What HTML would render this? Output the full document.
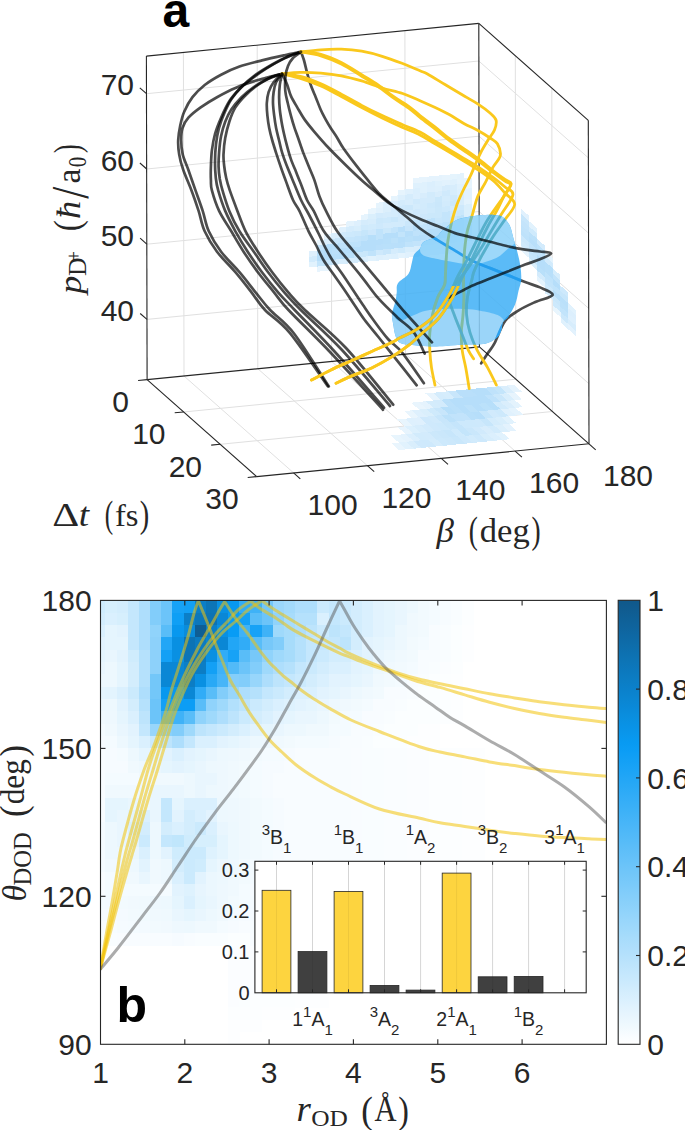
<!DOCTYPE html>
<html><head><meta charset="utf-8"><title>figure</title><style>
html,body{margin:0;padding:0;background:#fff;width:685px;height:1130px;overflow:hidden}
svg{display:block}
</style></head><body>
<svg width="685" height="1130" viewBox="0 0 685 1130">
<rect width="685" height="1130" fill="#fff"/>
<g><line x1="184" y1="376" x2="183.4" y2="52.5" stroke="#e0e0e0" stroke-width="1"/><line x1="257.8" y1="368.7" x2="257.2" y2="45.2" stroke="#e0e0e0" stroke-width="1"/><line x1="331.7" y1="361.5" x2="331.1" y2="37.9" stroke="#e0e0e0" stroke-width="1"/><line x1="405.5" y1="354.2" x2="404.9" y2="30.6" stroke="#e0e0e0" stroke-width="1"/><line x1="147" y1="319.4" x2="479.3" y2="286.7" stroke="#e0e0e0" stroke-width="1"/><line x1="146.8" y1="244.2" x2="479.1" y2="211.5" stroke="#e0e0e0" stroke-width="1"/><line x1="146.7" y1="169" x2="479" y2="136.2" stroke="#e0e0e0" stroke-width="1"/><line x1="146.5" y1="93.7" x2="478.8" y2="61" stroke="#e0e0e0" stroke-width="1"/><line x1="515.9" y1="379.2" x2="515.3" y2="55.7" stroke="#e0e0e0" stroke-width="1"/><line x1="552.4" y1="411.5" x2="551.8" y2="88" stroke="#e0e0e0" stroke-width="1"/><line x1="479.3" y1="286.7" x2="588.9" y2="383.7" stroke="#e0e0e0" stroke-width="1"/><line x1="479.1" y1="211.5" x2="588.7" y2="308.4" stroke="#e0e0e0" stroke-width="1"/><line x1="479" y1="136.2" x2="588.6" y2="233.2" stroke="#e0e0e0" stroke-width="1"/><line x1="478.8" y1="61" x2="588.4" y2="157.9" stroke="#e0e0e0" stroke-width="1"/><line x1="184" y1="376" x2="293.6" y2="472.9" stroke="#e0e0e0" stroke-width="1"/><line x1="257.8" y1="368.7" x2="367.4" y2="465.7" stroke="#e0e0e0" stroke-width="1"/><line x1="331.7" y1="361.5" x2="441.3" y2="458.4" stroke="#e0e0e0" stroke-width="1"/><line x1="405.5" y1="354.2" x2="515.1" y2="451.1" stroke="#e0e0e0" stroke-width="1"/><line x1="183.6" y1="412" x2="515.9" y2="379.2" stroke="#e0e0e0" stroke-width="1"/><line x1="220.1" y1="444.3" x2="552.4" y2="411.5" stroke="#e0e0e0" stroke-width="1"/></g>
<g shape-rendering="crispEdges"><path d="M309.4,267.3L316.7,266.6L316.7,261.3L309.3,262.1Z" fill="#e1f2fd"/><path d="M309.3,262.1L316.7,261.3L316.7,256.1L309.3,256.8Z" fill="#d2ebfc"/><path d="M309.3,256.8L316.7,256.1L316.7,250.8L309.3,251.5Z" fill="#def0fd"/><path d="M316.7,271.9L324.1,271.1L324.1,265.9L316.7,266.6Z" fill="#e7f4fd"/><path d="M316.7,266.6L324.1,265.9L324.1,260.6L316.7,261.3Z" fill="#c4e5fb"/><path d="M316.7,261.3L324.1,260.6L324.1,255.3L316.7,256.1Z" fill="#b6defa"/><path d="M316.7,256.1L324.1,255.3L324.1,250.1L316.7,250.8Z" fill="#b8dffa"/><path d="M316.7,250.8L324.1,250.1L324.1,244.8L316.7,245.5Z" fill="#c4e4fb"/><path d="M316.7,245.5L324.1,244.8L324.1,239.5L316.7,240.3Z" fill="#e8f5fd"/><path d="M324.1,271.1L331.5,270.4L331.5,265.2L324.1,265.9Z" fill="#e7f4fd"/><path d="M324.1,265.9L331.5,265.2L331.5,259.9L324.1,260.6Z" fill="#c6e5fb"/><path d="M324.1,260.6L331.5,259.9L331.5,254.6L324.1,255.3Z" fill="#b6defa"/><path d="M324.1,255.3L331.5,254.6L331.5,249.4L324.1,250.1Z" fill="#b6defa"/><path d="M324.1,250.1L331.5,249.4L331.5,244.1L324.1,244.8Z" fill="#b6defa"/><path d="M324.1,244.8L331.5,244.1L331.5,238.8L324.1,239.5Z" fill="#daeefc"/><path d="M324.1,239.5L331.5,238.8L331.4,233.5L324.1,234.3Z" fill="#e9f5fd"/><path d="M331.5,265.2L338.9,264.4L338.9,259.2L331.5,259.9Z" fill="#d0eafc"/><path d="M331.5,259.9L338.9,259.2L338.9,253.9L331.5,254.6Z" fill="#b8dffa"/><path d="M331.5,254.6L338.9,253.9L338.9,248.6L331.5,249.4Z" fill="#bbe0fa"/><path d="M331.5,249.4L338.9,248.6L338.8,243.4L331.5,244.1Z" fill="#b8dffa"/><path d="M331.5,244.1L338.8,243.4L338.8,238.1L331.5,238.8Z" fill="#c8e6fb"/><path d="M331.5,238.8L338.8,238.1L338.8,232.8L331.4,233.5Z" fill="#daeefc"/><path d="M338.9,264.4L346.3,263.7L346.3,258.4L338.9,259.2Z" fill="#d7edfc"/><path d="M338.9,259.2L346.3,258.4L346.3,253.2L338.9,253.9Z" fill="#b6defa"/><path d="M338.9,253.9L346.3,253.2L346.2,247.9L338.9,248.6Z" fill="#b6defa"/><path d="M338.9,248.6L346.2,247.9L346.2,242.6L338.8,243.4Z" fill="#bee2fb"/><path d="M338.8,243.4L346.2,242.6L346.2,237.4L338.8,238.1Z" fill="#c6e5fb"/><path d="M338.8,238.1L346.2,237.4L346.2,232.1L338.8,232.8Z" fill="#d1eafc"/><path d="M338.8,232.8L346.2,232.1L346.2,226.8L338.8,227.6Z" fill="#e0f1fd"/><path d="M346.3,263.7L353.7,263L353.6,257.7L346.3,258.4Z" fill="#d5ecfc"/><path d="M346.3,258.4L353.6,257.7L353.6,252.4L346.3,253.2Z" fill="#bae0fa"/><path d="M346.3,253.2L353.6,252.4L353.6,247.2L346.2,247.9Z" fill="#b6defa"/><path d="M346.2,247.9L353.6,247.2L353.6,241.9L346.2,242.6Z" fill="#bee2fa"/><path d="M346.2,242.6L353.6,241.9L353.6,236.6L346.2,237.4Z" fill="#c5e5fb"/><path d="M346.2,237.4L353.6,236.6L353.6,231.4L346.2,232.1Z" fill="#cde9fc"/><path d="M346.2,232.1L353.6,231.4L353.6,226.1L346.2,226.8Z" fill="#d5ecfc"/><path d="M346.2,226.8L353.6,226.1L353.6,220.8L346.2,221.6Z" fill="#e4f3fd"/><path d="M353.7,263L361,262.2L361,257L353.6,257.7Z" fill="#d3ebfc"/><path d="M353.6,257.7L361,257L361,251.7L353.6,252.4Z" fill="#cae7fb"/><path d="M353.6,252.4L361,251.7L361,246.4L353.6,247.2Z" fill="#b6defa"/><path d="M353.6,247.2L361,246.4L361,241.2L353.6,241.9Z" fill="#bee2fb"/><path d="M353.6,241.9L361,241.2L361,235.9L353.6,236.6Z" fill="#c3e4fb"/><path d="M353.6,236.6L361,235.9L361,230.6L353.6,231.4Z" fill="#cce8fb"/><path d="M353.6,231.4L361,230.6L361,225.4L353.6,226.1Z" fill="#d8eefc"/><path d="M353.6,226.1L361,225.4L361,220.1L353.6,220.8Z" fill="#def0fd"/><path d="M361,262.2L368.4,261.5L368.4,256.2L361,257Z" fill="#dbeffd"/><path d="M361,257L368.4,256.2L368.4,251L361,251.7Z" fill="#c9e7fb"/><path d="M361,251.7L368.4,251L368.4,245.7L361,246.4Z" fill="#b6defa"/><path d="M361,246.4L368.4,245.7L368.4,240.4L361,241.2Z" fill="#b6defa"/><path d="M361,241.2L368.4,240.4L368.4,235.2L361,235.9Z" fill="#c0e3fb"/><path d="M361,235.9L368.4,235.2L368.4,229.9L361,230.6Z" fill="#c6e6fb"/><path d="M361,230.6L368.4,229.9L368.4,224.6L361,225.4Z" fill="#cfeafc"/><path d="M361,225.4L368.4,224.6L368.3,219.4L361,220.1Z" fill="#d5ecfc"/><path d="M361,220.1L368.3,219.4L368.3,214.1L360.9,214.8Z" fill="#e6f4fd"/><path d="M368.4,261.5L375.8,260.8L375.8,255.5L368.4,256.2Z" fill="#e1f2fd"/><path d="M368.4,256.2L375.8,255.5L375.8,250.3L368.4,251Z" fill="#c0e3fb"/><path d="M368.4,251L375.8,250.3L375.8,245L368.4,245.7Z" fill="#b6defa"/><path d="M368.4,245.7L375.8,245L375.8,239.7L368.4,240.4Z" fill="#b6defa"/><path d="M368.4,240.4L375.8,239.7L375.8,234.5L368.4,235.2Z" fill="#b7dffa"/><path d="M368.4,235.2L375.8,234.5L375.7,229.2L368.4,229.9Z" fill="#cde8fc"/><path d="M368.4,229.9L375.7,229.2L375.7,223.9L368.4,224.6Z" fill="#d1ebfc"/><path d="M368.4,224.6L375.7,223.9L375.7,218.7L368.3,219.4Z" fill="#d7edfc"/><path d="M368.3,219.4L375.7,218.7L375.7,213.4L368.3,214.1Z" fill="#daeffc"/><path d="M368.3,214.1L375.7,213.4L375.7,208.1L368.3,208.8Z" fill="#e8f5fd"/><path d="M375.8,260.8L383.2,260.1L383.2,254.8L375.8,255.5Z" fill="#ddf0fd"/><path d="M375.8,255.5L383.2,254.8L383.2,249.5L375.8,250.3Z" fill="#cee9fc"/><path d="M375.8,250.3L383.2,249.5L383.2,244.3L375.8,245Z" fill="#b9dffa"/><path d="M375.8,245L383.2,244.3L383.2,239L375.8,239.7Z" fill="#b6defa"/><path d="M375.8,239.7L383.2,239L383.1,233.7L375.8,234.5Z" fill="#c0e3fb"/><path d="M375.8,234.5L383.1,233.7L383.1,228.5L375.7,229.2Z" fill="#c0e3fb"/><path d="M375.7,229.2L383.1,228.5L383.1,223.2L375.7,223.9Z" fill="#cee9fc"/><path d="M375.7,223.9L383.1,223.2L383.1,217.9L375.7,218.7Z" fill="#cce8fb"/><path d="M375.7,218.7L383.1,217.9L383.1,212.7L375.7,213.4Z" fill="#d3ebfc"/><path d="M375.7,213.4L383.1,212.7L383.1,207.4L375.7,208.1Z" fill="#e2f2fd"/><path d="M375.7,208.1L383.1,207.4L383.1,202.1L375.7,202.9Z" fill="#e6f4fd"/><path d="M383.2,260.1L390.6,259.3L390.6,254.1L383.2,254.8Z" fill="#dff1fd"/><path d="M383.2,254.8L390.6,254.1L390.6,248.8L383.2,249.5Z" fill="#c8e6fb"/><path d="M383.2,249.5L390.6,248.8L390.5,243.5L383.2,244.3Z" fill="#b9e0fa"/><path d="M383.2,244.3L390.5,243.5L390.5,238.3L383.2,239Z" fill="#b7dffa"/><path d="M383.2,239L390.5,238.3L390.5,233L383.1,233.7Z" fill="#b6defa"/><path d="M383.1,233.7L390.5,233L390.5,227.7L383.1,228.5Z" fill="#cbe8fb"/><path d="M383.1,228.5L390.5,227.7L390.5,222.5L383.1,223.2Z" fill="#d3ebfc"/><path d="M383.1,223.2L390.5,222.5L390.5,217.2L383.1,217.9Z" fill="#cde9fc"/><path d="M383.1,217.9L390.5,217.2L390.5,211.9L383.1,212.7Z" fill="#d5ecfc"/><path d="M383.1,212.7L390.5,211.9L390.5,206.7L383.1,207.4Z" fill="#dbeffc"/><path d="M383.1,207.4L390.5,206.7L390.5,201.4L383.1,202.1Z" fill="#ddf0fd"/><path d="M390.6,259.3L398,258.6L398,253.3L390.6,254.1Z" fill="#ddf0fd"/><path d="M390.6,254.1L398,253.3L397.9,248.1L390.6,248.8Z" fill="#d5ecfc"/><path d="M390.6,248.8L397.9,248.1L397.9,242.8L390.5,243.5Z" fill="#b9dffa"/><path d="M390.5,243.5L397.9,242.8L397.9,237.5L390.5,238.3Z" fill="#bce1fa"/><path d="M390.5,238.3L397.9,237.5L397.9,232.3L390.5,233Z" fill="#b6defa"/><path d="M390.5,233L397.9,232.3L397.9,227L390.5,227.7Z" fill="#c3e4fb"/><path d="M390.5,227.7L397.9,227L397.9,221.7L390.5,222.5Z" fill="#d2ebfc"/><path d="M390.5,222.5L397.9,221.7L397.9,216.5L390.5,217.2Z" fill="#c9e7fb"/><path d="M390.5,217.2L397.9,216.5L397.9,211.2L390.5,211.9Z" fill="#d4ecfc"/><path d="M390.5,211.9L397.9,211.2L397.9,205.9L390.5,206.7Z" fill="#d3ebfc"/><path d="M390.5,206.7L397.9,205.9L397.9,200.7L390.5,201.4Z" fill="#dbeffd"/><path d="M390.5,201.4L397.9,200.7L397.8,195.4L390.5,196.1Z" fill="#e6f4fd"/><path d="M398,258.6L405.3,257.9L405.3,252.6L398,253.3Z" fill="#e4f3fd"/><path d="M398,253.3L405.3,252.6L405.3,247.3L397.9,248.1Z" fill="#cfeafc"/><path d="M397.9,248.1L405.3,247.3L405.3,242.1L397.9,242.8Z" fill="#b8dffa"/><path d="M397.9,242.8L405.3,242.1L405.3,236.8L397.9,237.5Z" fill="#b6defa"/><path d="M397.9,237.5L405.3,236.8L405.3,231.5L397.9,232.3Z" fill="#c2e4fb"/><path d="M397.9,232.3L405.3,231.5L405.3,226.3L397.9,227Z" fill="#b9dffa"/><path d="M397.9,227L405.3,226.3L405.3,221L397.9,221.7Z" fill="#d2ebfc"/><path d="M397.9,221.7L405.3,221L405.3,215.7L397.9,216.5Z" fill="#d0eafc"/><path d="M397.9,216.5L405.3,215.7L405.3,210.5L397.9,211.2Z" fill="#d0eafc"/><path d="M397.9,211.2L405.3,210.5L405.2,205.2L397.9,205.9Z" fill="#cee9fc"/><path d="M397.9,205.9L405.2,205.2L405.2,199.9L397.9,200.7Z" fill="#d4ecfc"/><path d="M397.9,200.7L405.2,199.9L405.2,194.7L397.8,195.4Z" fill="#ddf0fd"/><path d="M397.8,195.4L405.2,194.7L405.2,189.4L397.8,190.1Z" fill="#e6f4fd"/><path d="M405.3,257.9L412.7,257.2L412.7,251.9L405.3,252.6Z" fill="#e0f1fd"/><path d="M405.3,252.6L412.7,251.9L412.7,246.6L405.3,247.3Z" fill="#d8eefc"/><path d="M405.3,247.3L412.7,246.6L412.7,241.4L405.3,242.1Z" fill="#c0e3fb"/><path d="M405.3,242.1L412.7,241.4L412.7,236.1L405.3,236.8Z" fill="#b9e0fa"/><path d="M405.3,236.8L412.7,236.1L412.7,230.8L405.3,231.5Z" fill="#b6defa"/><path d="M405.3,231.5L412.7,230.8L412.7,225.5L405.3,226.3Z" fill="#c6e5fb"/><path d="M405.3,226.3L412.7,225.5L412.7,220.3L405.3,221Z" fill="#cae7fb"/><path d="M405.3,221L412.7,220.3L412.7,215L405.3,215.7Z" fill="#d4ecfc"/><path d="M405.3,215.7L412.7,215L412.6,209.7L405.3,210.5Z" fill="#d4ecfc"/><path d="M405.3,210.5L412.6,209.7L412.6,204.5L405.2,205.2Z" fill="#cce8fb"/><path d="M405.2,205.2L412.6,204.5L412.6,199.2L405.2,199.9Z" fill="#d7edfc"/><path d="M405.2,199.9L412.6,199.2L412.6,193.9L405.2,194.7Z" fill="#d5ecfc"/><path d="M405.2,194.7L412.6,193.9L412.6,188.7L405.2,189.4Z" fill="#e0f1fd"/><path d="M412.7,257.2L420.1,256.4L420.1,251.2L412.7,251.9Z" fill="#e0f1fd"/><path d="M412.7,251.9L420.1,251.2L420.1,245.9L412.7,246.6Z" fill="#d7edfc"/><path d="M412.7,246.6L420.1,245.9L420.1,240.6L412.7,241.4Z" fill="#c3e4fb"/><path d="M412.7,241.4L420.1,240.6L420.1,235.4L412.7,236.1Z" fill="#b6defa"/><path d="M412.7,236.1L420.1,235.4L420.1,230.1L412.7,230.8Z" fill="#bfe2fb"/><path d="M412.7,230.8L420.1,230.1L420.1,224.8L412.7,225.5Z" fill="#b8dffa"/><path d="M412.7,225.5L420.1,224.8L420,219.6L412.7,220.3Z" fill="#c2e4fb"/><path d="M412.7,220.3L420,219.6L420,214.3L412.7,215Z" fill="#d3ebfc"/><path d="M412.7,215L420,214.3L420,209L412.6,209.7Z" fill="#cfe9fc"/><path d="M412.6,209.7L420,209L420,203.8L412.6,204.5Z" fill="#d4ecfc"/><path d="M412.6,204.5L420,203.8L420,198.5L412.6,199.2Z" fill="#d0eafc"/><path d="M412.6,199.2L420,198.5L420,193.2L412.6,193.9Z" fill="#dceffd"/><path d="M412.6,193.9L420,193.2L420,188L412.6,188.7Z" fill="#dbeffd"/><path d="M412.6,188.7L420,188L420,182.7L412.6,183.4Z" fill="#dff1fd"/><path d="M412.6,183.4L420,182.7L420,177.4L412.6,178.1Z" fill="#e7f4fd"/><path d="M420.1,256.4L427.5,255.7L427.5,250.4L420.1,251.2Z" fill="#e3f2fd"/><path d="M420.1,251.2L427.5,250.4L427.5,245.2L420.1,245.9Z" fill="#d5ecfc"/><path d="M420.1,245.9L427.5,245.2L427.5,239.9L420.1,240.6Z" fill="#c5e5fb"/><path d="M420.1,240.6L427.5,239.9L427.5,234.6L420.1,235.4Z" fill="#b6defa"/><path d="M420.1,235.4L427.5,234.6L427.5,229.4L420.1,230.1Z" fill="#bbe1fa"/><path d="M420.1,230.1L427.5,229.4L427.4,224.1L420.1,224.8Z" fill="#c3e4fb"/><path d="M420.1,224.8L427.4,224.1L427.4,218.8L420,219.6Z" fill="#cde9fc"/><path d="M420,219.6L427.4,218.8L427.4,213.6L420,214.3Z" fill="#cde8fc"/><path d="M420,214.3L427.4,213.6L427.4,208.3L420,209Z" fill="#d1eafc"/><path d="M420,209L427.4,208.3L427.4,203L420,203.8Z" fill="#d2ebfc"/><path d="M420,203.8L427.4,203L427.4,197.8L420,198.5Z" fill="#d3ebfc"/><path d="M420,198.5L427.4,197.8L427.4,192.5L420,193.2Z" fill="#d8edfc"/><path d="M420,193.2L427.4,192.5L427.4,187.2L420,188Z" fill="#dff1fd"/><path d="M420,188L427.4,187.2L427.4,182L420,182.7Z" fill="#dff1fd"/><path d="M420,182.7L427.4,182L427.3,176.7L420,177.4Z" fill="#e7f4fd"/><path d="M427.5,255.7L434.9,255L434.9,249.7L427.5,250.4Z" fill="#e5f3fd"/><path d="M427.5,250.4L434.9,249.7L434.9,244.4L427.5,245.2Z" fill="#d4ecfc"/><path d="M427.5,245.2L434.9,244.4L434.9,239.2L427.5,239.9Z" fill="#cce8fb"/><path d="M427.5,239.9L434.9,239.2L434.8,233.9L427.5,234.6Z" fill="#b6defa"/><path d="M427.5,234.6L434.8,233.9L434.8,228.6L427.5,229.4Z" fill="#b6defa"/><path d="M427.5,229.4L434.8,228.6L434.8,223.4L427.4,224.1Z" fill="#bfe2fb"/><path d="M427.4,224.1L434.8,223.4L434.8,218.1L427.4,218.8Z" fill="#bee2fb"/><path d="M427.4,218.8L434.8,218.1L434.8,212.8L427.4,213.6Z" fill="#cbe8fb"/><path d="M427.4,213.6L434.8,212.8L434.8,207.6L427.4,208.3Z" fill="#cfeafc"/><path d="M427.4,208.3L434.8,207.6L434.8,202.3L427.4,203Z" fill="#cde9fc"/><path d="M427.4,203L434.8,202.3L434.8,197L427.4,197.8Z" fill="#d3ebfc"/><path d="M427.4,197.8L434.8,197L434.8,191.8L427.4,192.5Z" fill="#d2ebfc"/><path d="M427.4,192.5L434.8,191.8L434.8,186.5L427.4,187.2Z" fill="#dceffd"/><path d="M427.4,187.2L434.8,186.5L434.7,181.2L427.4,182Z" fill="#dbeffd"/><path d="M427.4,182L434.7,181.2L434.7,176L427.3,176.7Z" fill="#e5f3fd"/><path d="M434.9,255L442.3,254.2L442.3,249L434.9,249.7Z" fill="#e6f4fd"/><path d="M434.9,249.7L442.3,249L442.3,243.7L434.9,244.4Z" fill="#d5ecfc"/><path d="M434.9,244.4L442.3,243.7L442.2,238.4L434.9,239.2Z" fill="#d1eafc"/><path d="M434.9,239.2L442.2,238.4L442.2,233.2L434.8,233.9Z" fill="#b6defa"/><path d="M434.8,233.9L442.2,233.2L442.2,227.9L434.8,228.6Z" fill="#b6defa"/><path d="M434.8,228.6L442.2,227.9L442.2,222.6L434.8,223.4Z" fill="#c0e3fb"/><path d="M434.8,223.4L442.2,222.6L442.2,217.4L434.8,218.1Z" fill="#c7e6fb"/><path d="M434.8,218.1L442.2,217.4L442.2,212.1L434.8,212.8Z" fill="#cbe8fb"/><path d="M434.8,212.8L442.2,212.1L442.2,206.8L434.8,207.6Z" fill="#cbe8fb"/><path d="M434.8,207.6L442.2,206.8L442.2,201.6L434.8,202.3Z" fill="#cae7fb"/><path d="M434.8,202.3L442.2,201.6L442.2,196.3L434.8,197Z" fill="#cbe8fb"/><path d="M434.8,197L442.2,196.3L442.1,191L434.8,191.8Z" fill="#d8edfc"/><path d="M434.8,191.8L442.1,191L442.1,185.8L434.8,186.5Z" fill="#ddf0fd"/><path d="M434.8,186.5L442.1,185.8L442.1,180.5L434.7,181.2Z" fill="#dff1fd"/><path d="M434.7,181.2L442.1,180.5L442.1,175.2L434.7,176Z" fill="#e5f3fd"/><path d="M442.3,254.2L449.7,253.5L449.6,248.2L442.3,249Z" fill="#e2f2fd"/><path d="M442.3,249L449.6,248.2L449.6,243L442.3,243.7Z" fill="#d6edfc"/><path d="M442.3,243.7L449.6,243L449.6,237.7L442.2,238.4Z" fill="#d3ebfc"/><path d="M442.2,238.4L449.6,237.7L449.6,232.4L442.2,233.2Z" fill="#b6defa"/><path d="M442.2,233.2L449.6,232.4L449.6,227.2L442.2,227.9Z" fill="#b9e0fa"/><path d="M442.2,227.9L449.6,227.2L449.6,221.9L442.2,222.6Z" fill="#bce1fa"/><path d="M442.2,222.6L449.6,221.9L449.6,216.6L442.2,217.4Z" fill="#c4e5fb"/><path d="M442.2,217.4L449.6,216.6L449.6,211.4L442.2,212.1Z" fill="#c4e5fb"/><path d="M442.2,212.1L449.6,211.4L449.6,206.1L442.2,206.8Z" fill="#cde9fc"/><path d="M442.2,206.8L449.6,206.1L449.6,200.8L442.2,201.6Z" fill="#d2ebfc"/><path d="M442.2,201.6L449.6,200.8L449.5,195.6L442.2,196.3Z" fill="#d4ecfc"/><path d="M442.2,196.3L449.5,195.6L449.5,190.3L442.1,191Z" fill="#d0eafc"/><path d="M442.1,191L449.5,190.3L449.5,185L442.1,185.8Z" fill="#d6ecfc"/><path d="M442.1,185.8L449.5,185L449.5,179.8L442.1,180.5Z" fill="#e2f2fd"/><path d="M442.1,180.5L449.5,179.8L449.5,174.5L442.1,175.2Z" fill="#e7f4fd"/><path d="M449.7,253.5L457,252.8L457,247.5L449.6,248.2Z" fill="#e3f2fd"/><path d="M449.6,248.2L457,247.5L457,242.3L449.6,243Z" fill="#e0f1fd"/><path d="M449.6,243L457,242.3L457,237L449.6,237.7Z" fill="#d2ebfc"/><path d="M449.6,237.7L457,237L457,231.7L449.6,232.4Z" fill="#bfe2fb"/><path d="M449.6,232.4L457,231.7L457,226.5L449.6,227.2Z" fill="#b6defa"/><path d="M449.6,227.2L457,226.5L457,221.2L449.6,221.9Z" fill="#bae0fa"/><path d="M449.6,221.9L457,221.2L457,215.9L449.6,216.6Z" fill="#c6e6fb"/><path d="M449.6,216.6L457,215.9L457,210.7L449.6,211.4Z" fill="#cde9fc"/><path d="M449.6,211.4L457,210.7L456.9,205.4L449.6,206.1Z" fill="#d3ebfc"/><path d="M449.6,206.1L456.9,205.4L456.9,200.1L449.6,200.8Z" fill="#cbe8fb"/><path d="M449.6,200.8L456.9,200.1L456.9,194.9L449.5,195.6Z" fill="#cfeafc"/><path d="M449.5,195.6L456.9,194.9L456.9,189.6L449.5,190.3Z" fill="#d6edfc"/><path d="M449.5,190.3L456.9,189.6L456.9,184.3L449.5,185Z" fill="#d7edfc"/><path d="M449.5,185L456.9,184.3L456.9,179L449.5,179.8Z" fill="#dff1fd"/><path d="M449.5,179.8L456.9,179L456.9,173.8L449.5,174.5Z" fill="#e5f4fd"/><path d="M457,252.8L464.4,252.1L464.4,246.8L457,247.5Z" fill="#e7f4fd"/><path d="M457,247.5L464.4,246.8L464.4,241.5L457,242.3Z" fill="#dff1fd"/><path d="M457,242.3L464.4,241.5L464.4,236.3L457,237Z" fill="#d6edfc"/><path d="M457,237L464.4,236.3L464.4,231L457,231.7Z" fill="#c3e4fb"/><path d="M457,231.7L464.4,231L464.4,225.7L457,226.5Z" fill="#c0e3fb"/><path d="M457,226.5L464.4,225.7L464.4,220.5L457,221.2Z" fill="#bee2fb"/><path d="M457,221.2L464.4,220.5L464.4,215.2L457,215.9Z" fill="#bde2fa"/><path d="M457,215.9L464.4,215.2L464.3,209.9L457,210.7Z" fill="#c9e7fb"/><path d="M457,210.7L464.3,209.9L464.3,204.7L456.9,205.4Z" fill="#cee9fc"/><path d="M456.9,205.4L464.3,204.7L464.3,199.4L456.9,200.1Z" fill="#d8edfc"/><path d="M456.9,200.1L464.3,199.4L464.3,194.1L456.9,194.9Z" fill="#d8eefc"/><path d="M456.9,194.9L464.3,194.1L464.3,188.9L456.9,189.6Z" fill="#dcf0fd"/><path d="M456.9,189.6L464.3,188.9L464.3,183.6L456.9,184.3Z" fill="#dff1fd"/><path d="M456.9,184.3L464.3,183.6L464.3,178.3L456.9,179Z" fill="#e4f3fd"/><path d="M456.9,179L464.3,178.3L464.3,173.1L456.9,173.8Z" fill="#e3f3fd"/><path d="M464.4,241.5L471.8,240.8L471.8,235.5L464.4,236.3Z" fill="#e0f1fd"/><path d="M464.4,236.3L471.8,235.5L471.8,230.3L464.4,231Z" fill="#d3ebfc"/><path d="M464.4,231L471.8,230.3L471.8,225L464.4,225.7Z" fill="#cee9fc"/><path d="M464.4,225.7L471.8,225L471.7,219.7L464.4,220.5Z" fill="#cae7fb"/><path d="M464.4,220.5L471.7,219.7L471.7,214.5L464.4,215.2Z" fill="#daeefc"/><path d="M464.4,215.2L471.7,214.5L471.7,209.2L464.3,209.9Z" fill="#daeffc"/><path d="M464.3,209.9L471.7,209.2L471.7,203.9L464.3,204.7Z" fill="#daeffc"/><path d="M464.3,204.7L471.7,203.9L471.7,198.7L464.3,199.4Z" fill="#e4f3fd"/><path d="M464.3,199.4L471.7,198.7L471.7,193.4L464.3,194.1Z" fill="#e2f2fd"/><path d="M464.3,194.1L471.7,193.4L471.7,188.1L464.3,188.9Z" fill="#e2f2fd"/><path d="M464.3,188.9L471.7,188.1L471.7,182.9L464.3,183.6Z" fill="#e8f5fd"/><path d="M464.3,183.6L471.7,182.9L471.7,177.6L464.3,178.3Z" fill="#e7f4fd"/><path d="M521.1,250.9L529,257.8L529,252.6L521.1,245.6Z" fill="#e5f3fd"/><path d="M521.1,245.6L529,252.6L529,247.3L521.1,240.4Z" fill="#d0eafc"/><path d="M521.1,240.4L529,247.3L529,242L521.1,235.1Z" fill="#cce8fc"/><path d="M521.1,235.1L529,242L528.9,236.8L521.1,229.8Z" fill="#bee2fb"/><path d="M521.1,229.8L528.9,236.8L528.9,231.5L521.1,224.6Z" fill="#c1e3fb"/><path d="M521.1,224.6L528.9,231.5L528.9,226.2L521.1,219.3Z" fill="#c4e4fb"/><path d="M521.1,219.3L528.9,226.2L528.9,221L521.1,214Z" fill="#c8e6fb"/><path d="M521.1,214L528.9,221L528.9,215.7L521.1,208.8Z" fill="#e1f1fd"/><path d="M529,263.1L536.9,270.1L536.8,264.8L529,257.8Z" fill="#daeffc"/><path d="M529,257.8L536.8,264.8L536.8,259.5L529,252.6Z" fill="#c7e6fb"/><path d="M529,252.6L536.8,259.5L536.8,254.3L529,247.3Z" fill="#c3e4fb"/><path d="M529,247.3L536.8,254.3L536.8,249L529,242Z" fill="#c1e3fb"/><path d="M529,242L536.8,249L536.8,243.7L528.9,236.8Z" fill="#b9dffa"/><path d="M528.9,236.8L536.8,243.7L536.8,238.5L528.9,231.5Z" fill="#bce1fa"/><path d="M528.9,231.5L536.8,238.5L536.8,233.2L528.9,226.2Z" fill="#cfeafc"/><path d="M528.9,226.2L536.8,233.2L536.8,227.9L528.9,221Z" fill="#e1f2fd"/><path d="M536.9,280.6L544.7,287.5L544.7,282.3L536.9,275.3Z" fill="#e4f3fd"/><path d="M536.9,275.3L544.7,282.3L544.7,277L536.9,270.1Z" fill="#d3ebfc"/><path d="M536.9,270.1L544.7,277L544.7,271.7L536.8,264.8Z" fill="#b9e0fa"/><path d="M536.8,264.8L544.7,271.7L544.7,266.5L536.8,259.5Z" fill="#b6defa"/><path d="M536.8,259.5L544.7,266.5L544.7,261.2L536.8,254.3Z" fill="#b6defa"/><path d="M536.8,254.3L544.7,261.2L544.7,255.9L536.8,249Z" fill="#c1e3fb"/><path d="M536.8,249L544.7,255.9L544.7,250.7L536.8,243.7Z" fill="#bee2fb"/><path d="M536.8,243.7L544.7,250.7L544.6,245.4L536.8,238.5Z" fill="#d3ebfc"/><path d="M544.7,292.8L552.6,299.7L552.6,294.5L544.7,287.5Z" fill="#d7edfc"/><path d="M544.7,287.5L552.6,294.5L552.6,289.2L544.7,282.3Z" fill="#cce8fb"/><path d="M544.7,282.3L552.6,289.2L552.6,283.9L544.7,277Z" fill="#c3e4fb"/><path d="M544.7,277L552.6,283.9L552.6,278.7L544.7,271.7Z" fill="#c0e3fb"/><path d="M544.7,271.7L552.6,278.7L552.5,273.4L544.7,266.5Z" fill="#b8dffa"/><path d="M544.7,266.5L552.5,273.4L552.5,268.1L544.7,261.2Z" fill="#b7dffa"/><path d="M544.7,261.2L552.5,268.1L552.5,262.9L544.7,255.9Z" fill="#d2ebfc"/><path d="M544.7,255.9L552.5,262.9L552.5,257.6L544.7,250.7Z" fill="#e4f3fd"/><path d="M552.6,310.3L560.5,317.2L560.5,312L552.6,305Z" fill="#e8f5fd"/><path d="M552.6,305L560.5,312L560.4,306.7L552.6,299.7Z" fill="#cde9fc"/><path d="M552.6,299.7L560.4,306.7L560.4,301.4L552.6,294.5Z" fill="#c9e7fb"/><path d="M552.6,294.5L560.4,301.4L560.4,296.2L552.6,289.2Z" fill="#b6defa"/><path d="M552.6,289.2L560.4,296.2L560.4,290.9L552.6,283.9Z" fill="#c0e3fb"/><path d="M552.6,283.9L560.4,290.9L560.4,285.6L552.6,278.7Z" fill="#b6defa"/><path d="M552.6,278.7L560.4,285.6L560.4,280.4L552.5,273.4Z" fill="#c3e4fb"/><path d="M552.5,273.4L560.4,280.4L560.4,275.1L552.5,268.1Z" fill="#d6edfc"/><path d="M560.5,322.5L568.3,329.4L568.3,324.2L560.5,317.2Z" fill="#dff1fd"/><path d="M560.5,317.2L568.3,324.2L568.3,318.9L560.5,312Z" fill="#cce8fb"/><path d="M560.5,312L568.3,318.9L568.3,313.6L560.4,306.7Z" fill="#c2e4fb"/><path d="M560.4,306.7L568.3,313.6L568.3,308.4L560.4,301.4Z" fill="#bce1fa"/><path d="M560.4,301.4L568.3,308.4L568.3,303.1L560.4,296.2Z" fill="#bae0fa"/><path d="M560.4,296.2L568.3,303.1L568.3,297.8L560.4,290.9Z" fill="#c7e6fb"/><path d="M560.4,290.9L568.3,297.8L568.3,292.6L560.4,285.6Z" fill="#cee9fc"/><path d="M568.3,329.4L576.2,336.4L576.2,331.1L568.3,324.2Z" fill="#e3f2fd"/><path d="M568.3,324.2L576.2,331.1L576.2,325.9L568.3,318.9Z" fill="#d7edfc"/><path d="M568.3,318.9L576.2,325.9L576.2,320.6L568.3,313.6Z" fill="#def0fd"/><path d="M568.3,313.6L576.2,320.6L576.1,315.3L568.3,308.4Z" fill="#dceffd"/><path d="M568.3,308.4L576.1,315.3L576.1,310.1L568.3,303.1Z" fill="#e1f2fd"/><path d="M391.3,443.2L398.7,442.5L406.5,449.4L399.1,450.2Z" fill="#e9f5fd"/><path d="M390.8,435.5L398.2,434.8L406.1,441.8L398.7,442.5Z" fill="#e8f5fd"/><path d="M398.7,442.5L406.1,441.8L413.9,448.7L406.5,449.4Z" fill="#e1f2fd"/><path d="M398.2,434.8L405.6,434.1L413.4,441L406.1,441.8Z" fill="#e5f3fd"/><path d="M406.1,441.8L413.4,441L421.3,448L413.9,448.7Z" fill="#d9eefc"/><path d="M397.7,427.1L405.1,426.4L413,433.4L405.6,434.1Z" fill="#e7f4fd"/><path d="M405.6,434.1L413,433.4L420.8,440.3L413.4,441Z" fill="#dbeffd"/><path d="M413.4,441L420.8,440.3L428.7,447.2L421.3,448Z" fill="#cfe9fc"/><path d="M397.3,419.5L404.7,418.7L412.5,425.7L405.1,426.4Z" fill="#e8f5fd"/><path d="M405.1,426.4L412.5,425.7L420.4,432.6L413,433.4Z" fill="#dcf0fd"/><path d="M413,433.4L420.4,432.6L428.2,439.6L420.8,440.3Z" fill="#d2ebfc"/><path d="M420.8,440.3L428.2,439.6L436.1,446.5L428.7,447.2Z" fill="#cee9fc"/><path d="M404.7,418.7L412,418L419.9,425L412.5,425.7Z" fill="#def0fd"/><path d="M412.5,425.7L419.9,425L427.7,431.9L420.4,432.6Z" fill="#d7edfc"/><path d="M420.4,432.6L427.7,431.9L435.6,438.8L428.2,439.6Z" fill="#d3ebfc"/><path d="M428.2,439.6L435.6,438.8L443.5,445.8L436.1,446.5Z" fill="#d4ecfc"/><path d="M404.2,411.1L411.6,410.3L419.4,417.3L412,418Z" fill="#e9f5fd"/><path d="M412,418L419.4,417.3L427.3,424.2L419.9,425Z" fill="#dff0fd"/><path d="M419.9,425L427.3,424.2L435.1,431.2L427.7,431.9Z" fill="#d3ebfc"/><path d="M427.7,431.9L435.1,431.2L443,438.1L435.6,438.8Z" fill="#cce8fb"/><path d="M435.6,438.8L443,438.1L450.8,445.1L443.5,445.8Z" fill="#cde9fc"/><path d="M411.6,410.3L418.9,409.6L426.8,416.6L419.4,417.3Z" fill="#def0fd"/><path d="M419.4,417.3L426.8,416.6L434.7,423.5L427.3,424.2Z" fill="#cfe9fc"/><path d="M427.3,424.2L434.7,423.5L442.5,430.4L435.1,431.2Z" fill="#cfe9fc"/><path d="M435.1,431.2L442.5,430.4L450.4,437.4L443,438.1Z" fill="#cae7fb"/><path d="M443,438.1L450.4,437.4L458.2,444.3L450.8,445.1Z" fill="#cce8fb"/><path d="M411.1,402.7L418.5,401.9L426.3,408.9L418.9,409.6Z" fill="#e9f5fd"/><path d="M418.9,409.6L426.3,408.9L434.2,415.8L426.8,416.6Z" fill="#daeffc"/><path d="M426.8,416.6L434.2,415.8L442,422.8L434.7,423.5Z" fill="#d1eafc"/><path d="M434.7,423.5L442,422.8L449.9,429.7L442.5,430.4Z" fill="#cde9fc"/><path d="M442.5,430.4L449.9,429.7L457.8,436.7L450.4,437.4Z" fill="#c7e6fb"/><path d="M450.4,437.4L457.8,436.7L465.6,443.6L458.2,444.3Z" fill="#c9e7fb"/><path d="M418.5,401.9L425.9,401.2L433.7,408.1L426.3,408.9Z" fill="#e5f3fd"/><path d="M426.3,408.9L433.7,408.1L441.6,415.1L434.2,415.8Z" fill="#cfeafc"/><path d="M434.2,415.8L441.6,415.1L449.4,422L442,422.8Z" fill="#c8e6fb"/><path d="M442,422.8L449.4,422L457.3,429L449.9,429.7Z" fill="#c9e7fb"/><path d="M449.9,429.7L457.3,429L465.1,435.9L457.8,436.7Z" fill="#cfeafc"/><path d="M457.8,436.7L465.1,435.9L473,442.9L465.6,443.6Z" fill="#cee9fc"/><path d="M425.9,401.2L433.2,400.5L441.1,407.4L433.7,408.1Z" fill="#d4ecfc"/><path d="M433.7,408.1L441.1,407.4L449,414.4L441.6,415.1Z" fill="#c8e6fb"/><path d="M441.6,415.1L449,414.4L456.8,421.3L449.4,422Z" fill="#bce1fa"/><path d="M449.4,422L456.8,421.3L464.7,428.3L457.3,429Z" fill="#c5e5fb"/><path d="M457.3,429L464.7,428.3L472.5,435.2L465.1,435.9Z" fill="#c4e5fb"/><path d="M465.1,435.9L472.5,435.2L480.4,442.2L473,442.9Z" fill="#d2ebfc"/><path d="M425.4,393.5L432.8,392.8L440.6,399.7L433.2,400.5Z" fill="#e7f4fd"/><path d="M433.2,400.5L440.6,399.7L448.5,406.7L441.1,407.4Z" fill="#d3ebfc"/><path d="M441.1,407.4L448.5,406.7L456.3,413.6L449,414.4Z" fill="#b7dffa"/><path d="M449,414.4L456.3,413.6L464.2,420.6L456.8,421.3Z" fill="#c1e3fb"/><path d="M456.8,421.3L464.2,420.6L472.1,427.5L464.7,428.3Z" fill="#cde9fc"/><path d="M464.7,428.3L472.1,427.5L479.9,434.5L472.5,435.2Z" fill="#cae7fb"/><path d="M472.5,435.2L479.9,434.5L487.8,441.4L480.4,442.2Z" fill="#cee9fc"/><path d="M432.8,392.8L440.2,392.1L448,399L440.6,399.7Z" fill="#d4ecfc"/><path d="M440.6,399.7L448,399L455.9,406L448.5,406.7Z" fill="#bbe0fa"/><path d="M448.5,406.7L455.9,406L463.7,412.9L456.3,413.6Z" fill="#bae0fa"/><path d="M456.3,413.6L463.7,412.9L471.6,419.9L464.2,420.6Z" fill="#c2e3fb"/><path d="M464.2,420.6L471.6,419.9L479.4,426.8L472.1,427.5Z" fill="#cde9fc"/><path d="M472.1,427.5L479.4,426.8L487.3,433.8L479.9,434.5Z" fill="#d1eafc"/><path d="M479.9,434.5L487.3,433.8L495.1,440.7L487.8,441.4Z" fill="#d6edfc"/><path d="M440.2,392.1L447.5,391.3L455.4,398.3L448,399Z" fill="#d6edfc"/><path d="M448,399L455.4,398.3L463.3,405.2L455.9,406Z" fill="#b6defa"/><path d="M455.9,406L463.3,405.2L471.1,412.2L463.7,412.9Z" fill="#b6defa"/><path d="M463.7,412.9L471.1,412.2L479,419.1L471.6,419.9Z" fill="#b8dffa"/><path d="M471.6,419.9L479,419.1L486.8,426.1L479.4,426.8Z" fill="#cee9fc"/><path d="M479.4,426.8L486.8,426.1L494.7,433L487.3,433.8Z" fill="#d8edfc"/><path d="M487.3,433.8L494.7,433L502.5,440L495.1,440.7Z" fill="#dbeffd"/><path d="M447.5,391.3L454.9,390.6L462.8,397.6L455.4,398.3Z" fill="#c8e6fb"/><path d="M455.4,398.3L462.8,397.6L470.6,404.5L463.3,405.2Z" fill="#b6defa"/><path d="M463.3,405.2L470.6,404.5L478.5,411.5L471.1,412.2Z" fill="#bce1fa"/><path d="M471.1,412.2L478.5,411.5L486.4,418.4L479,419.1Z" fill="#b6defa"/><path d="M479,419.1L486.4,418.4L494.2,425.4L486.8,426.1Z" fill="#c7e6fb"/><path d="M486.8,426.1L494.2,425.4L502.1,432.3L494.7,433Z" fill="#d2ebfc"/><path d="M494.7,433L502.1,432.3L509.9,439.2L502.5,440Z" fill="#e1f2fd"/><path d="M454.9,390.6L462.3,389.9L470.2,396.8L462.8,397.6Z" fill="#b9dffa"/><path d="M462.8,397.6L470.2,396.8L478,403.8L470.6,404.5Z" fill="#b6defa"/><path d="M470.6,404.5L478,403.8L485.9,410.7L478.5,411.5Z" fill="#b6defa"/><path d="M478.5,411.5L485.9,410.7L493.7,417.7L486.4,418.4Z" fill="#c7e6fb"/><path d="M486.4,418.4L493.7,417.7L501.6,424.6L494.2,425.4Z" fill="#d4ecfc"/><path d="M494.2,425.4L501.6,424.6L509.4,431.6L502.1,432.3Z" fill="#dbeffc"/><path d="M462.3,389.9L469.7,389.2L477.6,396.1L470.2,396.8Z" fill="#b9dffa"/><path d="M470.2,396.8L477.6,396.1L485.4,403.1L478,403.8Z" fill="#b6defa"/><path d="M478,403.8L485.4,403.1L493.3,410L485.9,410.7Z" fill="#bbe1fa"/><path d="M485.9,410.7L493.3,410L501.1,417L493.7,417.7Z" fill="#d1eafc"/><path d="M493.7,417.7L501.1,417L509,423.9L501.6,424.6Z" fill="#d8eefc"/><path d="M501.6,424.6L509,423.9L516.8,430.8L509.4,431.6Z" fill="#e3f2fd"/><path d="M469.7,389.2L477.1,388.4L484.9,395.4L477.6,396.1Z" fill="#b6defa"/><path d="M477.6,396.1L484.9,395.4L492.8,402.3L485.4,403.1Z" fill="#b6defa"/><path d="M485.4,403.1L492.8,402.3L500.6,409.3L493.3,410Z" fill="#b7dffa"/><path d="M493.3,410L500.6,409.3L508.5,416.2L501.1,417Z" fill="#cde9fc"/><path d="M501.1,417L508.5,416.2L516.4,423.2L509,423.9Z" fill="#e1f2fd"/><path d="M477.1,388.4L484.5,387.7L492.3,394.7L484.9,395.4Z" fill="#b6defa"/><path d="M484.9,395.4L492.3,394.7L500.2,401.6L492.8,402.3Z" fill="#bfe2fb"/><path d="M492.8,402.3L500.2,401.6L508,408.6L500.6,409.3Z" fill="#d2ebfc"/><path d="M500.6,409.3L508,408.6L515.9,415.5L508.5,416.2Z" fill="#e0f1fd"/><path d="M484.5,387.7L491.9,387L499.7,393.9L492.3,394.7Z" fill="#bfe2fb"/><path d="M492.3,394.7L499.7,393.9L507.6,400.9L500.2,401.6Z" fill="#cae7fb"/><path d="M500.2,401.6L507.6,400.9L515.4,407.8L508,408.6Z" fill="#daeefc"/><path d="M508,408.6L515.4,407.8L523.3,414.8L515.9,415.5Z" fill="#e4f3fd"/><path d="M491.9,387L499.2,386.3L507.1,393.2L499.7,393.9Z" fill="#c4e5fb"/><path d="M499.7,393.9L507.1,393.2L514.9,400.1L507.6,400.9Z" fill="#d9eefc"/><path d="M507.6,400.9L514.9,400.1L522.8,407.1L515.4,407.8Z" fill="#e4f3fd"/><path d="M499.2,386.3L506.6,385.5L514.5,392.5L507.1,393.2Z" fill="#daeefc"/><path d="M507.1,393.2L514.5,392.5L522.3,399.4L514.9,400.1Z" fill="#e7f4fd"/><path d="M506.6,385.5L514,384.8L521.9,391.7L514.5,392.5Z" fill="#e5f3fd"/></g>
<g stroke-linecap="butt"><line x1="147.1" y1="379.6" x2="146.4" y2="56.1" stroke="#262626" stroke-width="1.1"/><line x1="146.4" y1="56.1" x2="478.8" y2="23.4" stroke="#262626" stroke-width="1.1"/><line x1="478.8" y1="23.4" x2="479.4" y2="346.9" stroke="#262626" stroke-width="1.1"/><line x1="478.8" y1="23.4" x2="588.3" y2="120.3" stroke="#262626" stroke-width="1.1"/><line x1="588.3" y1="120.3" x2="589" y2="443.8" stroke="#262626" stroke-width="1.1"/><line x1="256.7" y1="476.6" x2="589" y2="443.8" stroke="#262626" stroke-width="1.1"/><line x1="147.1" y1="379.6" x2="256.7" y2="476.6" stroke="#262626" stroke-width="1.1"/><line x1="147.1" y1="379.6" x2="479.4" y2="346.9" stroke="#262626" stroke-width="1.1"/><line x1="479.4" y1="346.9" x2="589" y2="443.8" stroke="#262626" stroke-width="1.1"/><line x1="147" y1="319.4" x2="140.2" y2="313.5" stroke="#262626" stroke-width="1.1"/><line x1="146.8" y1="244.2" x2="140.1" y2="238.2" stroke="#262626" stroke-width="1.1"/><line x1="146.7" y1="169" x2="139.9" y2="163" stroke="#262626" stroke-width="1.1"/><line x1="146.5" y1="93.7" x2="139.8" y2="87.8" stroke="#262626" stroke-width="1.1"/><line x1="147.1" y1="379.6" x2="138.1" y2="380.5" stroke="#262626" stroke-width="1.1"/><line x1="183.6" y1="412" x2="174.7" y2="412.8" stroke="#262626" stroke-width="1.1"/><line x1="220.1" y1="444.3" x2="211.2" y2="445.1" stroke="#262626" stroke-width="1.1"/><line x1="256.7" y1="476.6" x2="247.7" y2="477.5" stroke="#262626" stroke-width="1.1"/><line x1="293.6" y1="472.9" x2="300.3" y2="478.9" stroke="#262626" stroke-width="1.1"/><line x1="367.4" y1="465.7" x2="374.2" y2="471.6" stroke="#262626" stroke-width="1.1"/><line x1="441.3" y1="458.4" x2="448" y2="464.4" stroke="#262626" stroke-width="1.1"/><line x1="515.1" y1="451.1" x2="521.9" y2="457.1" stroke="#262626" stroke-width="1.1"/><line x1="589" y1="443.8" x2="595.7" y2="449.8" stroke="#262626" stroke-width="1.1"/></g>
<g fill="none" stroke="#000" stroke-opacity="0.7" stroke-width="2.7" stroke-linejoin="round" stroke-linecap="round"><path d="M301,51.9C298.2,52.5 290.9,53.9 284.4,55.3C277.9,56.7 269.5,58.5 262,60.4C254.5,62.3 246.3,64.2 239.5,66.6C232.7,69 226.9,71.6 221.1,74.7C215.3,77.8 209.5,81.2 204.7,85C199.9,88.8 195.9,92.8 192.5,97.2C189.1,101.6 186.4,106.7 184.3,111.5C182.2,116.3 181.2,121 180.2,125.8C179.2,130.6 178.4,135.3 178.2,140.1C178,144.9 178.3,149.4 179.2,154.4C180,159.4 181.2,164 183.3,170C185.4,176 188.9,183.6 191.5,190.4C194.1,197.2 196.4,204.1 198.6,210.9C200.8,217.7 201.6,224.5 204.7,231.3C207.8,238.1 211.9,244.9 217,251.7C222.1,258.5 229.6,265.4 235.4,272.2C241.2,279 246.8,286.3 251.7,292.6C256.6,298.9 258.6,303.2 265,310C271.4,316.8 279.5,320.4 290,333.1C300.5,345.8 321.5,377.4 327.8,386.3"/><path d="M282.2,73.8C279.5,74.5 271.2,76.4 266.1,77.8C261,79.2 256.8,80.2 251.7,81.9C246.6,83.6 241.2,85.5 235.4,88C229.6,90.5 222.8,94 217,97.2C211.2,100.4 205.5,104 200.7,107.4C195.9,110.8 191.4,114.3 188.4,117.7C185.4,121.1 183.7,124.3 182.5,128C181.3,131.7 181.2,135.7 181.2,140.1C181.2,144.5 181.5,149.4 182.7,154.4C183.9,159.4 186.3,164 188.4,170C190.5,176 193.1,183.6 195.5,190.4C197.9,197.2 200.5,204.1 202.7,210.9C204.9,217.7 205.7,224.5 208.8,231.3C211.9,238.1 216,244.9 221.1,251.7C226.2,258.5 233.7,265.4 239.5,272.2C245.3,279 250.7,286.3 255.8,292.6C260.9,298.9 263.7,303.2 270.1,310C276.5,316.8 284.2,320.8 294,333.5C303.8,346.2 323,377.5 328.8,386.3"/><path d="M301,51.9C298.2,53 290.2,55.6 284.4,58.4C278.6,61.2 271.6,65.2 266.1,68.6C260.7,72 256.1,75.4 251.7,78.8C247.3,82.2 243.2,85.2 239.5,89C235.8,92.8 232.4,96.5 229.3,101.3C226.2,106.1 223.5,112.2 221.1,117.7C218.7,123.2 216.5,128.6 215,134C213.5,139.4 212.6,145 211.9,150.4C211.2,155.8 211.1,161.8 210.9,166.7C210.7,171.6 210.7,176.1 210.9,180C211.1,183.9 210.5,185.2 211.9,190.4C213.3,195.6 215.9,204.1 219.1,210.9C222.3,217.7 227.2,224.5 231.3,231.3C235.4,238.1 239.2,244.9 243.6,251.7C248,258.5 252.8,265.4 257.9,272.2C263,279 269.1,286.3 274.2,292.6C279.3,298.9 279.2,300.1 288.5,310C297.8,319.9 314.2,335.4 330,352C345.8,368.6 374.2,400.2 383,409.8"/><path d="M301,51.9C298.9,52.6 293.3,54.2 288.5,56.3C283.7,58.4 277.6,61.4 272.2,64.5C266.8,67.6 260.9,71 255.8,74.7C250.7,78.5 245.6,82.9 241.5,87C237.4,91.1 234.2,94.9 231.3,99.3C228.4,103.7 226.2,108.8 224.2,113.6C222.1,118.4 220.4,122.8 219,127.9C217.6,133 216.7,138.4 216,144.2C215.3,150 215,157 215,162.6C215,168.2 215.3,173.4 215.8,178C216.3,182.6 216.6,184.9 218.2,190.4C219.8,195.9 222.3,204.1 225.2,210.9C228.1,217.7 231.7,224.5 235.4,231.3C239.2,238.1 243.3,244.9 247.7,251.7C252.1,258.5 256.9,265.4 262,272.2C267.1,279 272.9,286.3 278.3,292.6C283.8,298.9 285.2,300.1 294.7,310C304.1,319.9 320.1,335.7 335,352C349.9,368.3 375.8,398.4 384,407.7"/><path d="M282.2,73.8C279.9,74.6 272.8,76.6 268.1,78.8C263.4,81 258.2,83.9 253.8,87C249.4,90.1 245.2,93.5 241.5,97.2C237.8,101 234,105.4 231.3,109.5C228.6,113.6 226.9,117.3 225.2,121.7C223.5,126.1 222.1,131 221.1,136.1C220.1,141.2 219.5,147.3 219.1,152.4C218.7,157.5 218.5,162.3 218.6,166.7C218.7,171.1 219.2,175.1 219.8,179C220.5,182.9 220.9,185.1 222.5,190.4C224.1,195.7 226.5,204.1 229.3,210.9C232.1,217.7 235.4,224.5 239.5,231.3C243.6,238.1 249,244.9 253.8,251.7C258.6,258.5 263,265.4 268.1,272.2C273.2,279 279.1,286.3 284.5,292.6C289.9,298.9 291.2,300.4 300.8,310C310.4,319.6 327.1,334 342,350C356.9,366 382,396.7 390,406"/><path d="M282.2,73.8C280.5,74.3 276.2,74.9 272.2,76.8C268.1,78.7 262.3,81.9 257.9,85C253.5,88.1 249.3,91.5 245.6,95.2C241.8,98.9 238.1,103 235.4,107.4C232.7,111.8 231,116.6 229.3,121.7C227.6,126.8 226.2,132.7 225.2,138.1C224.2,143.5 223.7,149.8 223.5,154.4C223.3,159.1 223.8,162.1 224.2,166C224.6,169.9 225.3,173.9 226.2,178C227.1,182.1 227.9,184.9 229.8,190.4C231.7,195.9 234.8,204.1 237.4,210.9C240,217.7 242.2,224.5 245.6,231.3C249,238.1 253.5,244.9 257.9,251.7C262.3,258.5 267.1,265.4 272.2,272.2C277.3,279 283.1,286.3 288.5,292.6C293.9,298.9 295.3,300.8 304.9,310C314.5,319.2 331.3,332.2 346,348C360.7,363.8 385.3,395.2 393.2,404.7"/><path d="M282.2,73.8C280.8,75.2 275.9,79.2 273.6,82.3C271.3,85.4 269.7,88.7 268.6,92.2C267.5,95.7 267,99.4 266.8,103.3C266.6,107.2 267,111.6 267.4,115.7C267.8,119.8 268.4,124 269.2,128.1C270,132.2 271.1,136.4 272.3,140.5C273.5,144.6 274.7,148.4 276.1,152.9C277.6,157.4 279.4,162.9 281,167.7C282.6,172.4 284,176 286,181.4C288,186.8 290.8,195.1 293,200C295.2,204.9 296.8,205.7 299.4,210.9C302,216.1 305.8,225.6 308.6,231.3C311.4,237 313.5,240.2 316,245C318.5,249.8 320.5,255 323.5,260C326.5,265 330.5,270 334,275C337.5,280 341.1,285 344.5,290C347.9,295 351.1,300 354.5,305C357.9,310 360.8,314.8 364.7,320C368.6,325.2 373.6,331 378,336.5C382.4,342 384.6,344.7 391,352.8C397.4,360.9 412.4,379.9 416.7,385.3"/><path d="M282.2,73.8C281.2,75.2 277.5,79.2 276.1,82.3C274.7,85.4 274.1,88.7 273.6,92.2C273.1,95.7 272.9,99.4 273,103.3C273.1,107.2 273.7,111.6 274.2,115.7C274.7,119.8 275.3,124 276.1,128.1C276.9,132.2 278.1,136.4 279.1,140.5C280.1,144.6 280.9,148.8 282.2,152.9C283.4,157 284.9,161 286.6,165.3C288.3,169.6 289.8,173.1 292.2,178.9C294.6,184.7 298.3,194.2 301,200C303.7,205.8 305.6,208.3 308.6,214C311.6,219.7 316.1,228.5 318.8,234C321.5,239.5 322.8,242.7 325,247C327.2,251.3 329.3,255.3 332.3,260C335.3,264.7 339.6,270 343,275C346.4,280 349.7,285 353,290C356.3,295 359.6,300 363,305C366.4,310 369.2,314.3 373.4,320C377.6,325.7 383.2,333.5 388,339C392.8,344.5 396.3,345.4 402.3,352.8C408.3,360.2 420.3,378.1 423.9,383.2"/><path d="M301,51.9C301.5,53.2 302.9,56.6 303.9,60C304.9,63.4 305.9,68.3 307,72.4C308.1,76.5 309.2,80.7 310.7,84.8C312.1,88.9 314,93.1 315.7,97.2C317.4,101.3 319,105.8 320.6,109.5C322.2,113.2 323.9,116.2 325.6,119.4C327.3,122.6 329.1,125.5 331,128.5C332.9,131.5 334.9,134.2 337,137.5C339.1,140.8 340.3,143.8 343.4,148.3C346.5,152.8 351.5,159.4 355.6,164.7C359.7,170 363.8,175.2 367.9,180.2C372,185.2 375.7,190.1 380.1,194.5C384.5,198.9 390.1,203.1 394.5,206.8C398.9,210.6 402.4,213.4 406.7,217C410.9,220.6 414.9,224.7 420,228.5C425.1,232.3 431.7,236.4 437.5,240.1C443.3,243.8 449.1,247.1 455,250.6C460.9,254.1 466.8,258.2 472.6,261.1C478.5,264 484.3,265.8 490.1,268.1C495.9,270.4 501.8,272.8 507.6,275.1C513.4,277.4 519.7,280.1 525.1,282.1C530.5,284.2 535.4,285.2 540,287.4C544.6,289.5 553.4,292.6 552.6,295C551.8,297.4 540.9,299.4 535.3,302C529.6,304.6 523.7,307.2 518.7,310.4C513.7,313.6 509.1,315.6 505.1,321C501.1,326.4 497.5,337.7 494.6,343.1C491.7,348.5 489.8,350.2 487.6,353.6C485.4,357 482.3,361.7 481.2,363.3"/></g>
<g fill="none" stroke="#fac81c" stroke-width="2.8" stroke-linejoin="round" stroke-linecap="round"><path d="M301,51.9C304.3,51.5 314.2,50.2 320.9,49.8C327.6,49.3 334.5,49 341.3,49.2C348.1,49.4 354.9,50 361.7,51.2C368.5,52.4 375.4,54.2 382.2,56.3C389,58.3 396.3,61.1 402.6,63.5C408.9,65.9 415.9,69 420,70.7C424.1,72.5 423.3,71.7 427.5,74C431.7,76.3 439.1,81 445,84.5C450.9,88 457,91.7 462.6,95C468.2,98.3 473.8,101.4 478.4,104.4C483,107.4 487.1,110.4 490,113C492.9,115.6 495.2,117.2 496,120C496.8,122.8 495.8,126.8 494.5,130.1C493.2,133.4 490.2,136.3 488,140C485.8,143.7 483,148.2 481,152C479,155.8 477.8,159 476,163C474.2,167 472.4,171.7 470.4,176C468.4,180.3 466.1,184.2 463.8,189C461.5,193.8 458.9,199.4 456.8,205C454.8,210.6 453,216.8 451.5,222.6C450,228.4 448.9,234.3 448,240.1C447.1,245.9 446.7,251.8 446.3,257.6C445.9,263.4 445.7,270.5 445.4,275.1C445.1,279.7 445.8,281.3 444.5,285C443.2,288.7 439.7,292.5 437.7,297.5C435.7,302.5 433.7,309.1 432.4,315C431.1,320.9 430.2,326.8 429.8,332.6C429.4,338.5 429.5,344.3 429.8,350.1C430.1,355.9 430.6,361.8 431.5,367.6C432.4,373.4 434.4,382.2 435,385.1"/><path d="M282.2,73.8C285.2,73.5 293.9,72.4 300.4,72.3C306.8,72.2 314.1,72.5 320.9,73.1C327.7,73.7 334.5,74.5 341.3,75.8C348.1,77.1 354.9,78.9 361.7,80.9C368.5,82.9 375.4,85.9 382.2,88C389,90.1 396.3,91.4 402.6,93.5C408.9,95.6 414.7,98.4 420,100.7C425.3,103 429.7,105 434.6,107.3C439.5,109.6 444.3,111.9 449.2,114.6C454.1,117.3 458.9,120.7 463.8,123.4C468.7,126.1 474,128.3 478.4,130.7C482.8,133.1 486.9,135.8 490.1,138C493.3,140.2 495.7,140.9 497.4,143.8C499.1,146.7 501,151.6 500.3,155.5C499.6,159.4 495.4,162.8 493,167.2C490.6,171.6 488.2,177 485.7,181.8C483.2,186.7 480,191 477.8,196.3C475.6,201.6 474.4,208 472.6,213.8C470.9,219.6 468.6,225.5 467.3,231.3C466,237.1 465.3,243 464.7,248.8C464.1,254.7 464,260.4 463.8,266.4C463.6,272.4 463.5,279.8 463.5,285C463.5,290.2 464.1,292.5 464,297.5C463.9,302.5 463.4,309.1 463,315C462.6,320.9 461.4,326.8 461.3,332.6C461.2,338.5 461.5,344.3 462.2,350.1C462.9,355.9 464.5,361.2 465.7,367.6C466.9,374 468.6,385.1 469.2,388.6"/><path d="M301,51.9C304.3,52.3 314.2,52.5 320.9,54.3C327.6,56.1 334.5,59.1 341.3,62.5C348.1,65.9 355.6,71 361.7,74.7C367.8,78.5 372.6,81.2 378.1,85C383.6,88.8 389.2,93.5 394.5,97.2C399.8,100.9 405.8,104.2 410,107.3C414.2,110.3 415.9,112.3 420,115.5C424.1,118.7 429.7,122.9 434.6,126.7C439.5,130.5 444.3,134.8 449.2,138.4C454.1,142.1 458.9,145.2 463.8,148.6C468.7,152 473.5,155.2 478.4,158.9C483.3,162.6 488.6,167.1 493,170.5C497.4,173.9 502,177.3 505,179.5C508,181.7 510.9,181.6 511.2,183.7C511.5,185.8 508.6,189.2 506.8,192C505.1,194.8 502.8,197.9 500.7,200.8C498.6,203.7 496.7,206.4 494.5,209.6C492.3,212.8 489.8,216.4 487.5,220.1C485.2,223.8 483.2,227.7 481,232C478.8,236.3 476.5,241 474,246C471.5,251 468.7,257 466,262C463.3,267 460.8,270.5 458,276C455.2,281.5 452.8,288.5 449,295C445.2,301.5 440.2,309.3 435,315C429.8,320.7 423.3,325.2 417.5,329C411.7,332.8 404.2,335.6 400,337.8C395.8,340 396.9,340 392.2,342.3C387.5,344.6 378.5,348.4 371.7,351.5C364.9,354.6 358.1,357.6 351.3,360.7C344.5,363.8 337.5,366.7 330.9,369.9C324.3,373.1 314.7,378.4 311.5,380.1"/><path d="M301,51.9C304.3,52.5 314.2,53.8 320.9,55.8C327.6,57.8 334.5,60.6 341.3,64C348.1,67.4 355.6,72.5 361.7,76.2C367.8,80 372.6,82.8 378.1,86.5C383.6,90.2 389.2,94.9 394.5,98.7C399.8,102.5 405.8,106 410,109.1C414.2,112.2 415.9,114.2 420,117.5C424.1,120.8 429.7,124.9 434.6,128.7C439.5,132.5 444.3,136.8 449.2,140.4C454.1,144.1 458.9,147.2 463.8,150.6C468.7,154 473.5,157.2 478.4,160.9C483.3,164.6 488.6,169.2 493,172.5C497.4,175.8 502.1,178.9 505,181C507.9,183.1 510.7,182.5 510.5,185C510.3,187.5 506.2,191.8 504,196C501.8,200.2 499.7,205.3 497,210.3C494.3,215.3 490.8,220.7 488,226C485.2,231.3 482.5,236.8 480,242C477.5,247.2 475.1,252.3 472.8,257C470.5,261.7 468.1,265.8 466,270C463.9,274.2 462.2,277.4 460,282C457.8,286.6 456.2,291.4 452.6,297.5C449,303.6 443.5,312.6 438.5,318.5C433.5,324.4 427.8,328.1 422.8,332.6C417.8,337.1 413.6,341.4 408.5,345.4C403.4,349.4 398.3,352.9 392.2,356.6C386.1,360.4 378.5,364.6 371.7,367.9C364.9,371.1 357.2,373.6 351.3,376.1C345.4,378.7 338.6,382 336,383.2"/><path d="M282.2,73.8C285.2,74.2 293.9,74.7 300.4,76.4C306.8,78.1 314.1,80.9 320.9,83.9C327.7,86.9 334.5,90.6 341.3,94.2C348.1,97.8 354.9,101.8 361.7,105.4C368.5,109 375.4,112.4 382.2,115.6C389,118.8 396.3,122 402.6,124.8C408.9,127.5 414.7,129.4 420,132.1C425.3,134.8 429.7,138 434.6,140.9C439.5,143.8 444.3,146.7 449.2,149.6C454.1,152.5 458.9,155.5 463.8,158.4C468.7,161.3 473.5,164 478.4,167.2C483.3,170.4 488.6,174.1 493,177.4C497.4,180.7 501.7,184.1 505,187C508.3,189.9 513.6,189.9 512.9,194.7C512.2,199.4 504.4,209.1 500.6,215.5C496.8,221.9 493.6,227.2 490.1,233C486.6,238.8 483.3,244.8 479.6,250.6C475.9,256.4 472.1,262.3 468,268C463.9,273.7 458.2,280.1 455,285C451.8,289.9 449.1,292.5 449,297.5C448.9,302.5 452.2,309.1 454.3,315C456.4,320.9 459,326.8 461.3,332.6C463.6,338.5 466.2,345.7 468.3,350.1C470.4,354.5 472.7,357.4 473.6,358.8"/><path d="M282.2,73.8C285.2,74.6 293.9,76.4 300.4,78.4C306.8,80.4 314.1,83 320.9,86C327.7,89 334.5,92.9 341.3,96.5C348.1,100.1 354.9,104 361.7,107.6C368.5,111.2 375.4,114.7 382.2,118C389,121.3 396.3,124.7 402.6,127.5C408.9,130.3 414.7,132.3 420,135C425.3,137.7 429.7,140.7 434.6,143.5C439.5,146.3 444.3,149.1 449.2,152C454.1,154.9 458.9,158 463.8,161C468.7,164 473.5,166.8 478.4,170C483.3,173.2 488.6,176.7 493,180.5C497.4,184.3 501.4,189 505,193C508.6,197 514.9,199.7 514.7,204.3C514.6,208.9 507.6,215.6 504.1,220.8C500.6,226 497.1,230.3 493.6,235.7C490.1,241.1 486.3,247.4 483.1,253.2C479.9,259 476.2,266.2 474.3,270.7C472.4,275.2 473,275.5 471.8,280C470.6,284.5 468.3,291.7 467.4,297.5C466.5,303.3 466.2,309.1 466.6,315C467,320.9 468.2,326.8 470,332.6C471.8,338.5 474.2,344.3 477.1,350.1C480,355.9 484.4,361.8 487.6,367.6C490.8,373.4 494.9,382.2 496.4,385.1"/></g>
<clipPath id="blobclip"><path d="M442.2,230.8C445.4,228.1 451.2,222.8 455.5,220.5C459.8,218.2 463.7,217.9 467.8,217C471.9,216.1 475.6,215.7 480,215.3C484.4,215 490.2,214.6 494,214.9C497.8,215.2 500.2,215.2 502.9,217C505.5,218.8 508.1,222.3 509.9,225.8C511.6,229.3 512.2,233.9 513.4,238C514.6,242.1 515.7,245.6 516.9,250.3C518.1,255 519.7,261.1 520.4,266.1C521.1,271.1 521.5,276 521.2,280.1C520.9,284.2 519.6,286.5 518.6,290.6C517.6,294.7 516.9,300.2 515.1,304.6C513.4,309 510.1,314 508.1,316.9C506.1,319.8 504.2,319.6 503,322C501.8,324.4 502.1,328.3 501,331C499.9,333.7 499.1,336 496.5,338.1C493.9,340.2 490.6,342.6 485.4,343.7C480.1,344.8 471.6,344.2 465,344.6C458.4,345 451.6,345.7 446,346C440.4,346.3 437,346.6 431.7,346.5C426.4,346.4 419.4,345.9 414.2,345.3C408.9,344.7 403.3,344.6 400.2,343C397.1,341.4 396.7,339.1 395.5,336C394.3,332.9 393.8,328 393.2,324.3C392.6,320.6 391.6,317.7 392,313.8C392.4,309.9 394.7,304.4 395.5,300.9C396.3,297.4 396.3,295.6 396.7,292.7C397.1,289.8 395.9,286.5 397.8,283.4C399.8,280.3 406,277.5 408.4,274C410.8,270.5 410.9,265.7 411.9,262.4C412.9,259.1 412.8,256.5 414.2,254.2C415.6,251.9 418.4,250.4 420,248.4C421.6,246.4 420.8,243.9 423.5,241.9C426.2,239.9 433.3,238.5 436.4,236.7C439.5,234.8 439,233.5 442.2,230.8Z"/></clipPath>
<g opacity="0.88"><path d="M442.2,230.8C445.4,228.1 451.2,222.8 455.5,220.5C459.8,218.2 463.7,217.9 467.8,217C471.9,216.1 475.6,215.7 480,215.3C484.4,215 490.2,214.6 494,214.9C497.8,215.2 500.2,215.2 502.9,217C505.5,218.8 508.1,222.3 509.9,225.8C511.6,229.3 512.2,233.9 513.4,238C514.6,242.1 515.7,245.6 516.9,250.3C518.1,255 519.7,261.1 520.4,266.1C521.1,271.1 521.5,276 521.2,280.1C520.9,284.2 519.6,286.5 518.6,290.6C517.6,294.7 516.9,300.2 515.1,304.6C513.4,309 510.1,314 508.1,316.9C506.1,319.8 504.2,319.6 503,322C501.8,324.4 502.1,328.3 501,331C499.9,333.7 499.1,336 496.5,338.1C493.9,340.2 490.6,342.6 485.4,343.7C480.1,344.8 471.6,344.2 465,344.6C458.4,345 451.6,345.7 446,346C440.4,346.3 437,346.6 431.7,346.5C426.4,346.4 419.4,345.9 414.2,345.3C408.9,344.7 403.3,344.6 400.2,343C397.1,341.4 396.7,339.1 395.5,336C394.3,332.9 393.8,328 393.2,324.3C392.6,320.6 391.6,317.7 392,313.8C392.4,309.9 394.7,304.4 395.5,300.9C396.3,297.4 396.3,295.6 396.7,292.7C397.1,289.8 395.9,286.5 397.8,283.4C399.8,280.3 406,277.5 408.4,274C410.8,270.5 410.9,265.7 411.9,262.4C412.9,259.1 412.8,256.5 414.2,254.2C415.6,251.9 418.4,250.4 420,248.4C421.6,246.4 420.8,243.9 423.5,241.9C426.2,239.9 433.3,238.5 436.4,236.7C439.5,234.8 439,233.5 442.2,230.8Z" fill="#45b2f6"/><g clip-path="url(#blobclip)"><path d="M423.5,241.9C426.2,239.8 433.3,238.5 436.4,236.7C439.5,234.8 439,233.5 442.2,230.8C445.4,228.1 451.2,222.8 455.5,220.5C459.8,218.2 463.7,217.9 467.8,217C471.9,216.1 475.6,215.7 480,215.3C484.4,215 490.2,214.6 494,214.9C497.8,215.2 500.2,215.2 502.9,217C505.5,218.8 508.1,222.3 509.9,225.8C511.6,229.3 512.5,235.1 513.4,238C514.2,240.9 515.9,241.2 515,243C514.1,244.8 511,246.1 508.1,248.5C505.2,250.9 502.3,254.8 497.6,257.3C492.9,259.8 485.5,262.3 480.1,263.4C474.7,264.5 470.1,264.2 465,263.8C459.9,263.4 453.8,262 449.2,261.2C444.6,260.4 441.9,259.9 437.6,258.9C433.3,257.9 426.4,257 423.5,255.4C420.6,253.8 420,251.8 420,249.5C420,247.2 420.8,244 423.5,241.9Z" fill="#90d3fa"/><path d="M392,313.8C393,313.2 395.3,320.6 399,320.8C402.7,321 409.7,316.6 414.2,314.9C418.7,313.2 421,311.8 425.9,310.8C430.8,309.8 436.9,309.4 443.4,309.1C449.9,308.8 458.9,308.8 465,309.1C471.1,309.4 474.7,309.7 480.1,310.7C485.5,311.7 493.5,313.2 497.6,315.1C501.7,317 503.7,319.6 504.6,322.1C505.5,324.6 504.4,327.3 503,330C501.6,332.7 499.4,335.8 496.5,338.1C493.6,340.4 490.6,342.6 485.4,343.7C480.1,344.8 471.6,344.2 465,344.6C458.4,345 451.6,345.7 446,346C440.4,346.3 437,346.6 431.7,346.5C426.4,346.4 419.4,345.9 414.2,345.3C408.9,344.7 403.3,344.6 400.2,343C397.1,341.4 396.7,339.1 395.5,336C394.3,332.9 393.8,328 393.2,324.3C392.6,320.6 391,314.4 392,313.8Z" fill="#8ed0f9"/></g></g>
<g clip-path="url(#blobclip)" fill="none" stroke-width="2.8" stroke-opacity="0.9"><path d="M301,51.9C301.5,53.2 302.9,56.6 303.9,60C304.9,63.4 305.9,68.3 307,72.4C308.1,76.5 309.2,80.7 310.7,84.8C312.1,88.9 314,93.1 315.7,97.2C317.4,101.3 319,105.8 320.6,109.5C322.2,113.2 323.9,116.2 325.6,119.4C327.3,122.6 329.1,125.5 331,128.5C332.9,131.5 334.9,134.2 337,137.5C339.1,140.8 340.3,143.8 343.4,148.3C346.5,152.8 351.5,159.4 355.6,164.7C359.7,170 363.8,175.2 367.9,180.2C372,185.2 375.7,190.1 380.1,194.5C384.5,198.9 390.1,203.1 394.5,206.8C398.9,210.6 402.4,213.4 406.7,217C410.9,220.6 414.9,224.7 420,228.5C425.1,232.3 431.7,236.4 437.5,240.1C443.3,243.8 449.1,247.1 455,250.6C460.9,254.1 466.8,258.2 472.6,261.1C478.5,264 484.3,265.8 490.1,268.1C495.9,270.4 501.8,272.8 507.6,275.1C513.4,277.4 519.7,280.1 525.1,282.1C530.5,284.2 535.4,285.2 540,287.4C544.6,289.5 553.4,292.6 552.6,295C551.8,297.4 540.9,299.4 535.3,302C529.6,304.6 523.7,307.2 518.7,310.4C513.7,313.6 509.1,315.6 505.1,321C501.1,326.4 497.5,337.7 494.6,343.1C491.7,348.5 489.8,350.2 487.6,353.6C485.4,357 482.3,361.7 481.2,363.3" stroke="#1f9cf0"/><path d="M301,51.9C304.3,51.5 314.2,50.2 320.9,49.8C327.6,49.3 334.5,49 341.3,49.2C348.1,49.4 354.9,50 361.7,51.2C368.5,52.4 375.4,54.2 382.2,56.3C389,58.3 396.3,61.1 402.6,63.5C408.9,65.9 415.9,69 420,70.7C424.1,72.5 423.3,71.7 427.5,74C431.7,76.3 439.1,81 445,84.5C450.9,88 457,91.7 462.6,95C468.2,98.3 473.8,101.4 478.4,104.4C483,107.4 487.1,110.4 490,113C492.9,115.6 495.2,117.2 496,120C496.8,122.8 495.8,126.8 494.5,130.1C493.2,133.4 490.2,136.3 488,140C485.8,143.7 483,148.2 481,152C479,155.8 477.8,159 476,163C474.2,167 472.4,171.7 470.4,176C468.4,180.3 466.1,184.2 463.8,189C461.5,193.8 458.9,199.4 456.8,205C454.8,210.6 453,216.8 451.5,222.6C450,228.4 448.9,234.3 448,240.1C447.1,245.9 446.7,251.8 446.3,257.6C445.9,263.4 445.7,270.5 445.4,275.1C445.1,279.7 445.8,281.3 444.5,285C443.2,288.7 439.7,292.5 437.7,297.5C435.7,302.5 433.7,309.1 432.4,315C431.1,320.9 430.2,326.8 429.8,332.6C429.4,338.5 429.5,344.3 429.8,350.1C430.1,355.9 430.6,361.8 431.5,367.6C432.4,373.4 434.4,382.2 435,385.1" stroke="#7db99a"/><path d="M282.2,73.8C285.2,73.5 293.9,72.4 300.4,72.3C306.8,72.2 314.1,72.5 320.9,73.1C327.7,73.7 334.5,74.5 341.3,75.8C348.1,77.1 354.9,78.9 361.7,80.9C368.5,82.9 375.4,85.9 382.2,88C389,90.1 396.3,91.4 402.6,93.5C408.9,95.6 414.7,98.4 420,100.7C425.3,103 429.7,105 434.6,107.3C439.5,109.6 444.3,111.9 449.2,114.6C454.1,117.3 458.9,120.7 463.8,123.4C468.7,126.1 474,128.3 478.4,130.7C482.8,133.1 486.9,135.8 490.1,138C493.3,140.2 495.7,140.9 497.4,143.8C499.1,146.7 501,151.6 500.3,155.5C499.6,159.4 495.4,162.8 493,167.2C490.6,171.6 488.2,177 485.7,181.8C483.2,186.7 480,191 477.8,196.3C475.6,201.6 474.4,208 472.6,213.8C470.9,219.6 468.6,225.5 467.3,231.3C466,237.1 465.3,243 464.7,248.8C464.1,254.7 464,260.4 463.8,266.4C463.6,272.4 463.5,279.8 463.5,285C463.5,290.2 464.1,292.5 464,297.5C463.9,302.5 463.4,309.1 463,315C462.6,320.9 461.4,326.8 461.3,332.6C461.2,338.5 461.5,344.3 462.2,350.1C462.9,355.9 464.5,361.2 465.7,367.6C466.9,374 468.6,385.1 469.2,388.6" stroke="#7db99a"/><path d="M301,51.9C304.3,52.3 314.2,52.5 320.9,54.3C327.6,56.1 334.5,59.1 341.3,62.5C348.1,65.9 355.6,71 361.7,74.7C367.8,78.5 372.6,81.2 378.1,85C383.6,88.8 389.2,93.5 394.5,97.2C399.8,100.9 405.8,104.2 410,107.3C414.2,110.3 415.9,112.3 420,115.5C424.1,118.7 429.7,122.9 434.6,126.7C439.5,130.5 444.3,134.8 449.2,138.4C454.1,142.1 458.9,145.2 463.8,148.6C468.7,152 473.5,155.2 478.4,158.9C483.3,162.6 488.6,167.1 493,170.5C497.4,173.9 502,177.3 505,179.5C508,181.7 510.9,181.6 511.2,183.7C511.5,185.8 508.6,189.2 506.8,192C505.1,194.8 502.8,197.9 500.7,200.8C498.6,203.7 496.7,206.4 494.5,209.6C492.3,212.8 489.8,216.4 487.5,220.1C485.2,223.8 483.2,227.7 481,232C478.8,236.3 476.5,241 474,246C471.5,251 468.7,257 466,262C463.3,267 460.8,270.5 458,276C455.2,281.5 452.8,288.5 449,295C445.2,301.5 440.2,309.3 435,315C429.8,320.7 423.3,325.2 417.5,329C411.7,332.8 404.2,335.6 400,337.8C395.8,340 396.9,340 392.2,342.3C387.5,344.6 378.5,348.4 371.7,351.5C364.9,354.6 358.1,357.6 351.3,360.7C344.5,363.8 337.5,366.7 330.9,369.9C324.3,373.1 314.7,378.4 311.5,380.1" stroke="#4eaccb"/><path d="M301,51.9C304.3,52.5 314.2,53.8 320.9,55.8C327.6,57.8 334.5,60.6 341.3,64C348.1,67.4 355.6,72.5 361.7,76.2C367.8,80 372.6,82.8 378.1,86.5C383.6,90.2 389.2,94.9 394.5,98.7C399.8,102.5 405.8,106 410,109.1C414.2,112.2 415.9,114.2 420,117.5C424.1,120.8 429.7,124.9 434.6,128.7C439.5,132.5 444.3,136.8 449.2,140.4C454.1,144.1 458.9,147.2 463.8,150.6C468.7,154 473.5,157.2 478.4,160.9C483.3,164.6 488.6,169.2 493,172.5C497.4,175.8 502.1,178.9 505,181C507.9,183.1 510.7,182.5 510.5,185C510.3,187.5 506.2,191.8 504,196C501.8,200.2 499.7,205.3 497,210.3C494.3,215.3 490.8,220.7 488,226C485.2,231.3 482.5,236.8 480,242C477.5,247.2 475.1,252.3 472.8,257C470.5,261.7 468.1,265.8 466,270C463.9,274.2 462.2,277.4 460,282C457.8,286.6 456.2,291.4 452.6,297.5C449,303.6 443.5,312.6 438.5,318.5C433.5,324.4 427.8,328.1 422.8,332.6C417.8,337.1 413.6,341.4 408.5,345.4C403.4,349.4 398.3,352.9 392.2,356.6C386.1,360.4 378.5,364.6 371.7,367.9C364.9,371.1 357.2,373.6 351.3,376.1C345.4,378.7 338.6,382 336,383.2" stroke="#4eaccb"/><path d="M282.2,73.8C285.2,74.2 293.9,74.7 300.4,76.4C306.8,78.1 314.1,80.9 320.9,83.9C327.7,86.9 334.5,90.6 341.3,94.2C348.1,97.8 354.9,101.8 361.7,105.4C368.5,109 375.4,112.4 382.2,115.6C389,118.8 396.3,122 402.6,124.8C408.9,127.5 414.7,129.4 420,132.1C425.3,134.8 429.7,138 434.6,140.9C439.5,143.8 444.3,146.7 449.2,149.6C454.1,152.5 458.9,155.5 463.8,158.4C468.7,161.3 473.5,164 478.4,167.2C483.3,170.4 488.6,174.1 493,177.4C497.4,180.7 501.7,184.1 505,187C508.3,189.9 513.6,189.9 512.9,194.7C512.2,199.4 504.4,209.1 500.6,215.5C496.8,221.9 493.6,227.2 490.1,233C486.6,238.8 483.3,244.8 479.6,250.6C475.9,256.4 472.1,262.3 468,268C463.9,273.7 458.2,280.1 455,285C451.8,289.9 449.1,292.5 449,297.5C448.9,302.5 452.2,309.1 454.3,315C456.4,320.9 459,326.8 461.3,332.6C463.6,338.5 466.2,345.7 468.3,350.1C470.4,354.5 472.7,357.4 473.6,358.8" stroke="#4eaccb"/><path d="M282.2,73.8C285.2,74.6 293.9,76.4 300.4,78.4C306.8,80.4 314.1,83 320.9,86C327.7,89 334.5,92.9 341.3,96.5C348.1,100.1 354.9,104 361.7,107.6C368.5,111.2 375.4,114.7 382.2,118C389,121.3 396.3,124.7 402.6,127.5C408.9,130.3 414.7,132.3 420,135C425.3,137.7 429.7,140.7 434.6,143.5C439.5,146.3 444.3,149.1 449.2,152C454.1,154.9 458.9,158 463.8,161C468.7,164 473.5,166.8 478.4,170C483.3,173.2 488.6,176.7 493,180.5C497.4,184.3 501.4,189 505,193C508.6,197 514.9,199.7 514.7,204.3C514.6,208.9 507.6,215.6 504.1,220.8C500.6,226 497.1,230.3 493.6,235.7C490.1,241.1 486.3,247.4 483.1,253.2C479.9,259 476.2,266.2 474.3,270.7C472.4,275.2 473,275.5 471.8,280C470.6,284.5 468.3,291.7 467.4,297.5C466.5,303.3 466.2,309.1 466.6,315C467,320.9 468.2,326.8 470,332.6C471.8,338.5 474.2,344.3 477.1,350.1C480,355.9 484.4,361.8 487.6,367.6C490.8,373.4 494.9,382.2 496.4,385.1" stroke="#4eaccb"/></g>
<g fill="none" stroke="#000" stroke-opacity="0.7" stroke-width="2.7" stroke-linejoin="round" stroke-linecap="round"><path d="M282.2,73.8C283,75.6 285.8,81.1 287.2,84.8C288.6,88.5 289.2,92.2 290.9,95.9C292.5,99.6 294.8,103.2 297.1,107.1C299.4,111 301.6,115.3 304.5,119.4C307.4,123.5 310.3,127 314.4,131.8C318.5,136.6 323.8,142.8 329,148.3C334.2,153.8 339.9,159.4 345.4,164.7C350.8,170 356.6,175.6 361.7,180.2C366.8,184.8 371.7,188.8 376.1,192.5C380.5,196.2 383.9,199.6 388.3,202.7C392.7,205.8 397.3,208.2 402.6,210.9C407.9,213.6 414.2,216.5 420,219C425.8,221.5 431.7,223.8 437.5,226.1C443.3,228.4 449.1,231.2 455,233.1C460.9,235 466.8,236.1 472.6,237.5C478.5,238.9 484.3,240.4 490.1,241.8C495.9,243.2 501.8,244.9 507.6,246.2C513.4,247.5 519.7,248.8 525.1,249.7C530.5,250.6 535.6,250.9 540,251.5C544.4,252.1 551.2,252.2 551.2,253.5C551.2,254.8 544.4,257.4 540,259.3C535.6,261.2 530.5,262.6 525.1,264.6C519.7,266.7 513.4,269.3 507.6,271.6C501.8,273.9 495.9,276.3 490.1,278.6C484.3,280.9 477,283.7 472.6,285.6C468.2,287.5 467.7,288 463.8,290C459.9,292 451.5,296.2 449,297.5"/><path d="M282.2,73.8C281.8,75.6 280.3,80.9 279.8,84.8C279.3,88.7 279.1,93.1 279.1,97.2C279.1,101.3 279.4,105.4 279.8,109.5C280.2,113.6 280.9,117.8 281.6,121.9C282.3,126 283.2,130.2 284.1,134.3C285,138.4 286.1,142.6 287.2,146.7C288.3,150.8 289.4,155 290.9,159.1C292.3,163.2 294.2,167.4 295.9,171.5C297.5,175.6 298.9,179.1 300.8,183.8C302.7,188.6 304.9,195.5 307,200C309.1,204.5 310.9,205.7 313.7,210.9C316.5,216.1 319.6,224.8 323.9,231.3C328.2,237.8 333.2,242.3 339.6,250C346,257.7 355.7,269.3 362.1,277.3C368.5,285.3 372.3,291.5 378.2,298.2C384.1,304.9 391.5,311.8 397.4,317.4C403.3,323 408.9,325.9 413.5,331.9C418.1,337.9 422.8,350 424.7,353.6"/><path d="M301,51.9C299.7,52.9 295.2,55.6 293,58C290.8,60.4 289.2,63 288,66C286.8,69 285.9,71.9 285.5,76.1C285.1,80.3 284.9,86.5 285.3,91C285.7,95.5 286.9,99.2 287.8,103.3C288.7,107.4 289.8,111.6 290.9,115.7C292,119.8 293.2,124 294.6,128.1C296,132.2 297.6,136.4 299,140.5C300.4,144.6 301.8,148.8 303.3,152.9C304.9,157 306.5,160.8 308.3,165.3C310.1,169.8 312.5,174.9 314.4,180.1C316.2,185.2 317.5,191.1 319.4,196.2C321.3,201.3 323,205.1 326,210.9C329,216.8 332.8,224.8 337.2,231.3C341.6,237.8 347,243.4 352.5,250C358,256.6 364.5,264.2 370.1,270.9C375.7,277.6 380.8,283.7 386.2,290.1C391.6,296.5 396.9,303.2 402.3,309.4C407.7,315.6 413.4,321.6 418.3,327.1C423.2,332.6 429.7,339.8 432,342.3"/></g>
<clipPath id="lowclip"><rect x="0" y="286" width="685" height="200"/></clipPath>
<g clip-path="url(#lowclip)" fill="none" stroke="#fac81c" stroke-width="2.8" stroke-linejoin="round" stroke-linecap="round"><path d="M301,51.9C304.3,52.3 314.2,52.5 320.9,54.3C327.6,56.1 334.5,59.1 341.3,62.5C348.1,65.9 355.6,71 361.7,74.7C367.8,78.5 372.6,81.2 378.1,85C383.6,88.8 389.2,93.5 394.5,97.2C399.8,100.9 405.8,104.2 410,107.3C414.2,110.3 415.9,112.3 420,115.5C424.1,118.7 429.7,122.9 434.6,126.7C439.5,130.5 444.3,134.8 449.2,138.4C454.1,142.1 458.9,145.2 463.8,148.6C468.7,152 473.5,155.2 478.4,158.9C483.3,162.6 488.6,167.1 493,170.5C497.4,173.9 502,177.3 505,179.5C508,181.7 510.9,181.6 511.2,183.7C511.5,185.8 508.6,189.2 506.8,192C505.1,194.8 502.8,197.9 500.7,200.8C498.6,203.7 496.7,206.4 494.5,209.6C492.3,212.8 489.8,216.4 487.5,220.1C485.2,223.8 483.2,227.7 481,232C478.8,236.3 476.5,241 474,246C471.5,251 468.7,257 466,262C463.3,267 460.8,270.5 458,276C455.2,281.5 452.8,288.5 449,295C445.2,301.5 440.2,309.3 435,315C429.8,320.7 423.3,325.2 417.5,329C411.7,332.8 404.2,335.6 400,337.8C395.8,340 396.9,340 392.2,342.3C387.5,344.6 378.5,348.4 371.7,351.5C364.9,354.6 358.1,357.6 351.3,360.7C344.5,363.8 337.5,366.7 330.9,369.9C324.3,373.1 314.7,378.4 311.5,380.1"/><path d="M301,51.9C304.3,52.5 314.2,53.8 320.9,55.8C327.6,57.8 334.5,60.6 341.3,64C348.1,67.4 355.6,72.5 361.7,76.2C367.8,80 372.6,82.8 378.1,86.5C383.6,90.2 389.2,94.9 394.5,98.7C399.8,102.5 405.8,106 410,109.1C414.2,112.2 415.9,114.2 420,117.5C424.1,120.8 429.7,124.9 434.6,128.7C439.5,132.5 444.3,136.8 449.2,140.4C454.1,144.1 458.9,147.2 463.8,150.6C468.7,154 473.5,157.2 478.4,160.9C483.3,164.6 488.6,169.2 493,172.5C497.4,175.8 502.1,178.9 505,181C507.9,183.1 510.7,182.5 510.5,185C510.3,187.5 506.2,191.8 504,196C501.8,200.2 499.7,205.3 497,210.3C494.3,215.3 490.8,220.7 488,226C485.2,231.3 482.5,236.8 480,242C477.5,247.2 475.1,252.3 472.8,257C470.5,261.7 468.1,265.8 466,270C463.9,274.2 462.2,277.4 460,282C457.8,286.6 456.2,291.4 452.6,297.5C449,303.6 443.5,312.6 438.5,318.5C433.5,324.4 427.8,328.1 422.8,332.6C417.8,337.1 413.6,341.4 408.5,345.4C403.4,349.4 398.3,352.9 392.2,356.6C386.1,360.4 378.5,364.6 371.7,367.9C364.9,371.1 357.2,373.6 351.3,376.1C345.4,378.7 338.6,382 336,383.2"/></g>
<text x="134" y="320.9" font-size="30" text-anchor="end" font-weight="normal" font-family='"Liberation Sans", sans-serif' fill="#262626">40</text>
<text x="134" y="245.7" font-size="30" text-anchor="end" font-weight="normal" font-family='"Liberation Sans", sans-serif' fill="#262626">50</text>
<text x="134" y="170.5" font-size="30" text-anchor="end" font-weight="normal" font-family='"Liberation Sans", sans-serif' fill="#262626">60</text>
<text x="134" y="95.2" font-size="30" text-anchor="end" font-weight="normal" font-family='"Liberation Sans", sans-serif' fill="#262626">70</text>
<text x="129" y="411.8" font-size="30" text-anchor="end" font-weight="normal" font-family='"Liberation Sans", sans-serif' fill="#262626">0</text>
<text x="165.5" y="444.2" font-size="30" text-anchor="end" font-weight="normal" font-family='"Liberation Sans", sans-serif' fill="#262626">10</text>
<text x="202" y="476.5" font-size="30" text-anchor="end" font-weight="normal" font-family='"Liberation Sans", sans-serif' fill="#262626">20</text>
<text x="238.6" y="508.8" font-size="30" text-anchor="end" font-weight="normal" font-family='"Liberation Sans", sans-serif' fill="#262626">30</text>
<text x="307.6" y="514.8" font-size="30" text-anchor="start" font-weight="normal" font-family='"Liberation Sans", sans-serif' fill="#262626">100</text>
<text x="381.4" y="507.6" font-size="30" text-anchor="start" font-weight="normal" font-family='"Liberation Sans", sans-serif' fill="#262626">120</text>
<text x="455.3" y="500.3" font-size="30" text-anchor="start" font-weight="normal" font-family='"Liberation Sans", sans-serif' fill="#262626">140</text>
<text x="529.1" y="493" font-size="30" text-anchor="start" font-weight="normal" font-family='"Liberation Sans", sans-serif' fill="#262626">160</text>
<text x="603" y="485.7" font-size="30" text-anchor="start" font-weight="normal" font-family='"Liberation Sans", sans-serif' fill="#262626">180</text>
<text x="162.5" y="27.4" font-size="48" font-weight="bold" font-family='"Liberation Sans", sans-serif' fill="#000">a</text>
<text transform="translate(52.20,525.90) scale(1.200,0.971)" font-family='"Liberation Serif", serif' font-size="35" font-style="normal" fill="#262626">Δ</text>
<text transform="translate(78.83,525.90) scale(1.167,1.022)" font-family='"Liberation Serif", serif' font-size="32" font-style="italic" fill="#262626">t</text>
<text transform="translate(104.70,527.42) scale(0.700,1.041)" font-family='"Liberation Serif", serif' font-size="36" font-style="normal" fill="#262626">(</text>
<text transform="translate(114.95,525.90) scale(1.050,1.036)" font-family='"Liberation Serif", serif' font-size="31" font-style="normal" fill="#262626">fs</text>
<text transform="translate(139.71,527.42) scale(0.790,1.041)" font-family='"Liberation Serif", serif' font-size="36" font-style="normal" fill="#262626">)</text>
<text transform="translate(436.46,541.61) scale(1.056,1.013)" font-family='"Liberation Serif", serif' font-size="33" font-style="italic" fill="#262626">β</text>
<text transform="translate(468.84,543.24) scale(0.760,1.038)" font-family='"Liberation Serif", serif' font-size="36" font-style="normal" fill="#262626">(</text>
<text transform="translate(479.85,542.12) scale(1.152,1.096)" font-family='"Liberation Serif", serif' font-size="30" font-style="normal" fill="#262626">deg</text>
<text transform="translate(531.44,543.24) scale(0.760,1.038)" font-family='"Liberation Serif", serif' font-size="36" font-style="normal" fill="#262626">)</text>
<g transform="rotate(-90)"><text transform="translate(-293.80,80.64) scale(1.200,1.060)" font-family='"Liberation Serif", serif' font-size="30" font-style="italic" fill="#262626">p</text><text transform="translate(-276.06,86.00) scale(1.062,1.067)" font-family='"Liberation Serif", serif' font-size="24" font-style="normal" fill="#262626">D</text><text transform="translate(-260.84,80.72) scale(0.840,1.060)" font-family='"Liberation Serif", serif' font-size="20" font-style="normal" fill="#262626">+</text><text transform="translate(-231.18,80.26) scale(0.889,1.018)" font-family='"Liberation Serif", serif' font-size="37" font-style="normal" fill="#262626">(</text><text transform="translate(-219.04,80.00) scale(1.136,1.068)" font-family='"Liberation Serif", serif' font-size="32" font-style="italic" fill="#262626">ħ</text><text transform="translate(-198.80,88.40) scale(1.280,1.532)" font-family='"Liberation Serif", serif' font-size="34" font-style="normal" fill="#262626">/</text><text transform="translate(-183.52,80.00) scale(1.023,1.000)" font-family='"Liberation Serif", serif' font-size="33" font-style="normal" fill="#262626">a</text><text transform="translate(-167.34,85.70) scale(0.836,0.988)" font-family='"Liberation Serif", serif' font-size="25" font-style="normal" fill="#262626">0</text><text transform="translate(-153.11,80.26) scale(0.710,1.018)" font-family='"Liberation Serif", serif' font-size="37" font-style="normal" fill="#262626">)</text></g>
<g shape-rendering="crispEdges"><rect x="100.5" y="600.4" width="5.2" height="12.6" fill="#cfecfd"/><rect x="105.4" y="600.4" width="11.5" height="12.6" fill="#d6effd"/><rect x="116.6" y="600.4" width="11.5" height="12.6" fill="#d3edfd"/><rect x="127.7" y="600.4" width="11.5" height="12.6" fill="#c4e7fd"/><rect x="138.9" y="600.4" width="11.5" height="12.6" fill="#aedefc"/><rect x="150.0" y="600.4" width="11.5" height="12.6" fill="#82cdfa"/><rect x="161.2" y="600.4" width="11.5" height="12.6" fill="#6cc4f9"/><rect x="172.3" y="600.4" width="11.5" height="12.6" fill="#17a2f6"/><rect x="183.5" y="600.4" width="11.5" height="12.6" fill="#13a0f5"/><rect x="194.6" y="600.4" width="11.5" height="12.6" fill="#0b7fc8"/><rect x="205.8" y="600.4" width="11.5" height="12.6" fill="#0d75b7"/><rect x="216.9" y="600.4" width="11.5" height="12.6" fill="#0990e2"/><rect x="228.1" y="600.4" width="11.5" height="12.6" fill="#0898ef"/><rect x="239.2" y="600.4" width="11.5" height="12.6" fill="#31acf7"/><rect x="250.4" y="600.4" width="11.5" height="12.6" fill="#3fb2f7"/><rect x="261.6" y="600.4" width="11.5" height="12.6" fill="#73c7f9"/><rect x="272.7" y="600.4" width="11.5" height="12.6" fill="#9bd7fb"/><rect x="283.9" y="600.4" width="11.5" height="12.6" fill="#a3dafb"/><rect x="295.0" y="600.4" width="11.5" height="12.6" fill="#aedefc"/><rect x="306.2" y="600.4" width="11.5" height="12.6" fill="#aedefc"/><rect x="317.3" y="600.4" width="11.5" height="12.6" fill="#cbeafd"/><rect x="328.5" y="600.4" width="11.5" height="12.6" fill="#c4e7fd"/><rect x="339.6" y="600.4" width="11.5" height="12.6" fill="#cbeafd"/><rect x="350.8" y="600.4" width="11.5" height="12.6" fill="#d3edfd"/><rect x="361.9" y="600.4" width="11.5" height="12.6" fill="#daf0fe"/><rect x="373.1" y="600.4" width="11.5" height="12.6" fill="#e2f3fe"/><rect x="384.2" y="600.4" width="11.5" height="12.6" fill="#e5f5fe"/><rect x="395.4" y="600.4" width="11.5" height="12.6" fill="#e9f6fe"/><rect x="406.5" y="600.4" width="11.5" height="12.6" fill="#edf8fe"/><rect x="417.7" y="600.4" width="11.5" height="12.6" fill="#f2fafe"/><rect x="428.8" y="600.4" width="11.5" height="12.6" fill="#f4fbff"/><rect x="440.0" y="600.4" width="11.5" height="12.6" fill="#f7fcff"/><rect x="451.1" y="600.4" width="11.5" height="12.6" fill="#f9fdff"/><rect x="462.3" y="600.4" width="11.5" height="12.6" fill="#fcfeff"/><rect x="100.5" y="612.7" width="5.2" height="12.6" fill="#d3edfd"/><rect x="105.4" y="612.7" width="11.5" height="12.6" fill="#daf0fe"/><rect x="116.6" y="612.7" width="11.5" height="12.6" fill="#d6effd"/><rect x="127.7" y="612.7" width="11.5" height="12.6" fill="#c4e7fd"/><rect x="138.9" y="612.7" width="11.5" height="12.6" fill="#aedefc"/><rect x="150.0" y="612.7" width="11.5" height="12.6" fill="#82cdfa"/><rect x="161.2" y="612.7" width="11.5" height="12.6" fill="#6cc4f9"/><rect x="172.3" y="612.7" width="11.5" height="12.6" fill="#0f9ff5"/><rect x="183.5" y="612.7" width="11.5" height="12.6" fill="#0b7fc8"/><rect x="194.6" y="612.7" width="11.5" height="12.6" fill="#0c77bb"/><rect x="205.8" y="612.7" width="11.5" height="12.6" fill="#0d73b4"/><rect x="216.9" y="612.7" width="11.5" height="12.6" fill="#0a87d5"/><rect x="228.1" y="612.7" width="11.5" height="12.6" fill="#089cf5"/><rect x="239.2" y="612.7" width="11.5" height="12.6" fill="#13a0f5"/><rect x="250.4" y="612.7" width="11.5" height="12.6" fill="#59bdf8"/><rect x="261.6" y="612.7" width="11.5" height="12.6" fill="#6cc4f9"/><rect x="272.7" y="612.7" width="11.5" height="12.6" fill="#90d3fb"/><rect x="283.9" y="612.7" width="11.5" height="12.6" fill="#a7dcfb"/><rect x="295.0" y="612.7" width="11.5" height="12.6" fill="#b5e1fc"/><rect x="306.2" y="612.7" width="11.5" height="12.6" fill="#b5e1fc"/><rect x="317.3" y="612.7" width="11.5" height="12.6" fill="#daf0fe"/><rect x="328.5" y="612.7" width="11.5" height="12.6" fill="#c4e7fd"/><rect x="339.6" y="612.7" width="11.5" height="12.6" fill="#cbeafd"/><rect x="350.8" y="612.7" width="11.5" height="12.6" fill="#d3edfd"/><rect x="361.9" y="612.7" width="11.5" height="12.6" fill="#daf0fe"/><rect x="373.1" y="612.7" width="11.5" height="12.6" fill="#e2f3fe"/><rect x="384.2" y="612.7" width="11.5" height="12.6" fill="#e5f5fe"/><rect x="395.4" y="612.7" width="11.5" height="12.6" fill="#e9f6fe"/><rect x="406.5" y="612.7" width="11.5" height="12.6" fill="#f0f9fe"/><rect x="417.7" y="612.7" width="11.5" height="12.6" fill="#f2fafe"/><rect x="428.8" y="612.7" width="11.5" height="12.6" fill="#f4fbff"/><rect x="440.0" y="612.7" width="11.5" height="12.6" fill="#f7fcff"/><rect x="451.1" y="612.7" width="11.5" height="12.6" fill="#f9fdff"/><rect x="462.3" y="612.7" width="11.5" height="12.6" fill="#fcfeff"/><rect x="100.5" y="625.1" width="5.2" height="12.6" fill="#daf0fe"/><rect x="105.4" y="625.1" width="11.5" height="12.6" fill="#e5f5fe"/><rect x="116.6" y="625.1" width="11.5" height="12.6" fill="#e2f3fe"/><rect x="127.7" y="625.1" width="11.5" height="12.6" fill="#c4e7fd"/><rect x="138.9" y="625.1" width="11.5" height="12.6" fill="#aedefc"/><rect x="150.0" y="625.1" width="11.5" height="12.6" fill="#90d3fb"/><rect x="161.2" y="625.1" width="11.5" height="12.6" fill="#59bdf8"/><rect x="172.3" y="625.1" width="11.5" height="12.6" fill="#0898ef"/><rect x="183.5" y="625.1" width="11.5" height="12.6" fill="#0a8cdb"/><rect x="194.6" y="625.1" width="11.5" height="12.6" fill="#0f5e94"/><rect x="205.8" y="625.1" width="11.5" height="12.6" fill="#0b7fc8"/><rect x="216.9" y="625.1" width="11.5" height="12.6" fill="#0990e2"/><rect x="228.1" y="625.1" width="11.5" height="12.6" fill="#089cf5"/><rect x="239.2" y="625.1" width="11.5" height="12.6" fill="#3fb2f7"/><rect x="250.4" y="625.1" width="11.5" height="12.6" fill="#17a2f6"/><rect x="261.6" y="625.1" width="11.5" height="12.6" fill="#3fb2f7"/><rect x="272.7" y="625.1" width="11.5" height="12.6" fill="#9fd9fb"/><rect x="283.9" y="625.1" width="11.5" height="12.6" fill="#a7dcfb"/><rect x="295.0" y="625.1" width="11.5" height="12.6" fill="#aedefc"/><rect x="306.2" y="625.1" width="11.5" height="12.6" fill="#bde4fc"/><rect x="317.3" y="625.1" width="11.5" height="12.6" fill="#cbeafd"/><rect x="328.5" y="625.1" width="11.5" height="12.6" fill="#bde4fc"/><rect x="339.6" y="625.1" width="11.5" height="12.6" fill="#c4e7fd"/><rect x="350.8" y="625.1" width="11.5" height="12.6" fill="#d3edfd"/><rect x="361.9" y="625.1" width="11.5" height="12.6" fill="#daf0fe"/><rect x="373.1" y="625.1" width="11.5" height="12.6" fill="#e2f3fe"/><rect x="384.2" y="625.1" width="11.5" height="12.6" fill="#e5f5fe"/><rect x="395.4" y="625.1" width="11.5" height="12.6" fill="#edf8fe"/><rect x="406.5" y="625.1" width="11.5" height="12.6" fill="#f0f9fe"/><rect x="417.7" y="625.1" width="11.5" height="12.6" fill="#f2fafe"/><rect x="428.8" y="625.1" width="11.5" height="12.6" fill="#f8fcff"/><rect x="440.0" y="625.1" width="11.5" height="12.6" fill="#f9fdff"/><rect x="451.1" y="625.1" width="11.5" height="12.6" fill="#fbfeff"/><rect x="462.3" y="625.1" width="11.5" height="12.6" fill="#fdfeff"/><rect x="100.5" y="637.4" width="5.2" height="12.6" fill="#e2f3fe"/><rect x="105.4" y="637.4" width="11.5" height="12.6" fill="#e5f5fe"/><rect x="116.6" y="637.4" width="11.5" height="12.6" fill="#e5f5fe"/><rect x="127.7" y="637.4" width="11.5" height="12.6" fill="#c4e7fd"/><rect x="138.9" y="637.4" width="11.5" height="12.6" fill="#aedefc"/><rect x="150.0" y="637.4" width="11.5" height="12.6" fill="#8dd1fa"/><rect x="161.2" y="637.4" width="11.5" height="12.6" fill="#22a6f6"/><rect x="172.3" y="637.4" width="11.5" height="12.6" fill="#0990e2"/><rect x="183.5" y="637.4" width="11.5" height="12.6" fill="#0d73b4"/><rect x="194.6" y="637.4" width="11.5" height="12.6" fill="#0c7bc1"/><rect x="205.8" y="637.4" width="11.5" height="12.6" fill="#0b85d1"/><rect x="216.9" y="637.4" width="11.5" height="12.6" fill="#0a87d5"/><rect x="228.1" y="637.4" width="11.5" height="12.6" fill="#22a6f6"/><rect x="239.2" y="637.4" width="11.5" height="12.6" fill="#31acf7"/><rect x="250.4" y="637.4" width="11.5" height="12.6" fill="#59bdf8"/><rect x="261.6" y="637.4" width="11.5" height="12.6" fill="#77c8f9"/><rect x="272.7" y="637.4" width="11.5" height="12.6" fill="#82cdfa"/><rect x="283.9" y="637.4" width="11.5" height="12.6" fill="#a7dcfb"/><rect x="295.0" y="637.4" width="11.5" height="12.6" fill="#b5e1fc"/><rect x="306.2" y="637.4" width="11.5" height="12.6" fill="#c4e7fd"/><rect x="317.3" y="637.4" width="11.5" height="12.6" fill="#c4e7fd"/><rect x="328.5" y="637.4" width="11.5" height="12.6" fill="#c4e7fd"/><rect x="339.6" y="637.4" width="11.5" height="12.6" fill="#bde4fc"/><rect x="350.8" y="637.4" width="11.5" height="12.6" fill="#d3edfd"/><rect x="361.9" y="637.4" width="11.5" height="12.6" fill="#e2f3fe"/><rect x="373.1" y="637.4" width="11.5" height="12.6" fill="#e5f5fe"/><rect x="384.2" y="637.4" width="11.5" height="12.6" fill="#e9f6fe"/><rect x="395.4" y="637.4" width="11.5" height="12.6" fill="#edf8fe"/><rect x="406.5" y="637.4" width="11.5" height="12.6" fill="#f2fafe"/><rect x="417.7" y="637.4" width="11.5" height="12.6" fill="#f4fbff"/><rect x="428.8" y="637.4" width="11.5" height="12.6" fill="#f8fcff"/><rect x="440.0" y="637.4" width="11.5" height="12.6" fill="#f9fdff"/><rect x="451.1" y="637.4" width="11.5" height="12.6" fill="#fbfeff"/><rect x="462.3" y="637.4" width="11.5" height="12.6" fill="#fdfeff"/><rect x="100.5" y="649.7" width="5.2" height="12.6" fill="#e5f5fe"/><rect x="105.4" y="649.7" width="11.5" height="12.6" fill="#e9f6fe"/><rect x="116.6" y="649.7" width="11.5" height="12.6" fill="#e2f3fe"/><rect x="127.7" y="649.7" width="11.5" height="12.6" fill="#cfecfd"/><rect x="138.9" y="649.7" width="11.5" height="12.6" fill="#b5e1fc"/><rect x="150.0" y="649.7" width="11.5" height="12.6" fill="#8dd1fa"/><rect x="161.2" y="649.7" width="11.5" height="12.6" fill="#13a0f5"/><rect x="172.3" y="649.7" width="11.5" height="12.6" fill="#0990e2"/><rect x="183.5" y="649.7" width="11.5" height="12.6" fill="#0d75b7"/><rect x="194.6" y="649.7" width="11.5" height="12.6" fill="#0c7bc1"/><rect x="205.8" y="649.7" width="11.5" height="12.6" fill="#0990e2"/><rect x="216.9" y="649.7" width="11.5" height="12.6" fill="#31acf7"/><rect x="228.1" y="649.7" width="11.5" height="12.6" fill="#17a2f6"/><rect x="239.2" y="649.7" width="11.5" height="12.6" fill="#59bdf8"/><rect x="250.4" y="649.7" width="11.5" height="12.6" fill="#77c8f9"/><rect x="261.6" y="649.7" width="11.5" height="12.6" fill="#90d3fb"/><rect x="272.7" y="649.7" width="11.5" height="12.6" fill="#9fd9fb"/><rect x="283.9" y="649.7" width="11.5" height="12.6" fill="#a7dcfb"/><rect x="295.0" y="649.7" width="11.5" height="12.6" fill="#b5e1fc"/><rect x="306.2" y="649.7" width="11.5" height="12.6" fill="#c4e7fd"/><rect x="317.3" y="649.7" width="11.5" height="12.6" fill="#cbeafd"/><rect x="328.5" y="649.7" width="11.5" height="12.6" fill="#d3edfd"/><rect x="339.6" y="649.7" width="11.5" height="12.6" fill="#d3edfd"/><rect x="350.8" y="649.7" width="11.5" height="12.6" fill="#daf0fe"/><rect x="361.9" y="649.7" width="11.5" height="12.6" fill="#e2f3fe"/><rect x="373.1" y="649.7" width="11.5" height="12.6" fill="#e9f6fe"/><rect x="384.2" y="649.7" width="11.5" height="12.6" fill="#edf8fe"/><rect x="395.4" y="649.7" width="11.5" height="12.6" fill="#f0f9fe"/><rect x="406.5" y="649.7" width="11.5" height="12.6" fill="#f2fafe"/><rect x="417.7" y="649.7" width="11.5" height="12.6" fill="#f8fcff"/><rect x="428.8" y="649.7" width="11.5" height="12.6" fill="#f8fcff"/><rect x="440.0" y="649.7" width="11.5" height="12.6" fill="#f9fdff"/><rect x="451.1" y="649.7" width="11.5" height="12.6" fill="#fbfeff"/><rect x="462.3" y="649.7" width="11.5" height="12.6" fill="#fdfeff"/><rect x="100.5" y="662.1" width="5.2" height="12.6" fill="#e9f6fe"/><rect x="105.4" y="662.1" width="11.5" height="12.6" fill="#edf8fe"/><rect x="116.6" y="662.1" width="11.5" height="12.6" fill="#e5f5fe"/><rect x="127.7" y="662.1" width="11.5" height="12.6" fill="#d3edfd"/><rect x="138.9" y="662.1" width="11.5" height="12.6" fill="#b5e1fc"/><rect x="150.0" y="662.1" width="11.5" height="12.6" fill="#8dd1fa"/><rect x="161.2" y="662.1" width="11.5" height="12.6" fill="#0a87d5"/><rect x="172.3" y="662.1" width="11.5" height="12.6" fill="#0a87d5"/><rect x="183.5" y="662.1" width="11.5" height="12.6" fill="#0b7fc8"/><rect x="194.6" y="662.1" width="11.5" height="12.6" fill="#0c7dc4"/><rect x="205.8" y="662.1" width="11.5" height="12.6" fill="#13a0f5"/><rect x="216.9" y="662.1" width="11.5" height="12.6" fill="#3fb2f7"/><rect x="228.1" y="662.1" width="11.5" height="12.6" fill="#52baf8"/><rect x="239.2" y="662.1" width="11.5" height="12.6" fill="#6cc4f9"/><rect x="250.4" y="662.1" width="11.5" height="12.6" fill="#82cdfa"/><rect x="261.6" y="662.1" width="11.5" height="12.6" fill="#9fd9fb"/><rect x="272.7" y="662.1" width="11.5" height="12.6" fill="#aedefc"/><rect x="283.9" y="662.1" width="11.5" height="12.6" fill="#b5e1fc"/><rect x="295.0" y="662.1" width="11.5" height="12.6" fill="#c4e7fd"/><rect x="306.2" y="662.1" width="11.5" height="12.6" fill="#cbeafd"/><rect x="317.3" y="662.1" width="11.5" height="12.6" fill="#d3edfd"/><rect x="328.5" y="662.1" width="11.5" height="12.6" fill="#daf0fe"/><rect x="339.6" y="662.1" width="11.5" height="12.6" fill="#daf0fe"/><rect x="350.8" y="662.1" width="11.5" height="12.6" fill="#e2f3fe"/><rect x="361.9" y="662.1" width="11.5" height="12.6" fill="#e5f5fe"/><rect x="373.1" y="662.1" width="11.5" height="12.6" fill="#edf8fe"/><rect x="384.2" y="662.1" width="11.5" height="12.6" fill="#f0f9fe"/><rect x="395.4" y="662.1" width="11.5" height="12.6" fill="#f2fafe"/><rect x="406.5" y="662.1" width="11.5" height="12.6" fill="#f4fbff"/><rect x="417.7" y="662.1" width="11.5" height="12.6" fill="#f8fcff"/><rect x="428.8" y="662.1" width="11.5" height="12.6" fill="#f9fdff"/><rect x="440.0" y="662.1" width="11.5" height="12.6" fill="#fbfdff"/><rect x="451.1" y="662.1" width="11.5" height="12.6" fill="#fcfeff"/><rect x="100.5" y="674.4" width="5.2" height="12.6" fill="#edf8fe"/><rect x="105.4" y="674.4" width="11.5" height="12.6" fill="#edf8fe"/><rect x="116.6" y="674.4" width="11.5" height="12.6" fill="#e5f5fe"/><rect x="127.7" y="674.4" width="11.5" height="12.6" fill="#d3edfd"/><rect x="138.9" y="674.4" width="11.5" height="12.6" fill="#b5e1fc"/><rect x="150.0" y="674.4" width="11.5" height="12.6" fill="#73c7f9"/><rect x="161.2" y="674.4" width="11.5" height="12.6" fill="#0a87d5"/><rect x="172.3" y="674.4" width="11.5" height="12.6" fill="#0a89d8"/><rect x="183.5" y="674.4" width="11.5" height="12.6" fill="#0c7dc4"/><rect x="194.6" y="674.4" width="11.5" height="12.6" fill="#0990e2"/><rect x="205.8" y="674.4" width="11.5" height="12.6" fill="#29a9f6"/><rect x="216.9" y="674.4" width="11.5" height="12.6" fill="#47b5f8"/><rect x="228.1" y="674.4" width="11.5" height="12.6" fill="#85cefa"/><rect x="239.2" y="674.4" width="11.5" height="12.6" fill="#82cdfa"/><rect x="250.4" y="674.4" width="11.5" height="12.6" fill="#98d6fb"/><rect x="261.6" y="674.4" width="11.5" height="12.6" fill="#aedefc"/><rect x="272.7" y="674.4" width="11.5" height="12.6" fill="#bde4fc"/><rect x="283.9" y="674.4" width="11.5" height="12.6" fill="#c4e7fd"/><rect x="295.0" y="674.4" width="11.5" height="12.6" fill="#cbeafd"/><rect x="306.2" y="674.4" width="11.5" height="12.6" fill="#d3edfd"/><rect x="317.3" y="674.4" width="11.5" height="12.6" fill="#daf0fe"/><rect x="328.5" y="674.4" width="11.5" height="12.6" fill="#e2f3fe"/><rect x="339.6" y="674.4" width="11.5" height="12.6" fill="#e2f3fe"/><rect x="350.8" y="674.4" width="11.5" height="12.6" fill="#e5f5fe"/><rect x="361.9" y="674.4" width="11.5" height="12.6" fill="#e9f6fe"/><rect x="373.1" y="674.4" width="11.5" height="12.6" fill="#f0f9fe"/><rect x="384.2" y="674.4" width="11.5" height="12.6" fill="#f2fafe"/><rect x="395.4" y="674.4" width="11.5" height="12.6" fill="#f4fbff"/><rect x="406.5" y="674.4" width="11.5" height="12.6" fill="#f8fcff"/><rect x="417.7" y="674.4" width="11.5" height="12.6" fill="#f9fdff"/><rect x="428.8" y="674.4" width="11.5" height="12.6" fill="#fbfeff"/><rect x="440.0" y="674.4" width="11.5" height="12.6" fill="#fcfeff"/><rect x="451.1" y="674.4" width="11.5" height="12.6" fill="#fdfeff"/><rect x="100.5" y="686.7" width="5.2" height="12.6" fill="#e5f5fe"/><rect x="105.4" y="686.7" width="11.5" height="12.6" fill="#e3f4fe"/><rect x="116.6" y="686.7" width="11.5" height="12.6" fill="#daf0fe"/><rect x="127.7" y="686.7" width="11.5" height="12.6" fill="#cbeafd"/><rect x="138.9" y="686.7" width="11.5" height="12.6" fill="#aedefc"/><rect x="150.0" y="686.7" width="11.5" height="12.6" fill="#73c7f9"/><rect x="161.2" y="686.7" width="11.5" height="12.6" fill="#0898ef"/><rect x="172.3" y="686.7" width="11.5" height="12.6" fill="#0898ef"/><rect x="183.5" y="686.7" width="11.5" height="12.6" fill="#0a87d5"/><rect x="194.6" y="686.7" width="11.5" height="12.6" fill="#31acf7"/><rect x="205.8" y="686.7" width="11.5" height="12.6" fill="#59bdf8"/><rect x="216.9" y="686.7" width="11.5" height="12.6" fill="#82cdfa"/><rect x="228.1" y="686.7" width="11.5" height="12.6" fill="#98d6fb"/><rect x="239.2" y="686.7" width="11.5" height="12.6" fill="#aedefc"/><rect x="250.4" y="686.7" width="11.5" height="12.6" fill="#b5e1fc"/><rect x="261.6" y="686.7" width="11.5" height="12.6" fill="#c4e7fd"/><rect x="272.7" y="686.7" width="11.5" height="12.6" fill="#cbeafd"/><rect x="283.9" y="686.7" width="11.5" height="12.6" fill="#d3edfd"/><rect x="295.0" y="686.7" width="11.5" height="12.6" fill="#daf0fe"/><rect x="306.2" y="686.7" width="11.5" height="12.6" fill="#daf0fe"/><rect x="317.3" y="686.7" width="11.5" height="12.6" fill="#e2f3fe"/><rect x="328.5" y="686.7" width="11.5" height="12.6" fill="#e5f5fe"/><rect x="339.6" y="686.7" width="11.5" height="12.6" fill="#e9f6fe"/><rect x="350.8" y="686.7" width="11.5" height="12.6" fill="#edf8fe"/><rect x="361.9" y="686.7" width="11.5" height="12.6" fill="#f0f9fe"/><rect x="373.1" y="686.7" width="11.5" height="12.6" fill="#f2fafe"/><rect x="384.2" y="686.7" width="11.5" height="12.6" fill="#f8fcff"/><rect x="395.4" y="686.7" width="11.5" height="12.6" fill="#f8fcff"/><rect x="406.5" y="686.7" width="11.5" height="12.6" fill="#f9fdff"/><rect x="417.7" y="686.7" width="11.5" height="12.6" fill="#fbfeff"/><rect x="428.8" y="686.7" width="11.5" height="12.6" fill="#fbfeff"/><rect x="440.0" y="686.7" width="11.5" height="12.6" fill="#fcfeff"/><rect x="451.1" y="686.7" width="11.5" height="12.6" fill="#fdfeff"/><rect x="100.5" y="699.0" width="5.2" height="12.6" fill="#edf8fe"/><rect x="105.4" y="699.0" width="11.5" height="12.6" fill="#edf8fe"/><rect x="116.6" y="699.0" width="11.5" height="12.6" fill="#e2f3fe"/><rect x="127.7" y="699.0" width="11.5" height="12.6" fill="#d3edfd"/><rect x="138.9" y="699.0" width="11.5" height="12.6" fill="#b5e1fc"/><rect x="150.0" y="699.0" width="11.5" height="12.6" fill="#6cc4f9"/><rect x="161.2" y="699.0" width="11.5" height="12.6" fill="#13a0f5"/><rect x="172.3" y="699.0" width="11.5" height="12.6" fill="#0c9df5"/><rect x="183.5" y="699.0" width="11.5" height="12.6" fill="#0c9df5"/><rect x="194.6" y="699.0" width="11.5" height="12.6" fill="#59bdf8"/><rect x="205.8" y="699.0" width="11.5" height="12.6" fill="#90d3fb"/><rect x="216.9" y="699.0" width="11.5" height="12.6" fill="#9fd9fb"/><rect x="228.1" y="699.0" width="11.5" height="12.6" fill="#b2e0fc"/><rect x="239.2" y="699.0" width="11.5" height="12.6" fill="#bde4fc"/><rect x="250.4" y="699.0" width="11.5" height="12.6" fill="#cbeafd"/><rect x="261.6" y="699.0" width="11.5" height="12.6" fill="#d3edfd"/><rect x="272.7" y="699.0" width="11.5" height="12.6" fill="#daf0fe"/><rect x="283.9" y="699.0" width="11.5" height="12.6" fill="#def2fe"/><rect x="295.0" y="699.0" width="11.5" height="12.6" fill="#e2f3fe"/><rect x="306.2" y="699.0" width="11.5" height="12.6" fill="#e5f5fe"/><rect x="317.3" y="699.0" width="11.5" height="12.6" fill="#e9f6fe"/><rect x="328.5" y="699.0" width="11.5" height="12.6" fill="#edf8fe"/><rect x="339.6" y="699.0" width="11.5" height="12.6" fill="#f0f9fe"/><rect x="350.8" y="699.0" width="11.5" height="12.6" fill="#f2fafe"/><rect x="361.9" y="699.0" width="11.5" height="12.6" fill="#f4fbff"/><rect x="373.1" y="699.0" width="11.5" height="12.6" fill="#f8fcff"/><rect x="384.2" y="699.0" width="11.5" height="12.6" fill="#f8fcff"/><rect x="395.4" y="699.0" width="11.5" height="12.6" fill="#f9fdff"/><rect x="406.5" y="699.0" width="11.5" height="12.6" fill="#fbfeff"/><rect x="417.7" y="699.0" width="11.5" height="12.6" fill="#fbfeff"/><rect x="428.8" y="699.0" width="11.5" height="12.6" fill="#fbfeff"/><rect x="440.0" y="699.0" width="11.5" height="12.6" fill="#fcfeff"/><rect x="451.1" y="699.0" width="11.5" height="12.6" fill="#fdfeff"/><rect x="100.5" y="711.4" width="5.2" height="12.6" fill="#f0f9fe"/><rect x="105.4" y="711.4" width="11.5" height="12.6" fill="#eef8fe"/><rect x="116.6" y="711.4" width="11.5" height="12.6" fill="#e5f5fe"/><rect x="127.7" y="711.4" width="11.5" height="12.6" fill="#daf0fe"/><rect x="138.9" y="711.4" width="11.5" height="12.6" fill="#bde4fc"/><rect x="150.0" y="711.4" width="11.5" height="12.6" fill="#6cc4f9"/><rect x="161.2" y="711.4" width="11.5" height="12.6" fill="#3fb2f7"/><rect x="172.3" y="711.4" width="11.5" height="12.6" fill="#3fb2f7"/><rect x="183.5" y="711.4" width="11.5" height="12.6" fill="#59bdf8"/><rect x="194.6" y="711.4" width="11.5" height="12.6" fill="#90d3fb"/><rect x="205.8" y="711.4" width="11.5" height="12.6" fill="#9fd9fb"/><rect x="216.9" y="711.4" width="11.5" height="12.6" fill="#aedefc"/><rect x="228.1" y="711.4" width="11.5" height="12.6" fill="#bde4fc"/><rect x="239.2" y="711.4" width="11.5" height="12.6" fill="#cbeafd"/><rect x="250.4" y="711.4" width="11.5" height="12.6" fill="#d3edfd"/><rect x="261.6" y="711.4" width="11.5" height="12.6" fill="#daf0fe"/><rect x="272.7" y="711.4" width="11.5" height="12.6" fill="#e2f3fe"/><rect x="283.9" y="711.4" width="11.5" height="12.6" fill="#e5f5fe"/><rect x="295.0" y="711.4" width="11.5" height="12.6" fill="#e9f6fe"/><rect x="306.2" y="711.4" width="11.5" height="12.6" fill="#e9f6fe"/><rect x="317.3" y="711.4" width="11.5" height="12.6" fill="#edf8fe"/><rect x="328.5" y="711.4" width="11.5" height="12.6" fill="#f2fafe"/><rect x="339.6" y="711.4" width="11.5" height="12.6" fill="#f4fbff"/><rect x="350.8" y="711.4" width="11.5" height="12.6" fill="#f4fbff"/><rect x="361.9" y="711.4" width="11.5" height="12.6" fill="#f8fcff"/><rect x="373.1" y="711.4" width="11.5" height="12.6" fill="#f8fcff"/><rect x="384.2" y="711.4" width="11.5" height="12.6" fill="#f9fdff"/><rect x="395.4" y="711.4" width="11.5" height="12.6" fill="#fbfeff"/><rect x="406.5" y="711.4" width="11.5" height="12.6" fill="#fbfeff"/><rect x="417.7" y="711.4" width="11.5" height="12.6" fill="#fbfeff"/><rect x="428.8" y="711.4" width="11.5" height="12.6" fill="#fbfeff"/><rect x="440.0" y="711.4" width="11.5" height="12.6" fill="#fcfeff"/><rect x="451.1" y="711.4" width="11.5" height="12.6" fill="#fdfeff"/><rect x="100.5" y="723.7" width="5.2" height="12.6" fill="#f4fbff"/><rect x="105.4" y="723.7" width="11.5" height="12.6" fill="#f0f9fe"/><rect x="116.6" y="723.7" width="11.5" height="12.6" fill="#e9f6fe"/><rect x="127.7" y="723.7" width="11.5" height="12.6" fill="#e2f3fe"/><rect x="138.9" y="723.7" width="11.5" height="12.6" fill="#c4e7fd"/><rect x="150.0" y="723.7" width="11.5" height="12.6" fill="#98d6fb"/><rect x="161.2" y="723.7" width="11.5" height="12.6" fill="#89d0fa"/><rect x="172.3" y="723.7" width="11.5" height="12.6" fill="#82cdfa"/><rect x="183.5" y="723.7" width="11.5" height="12.6" fill="#9fd9fb"/><rect x="194.6" y="723.7" width="11.5" height="12.6" fill="#bde4fc"/><rect x="205.8" y="723.7" width="11.5" height="12.6" fill="#c4e7fd"/><rect x="216.9" y="723.7" width="11.5" height="12.6" fill="#cbeafd"/><rect x="228.1" y="723.7" width="11.5" height="12.6" fill="#d3edfd"/><rect x="239.2" y="723.7" width="11.5" height="12.6" fill="#daf0fe"/><rect x="250.4" y="723.7" width="11.5" height="12.6" fill="#e2f3fe"/><rect x="261.6" y="723.7" width="11.5" height="12.6" fill="#e5f5fe"/><rect x="272.7" y="723.7" width="11.5" height="12.6" fill="#e9f6fe"/><rect x="283.9" y="723.7" width="11.5" height="12.6" fill="#edf8fe"/><rect x="295.0" y="723.7" width="11.5" height="12.6" fill="#edf8fe"/><rect x="306.2" y="723.7" width="11.5" height="12.6" fill="#f0f9fe"/><rect x="317.3" y="723.7" width="11.5" height="12.6" fill="#f0f9fe"/><rect x="328.5" y="723.7" width="11.5" height="12.6" fill="#f4fbff"/><rect x="339.6" y="723.7" width="11.5" height="12.6" fill="#f4fbff"/><rect x="350.8" y="723.7" width="11.5" height="12.6" fill="#f8fcff"/><rect x="361.9" y="723.7" width="11.5" height="12.6" fill="#f8fcff"/><rect x="373.1" y="723.7" width="11.5" height="12.6" fill="#f9fdff"/><rect x="384.2" y="723.7" width="11.5" height="12.6" fill="#fbfeff"/><rect x="395.4" y="723.7" width="11.5" height="12.6" fill="#fbfeff"/><rect x="406.5" y="723.7" width="11.5" height="12.6" fill="#fbfeff"/><rect x="417.7" y="723.7" width="11.5" height="12.6" fill="#fdfeff"/><rect x="428.8" y="723.7" width="11.5" height="12.6" fill="#fdfeff"/><rect x="100.5" y="736.0" width="5.2" height="12.6" fill="#f6fbff"/><rect x="105.4" y="736.0" width="11.5" height="12.6" fill="#f4fbff"/><rect x="116.6" y="736.0" width="11.5" height="12.6" fill="#edf8fe"/><rect x="127.7" y="736.0" width="11.5" height="12.6" fill="#e5f5fe"/><rect x="138.9" y="736.0" width="11.5" height="12.6" fill="#daf0fe"/><rect x="150.0" y="736.0" width="11.5" height="12.6" fill="#cbeafd"/><rect x="161.2" y="736.0" width="11.5" height="12.6" fill="#bde4fc"/><rect x="172.3" y="736.0" width="11.5" height="12.6" fill="#aedefc"/><rect x="183.5" y="736.0" width="11.5" height="12.6" fill="#c4e7fd"/><rect x="194.6" y="736.0" width="11.5" height="12.6" fill="#daf0fe"/><rect x="205.8" y="736.0" width="11.5" height="12.6" fill="#daf0fe"/><rect x="216.9" y="736.0" width="11.5" height="12.6" fill="#e2f3fe"/><rect x="228.1" y="736.0" width="11.5" height="12.6" fill="#e5f5fe"/><rect x="239.2" y="736.0" width="11.5" height="12.6" fill="#e9f6fe"/><rect x="250.4" y="736.0" width="11.5" height="12.6" fill="#edf8fe"/><rect x="261.6" y="736.0" width="11.5" height="12.6" fill="#eef8fe"/><rect x="272.7" y="736.0" width="11.5" height="12.6" fill="#f0f9fe"/><rect x="283.9" y="736.0" width="11.5" height="12.6" fill="#f2fafe"/><rect x="295.0" y="736.0" width="11.5" height="12.6" fill="#f4fbff"/><rect x="306.2" y="736.0" width="11.5" height="12.6" fill="#f4fbff"/><rect x="317.3" y="736.0" width="11.5" height="12.6" fill="#f4fbff"/><rect x="328.5" y="736.0" width="11.5" height="12.6" fill="#f6fbff"/><rect x="339.6" y="736.0" width="11.5" height="12.6" fill="#f8fcff"/><rect x="350.8" y="736.0" width="11.5" height="12.6" fill="#f8fcff"/><rect x="361.9" y="736.0" width="11.5" height="12.6" fill="#f9fdff"/><rect x="373.1" y="736.0" width="11.5" height="12.6" fill="#fbfeff"/><rect x="384.2" y="736.0" width="11.5" height="12.6" fill="#fbfeff"/><rect x="395.4" y="736.0" width="11.5" height="12.6" fill="#fbfeff"/><rect x="406.5" y="736.0" width="11.5" height="12.6" fill="#fdfeff"/><rect x="417.7" y="736.0" width="11.5" height="12.6" fill="#fdfeff"/><rect x="428.8" y="736.0" width="11.5" height="12.6" fill="#fdfeff"/><rect x="100.5" y="748.4" width="5.2" height="12.6" fill="#f8fcff"/><rect x="105.4" y="748.4" width="11.5" height="12.6" fill="#f6fbff"/><rect x="116.6" y="748.4" width="11.5" height="12.6" fill="#f4fbff"/><rect x="127.7" y="748.4" width="11.5" height="12.6" fill="#edf8fe"/><rect x="138.9" y="748.4" width="11.5" height="12.6" fill="#e5f5fe"/><rect x="150.0" y="748.4" width="11.5" height="12.6" fill="#e5f5fe"/><rect x="161.2" y="748.4" width="11.5" height="12.6" fill="#e2f3fe"/><rect x="172.3" y="748.4" width="11.5" height="12.6" fill="#daf0fe"/><rect x="183.5" y="748.4" width="11.5" height="12.6" fill="#e2f3fe"/><rect x="194.6" y="748.4" width="11.5" height="12.6" fill="#e5f5fe"/><rect x="205.8" y="748.4" width="11.5" height="12.6" fill="#e9f6fe"/><rect x="216.9" y="748.4" width="11.5" height="12.6" fill="#edf8fe"/><rect x="228.1" y="748.4" width="11.5" height="12.6" fill="#eef8fe"/><rect x="239.2" y="748.4" width="11.5" height="12.6" fill="#f0f9fe"/><rect x="250.4" y="748.4" width="11.5" height="12.6" fill="#f2fafe"/><rect x="261.6" y="748.4" width="11.5" height="12.6" fill="#f4fbff"/><rect x="272.7" y="748.4" width="11.5" height="12.6" fill="#f4fbff"/><rect x="283.9" y="748.4" width="11.5" height="12.6" fill="#f6fbff"/><rect x="295.0" y="748.4" width="11.5" height="12.6" fill="#f8fcff"/><rect x="306.2" y="748.4" width="11.5" height="12.6" fill="#f8fcff"/><rect x="317.3" y="748.4" width="11.5" height="12.6" fill="#f8fcff"/><rect x="328.5" y="748.4" width="11.5" height="12.6" fill="#f8fcff"/><rect x="339.6" y="748.4" width="11.5" height="12.6" fill="#f8fcff"/><rect x="350.8" y="748.4" width="11.5" height="12.6" fill="#f9fcff"/><rect x="361.9" y="748.4" width="11.5" height="12.6" fill="#f9fdff"/><rect x="373.1" y="748.4" width="11.5" height="12.6" fill="#f9fdff"/><rect x="384.2" y="748.4" width="11.5" height="12.6" fill="#fafdff"/><rect x="395.4" y="748.4" width="11.5" height="12.6" fill="#fafdff"/><rect x="406.5" y="748.4" width="11.5" height="12.6" fill="#fbfdff"/><rect x="417.7" y="748.4" width="11.5" height="12.6" fill="#fbfdff"/><rect x="428.8" y="748.4" width="11.5" height="12.6" fill="#fcfeff"/><rect x="440.0" y="748.4" width="11.5" height="12.6" fill="#fcfeff"/><rect x="451.1" y="748.4" width="11.5" height="12.6" fill="#fcfeff"/><rect x="462.3" y="748.4" width="11.5" height="12.6" fill="#fdfeff"/><rect x="473.4" y="748.4" width="11.5" height="12.6" fill="#fdfeff"/><rect x="100.5" y="760.7" width="5.2" height="12.6" fill="#f8fcff"/><rect x="105.4" y="760.7" width="11.5" height="12.6" fill="#f6fbff"/><rect x="116.6" y="760.7" width="11.5" height="12.6" fill="#f6fbff"/><rect x="127.7" y="760.7" width="11.5" height="12.6" fill="#f0f9fe"/><rect x="138.9" y="760.7" width="11.5" height="12.6" fill="#edf8fe"/><rect x="150.0" y="760.7" width="11.5" height="12.6" fill="#e9f6fe"/><rect x="161.2" y="760.7" width="11.5" height="12.6" fill="#e5f5fe"/><rect x="172.3" y="760.7" width="11.5" height="12.6" fill="#e2f3fe"/><rect x="183.5" y="760.7" width="11.5" height="12.6" fill="#e5f5fe"/><rect x="194.6" y="760.7" width="11.5" height="12.6" fill="#e9f6fe"/><rect x="205.8" y="760.7" width="11.5" height="12.6" fill="#edf8fe"/><rect x="216.9" y="760.7" width="11.5" height="12.6" fill="#eef8fe"/><rect x="228.1" y="760.7" width="11.5" height="12.6" fill="#f0f9fe"/><rect x="239.2" y="760.7" width="11.5" height="12.6" fill="#f2fafe"/><rect x="250.4" y="760.7" width="11.5" height="12.6" fill="#f4fbff"/><rect x="261.6" y="760.7" width="11.5" height="12.6" fill="#f6fbff"/><rect x="272.7" y="760.7" width="11.5" height="12.6" fill="#f6fbff"/><rect x="283.9" y="760.7" width="11.5" height="12.6" fill="#f8fcff"/><rect x="295.0" y="760.7" width="11.5" height="12.6" fill="#f8fcff"/><rect x="306.2" y="760.7" width="11.5" height="12.6" fill="#f8fcff"/><rect x="317.3" y="760.7" width="11.5" height="12.6" fill="#f8fcff"/><rect x="328.5" y="760.7" width="11.5" height="12.6" fill="#f8fcff"/><rect x="339.6" y="760.7" width="11.5" height="12.6" fill="#f8fcff"/><rect x="350.8" y="760.7" width="11.5" height="12.6" fill="#f9fcff"/><rect x="361.9" y="760.7" width="11.5" height="12.6" fill="#f9fdff"/><rect x="373.1" y="760.7" width="11.5" height="12.6" fill="#f9fdff"/><rect x="384.2" y="760.7" width="11.5" height="12.6" fill="#fafdff"/><rect x="395.4" y="760.7" width="11.5" height="12.6" fill="#fafdff"/><rect x="406.5" y="760.7" width="11.5" height="12.6" fill="#fbfdff"/><rect x="417.7" y="760.7" width="11.5" height="12.6" fill="#fbfdff"/><rect x="428.8" y="760.7" width="11.5" height="12.6" fill="#fcfeff"/><rect x="440.0" y="760.7" width="11.5" height="12.6" fill="#fcfeff"/><rect x="451.1" y="760.7" width="11.5" height="12.6" fill="#fcfeff"/><rect x="462.3" y="760.7" width="11.5" height="12.6" fill="#fdfeff"/><rect x="473.4" y="760.7" width="11.5" height="12.6" fill="#fdfeff"/><rect x="100.5" y="773.0" width="5.2" height="12.6" fill="#f8fcff"/><rect x="105.4" y="773.0" width="11.5" height="12.6" fill="#f4fbff"/><rect x="116.6" y="773.0" width="11.5" height="12.6" fill="#f4fbff"/><rect x="127.7" y="773.0" width="11.5" height="12.6" fill="#f4fbff"/><rect x="138.9" y="773.0" width="11.5" height="12.6" fill="#f0f9fe"/><rect x="150.0" y="773.0" width="11.5" height="12.6" fill="#f0f9fe"/><rect x="161.2" y="773.0" width="11.5" height="12.6" fill="#f0f9fe"/><rect x="172.3" y="773.0" width="11.5" height="12.6" fill="#f0f9fe"/><rect x="183.5" y="773.0" width="11.5" height="12.6" fill="#edf8fe"/><rect x="194.6" y="773.0" width="11.5" height="12.6" fill="#e9f6fe"/><rect x="205.8" y="773.0" width="11.5" height="12.6" fill="#e9f6fe"/><rect x="216.9" y="773.0" width="11.5" height="12.6" fill="#eef8fe"/><rect x="228.1" y="773.0" width="11.5" height="12.6" fill="#f0f9fe"/><rect x="239.2" y="773.0" width="11.5" height="12.6" fill="#f2fafe"/><rect x="250.4" y="773.0" width="11.5" height="12.6" fill="#f4fbff"/><rect x="261.6" y="773.0" width="11.5" height="12.6" fill="#f6fbff"/><rect x="272.7" y="773.0" width="11.5" height="12.6" fill="#f8fcff"/><rect x="283.9" y="773.0" width="11.5" height="12.6" fill="#f8fcff"/><rect x="295.0" y="773.0" width="11.5" height="12.6" fill="#f8fcff"/><rect x="306.2" y="773.0" width="11.5" height="12.6" fill="#f8fcff"/><rect x="317.3" y="773.0" width="11.5" height="12.6" fill="#f8fcff"/><rect x="328.5" y="773.0" width="11.5" height="12.6" fill="#f8fcff"/><rect x="339.6" y="773.0" width="11.5" height="12.6" fill="#f8fcff"/><rect x="350.8" y="773.0" width="11.5" height="12.6" fill="#f9fcff"/><rect x="361.9" y="773.0" width="11.5" height="12.6" fill="#f9fdff"/><rect x="373.1" y="773.0" width="11.5" height="12.6" fill="#f9fdff"/><rect x="384.2" y="773.0" width="11.5" height="12.6" fill="#fafdff"/><rect x="395.4" y="773.0" width="11.5" height="12.6" fill="#fafdff"/><rect x="406.5" y="773.0" width="11.5" height="12.6" fill="#fbfdff"/><rect x="417.7" y="773.0" width="11.5" height="12.6" fill="#fbfdff"/><rect x="428.8" y="773.0" width="11.5" height="12.6" fill="#fcfeff"/><rect x="440.0" y="773.0" width="11.5" height="12.6" fill="#fcfeff"/><rect x="451.1" y="773.0" width="11.5" height="12.6" fill="#fcfeff"/><rect x="462.3" y="773.0" width="11.5" height="12.6" fill="#fdfeff"/><rect x="473.4" y="773.0" width="11.5" height="12.6" fill="#fdfeff"/><rect x="100.5" y="785.4" width="5.2" height="12.6" fill="#f8fcff"/><rect x="105.4" y="785.4" width="11.5" height="12.6" fill="#f0f9fe"/><rect x="116.6" y="785.4" width="11.5" height="12.6" fill="#f0f9fe"/><rect x="127.7" y="785.4" width="11.5" height="12.6" fill="#f0f9fe"/><rect x="138.9" y="785.4" width="11.5" height="12.6" fill="#edf8fe"/><rect x="150.0" y="785.4" width="11.5" height="12.6" fill="#e9f6fe"/><rect x="161.2" y="785.4" width="11.5" height="12.6" fill="#e9f6fe"/><rect x="172.3" y="785.4" width="11.5" height="12.6" fill="#e9f6fe"/><rect x="183.5" y="785.4" width="11.5" height="12.6" fill="#edf8fe"/><rect x="194.6" y="785.4" width="11.5" height="12.6" fill="#e9f6fe"/><rect x="205.8" y="785.4" width="11.5" height="12.6" fill="#edf8fe"/><rect x="216.9" y="785.4" width="11.5" height="12.6" fill="#eef8fe"/><rect x="228.1" y="785.4" width="11.5" height="12.6" fill="#f0f9fe"/><rect x="239.2" y="785.4" width="11.5" height="12.6" fill="#f2fafe"/><rect x="250.4" y="785.4" width="11.5" height="12.6" fill="#f4fbff"/><rect x="261.6" y="785.4" width="11.5" height="12.6" fill="#f6fbff"/><rect x="272.7" y="785.4" width="11.5" height="12.6" fill="#f8fcff"/><rect x="283.9" y="785.4" width="11.5" height="12.6" fill="#f8fcff"/><rect x="295.0" y="785.4" width="11.5" height="12.6" fill="#f8fcff"/><rect x="306.2" y="785.4" width="11.5" height="12.6" fill="#f8fcff"/><rect x="317.3" y="785.4" width="11.5" height="12.6" fill="#f8fcff"/><rect x="328.5" y="785.4" width="11.5" height="12.6" fill="#f8fcff"/><rect x="339.6" y="785.4" width="11.5" height="12.6" fill="#f8fcff"/><rect x="350.8" y="785.4" width="11.5" height="12.6" fill="#f9fcff"/><rect x="361.9" y="785.4" width="11.5" height="12.6" fill="#f9fdff"/><rect x="373.1" y="785.4" width="11.5" height="12.6" fill="#f9fdff"/><rect x="384.2" y="785.4" width="11.5" height="12.6" fill="#fafdff"/><rect x="395.4" y="785.4" width="11.5" height="12.6" fill="#fafdff"/><rect x="406.5" y="785.4" width="11.5" height="12.6" fill="#fbfdff"/><rect x="417.7" y="785.4" width="11.5" height="12.6" fill="#fbfdff"/><rect x="428.8" y="785.4" width="11.5" height="12.6" fill="#fcfeff"/><rect x="440.0" y="785.4" width="11.5" height="12.6" fill="#fcfeff"/><rect x="451.1" y="785.4" width="11.5" height="12.6" fill="#fcfeff"/><rect x="462.3" y="785.4" width="11.5" height="12.6" fill="#fdfeff"/><rect x="473.4" y="785.4" width="11.5" height="12.6" fill="#fdfeff"/><rect x="100.5" y="797.7" width="5.2" height="12.6" fill="#f8fcff"/><rect x="105.4" y="797.7" width="11.5" height="12.6" fill="#e5f5fe"/><rect x="116.6" y="797.7" width="11.5" height="12.6" fill="#e5f5fe"/><rect x="127.7" y="797.7" width="11.5" height="12.6" fill="#e9f6fe"/><rect x="138.9" y="797.7" width="11.5" height="12.6" fill="#edf8fe"/><rect x="150.0" y="797.7" width="11.5" height="12.6" fill="#e9f6fe"/><rect x="161.2" y="797.7" width="11.5" height="12.6" fill="#c4e7fd"/><rect x="172.3" y="797.7" width="11.5" height="12.6" fill="#e5f5fe"/><rect x="183.5" y="797.7" width="11.5" height="12.6" fill="#daf0fe"/><rect x="194.6" y="797.7" width="11.5" height="12.6" fill="#daf0fe"/><rect x="205.8" y="797.7" width="11.5" height="12.6" fill="#daf0fe"/><rect x="216.9" y="797.7" width="11.5" height="12.6" fill="#edf8fe"/><rect x="228.1" y="797.7" width="11.5" height="12.6" fill="#eef8fe"/><rect x="239.2" y="797.7" width="11.5" height="12.6" fill="#f0f9fe"/><rect x="250.4" y="797.7" width="11.5" height="12.6" fill="#f2fafe"/><rect x="261.6" y="797.7" width="11.5" height="12.6" fill="#f4fbff"/><rect x="272.7" y="797.7" width="11.5" height="12.6" fill="#f6fbff"/><rect x="283.9" y="797.7" width="11.5" height="12.6" fill="#f8fcff"/><rect x="295.0" y="797.7" width="11.5" height="12.6" fill="#f8fcff"/><rect x="306.2" y="797.7" width="11.5" height="12.6" fill="#f8fcff"/><rect x="317.3" y="797.7" width="11.5" height="12.6" fill="#f8fcff"/><rect x="328.5" y="797.7" width="11.5" height="12.6" fill="#f8fcff"/><rect x="339.6" y="797.7" width="11.5" height="12.6" fill="#f8fcff"/><rect x="350.8" y="797.7" width="11.5" height="12.6" fill="#f9fcff"/><rect x="361.9" y="797.7" width="11.5" height="12.6" fill="#f9fdff"/><rect x="373.1" y="797.7" width="11.5" height="12.6" fill="#f9fdff"/><rect x="384.2" y="797.7" width="11.5" height="12.6" fill="#fafdff"/><rect x="395.4" y="797.7" width="11.5" height="12.6" fill="#fafdff"/><rect x="406.5" y="797.7" width="11.5" height="12.6" fill="#fbfdff"/><rect x="417.7" y="797.7" width="11.5" height="12.6" fill="#fbfdff"/><rect x="428.8" y="797.7" width="11.5" height="12.6" fill="#fcfeff"/><rect x="440.0" y="797.7" width="11.5" height="12.6" fill="#fcfeff"/><rect x="451.1" y="797.7" width="11.5" height="12.6" fill="#fcfeff"/><rect x="462.3" y="797.7" width="11.5" height="12.6" fill="#fdfeff"/><rect x="473.4" y="797.7" width="11.5" height="12.6" fill="#fdfeff"/><rect x="100.5" y="810.0" width="5.2" height="12.6" fill="#f8fcff"/><rect x="105.4" y="810.0" width="11.5" height="12.6" fill="#e5f5fe"/><rect x="116.6" y="810.0" width="11.5" height="12.6" fill="#e9f6fe"/><rect x="127.7" y="810.0" width="11.5" height="12.6" fill="#e2f3fe"/><rect x="138.9" y="810.0" width="11.5" height="12.6" fill="#daf0fe"/><rect x="150.0" y="810.0" width="11.5" height="12.6" fill="#e9f6fe"/><rect x="161.2" y="810.0" width="11.5" height="12.6" fill="#c4e7fd"/><rect x="172.3" y="810.0" width="11.5" height="12.6" fill="#e2f3fe"/><rect x="183.5" y="810.0" width="11.5" height="12.6" fill="#d3edfd"/><rect x="194.6" y="810.0" width="11.5" height="12.6" fill="#daf0fe"/><rect x="205.8" y="810.0" width="11.5" height="12.6" fill="#e2f3fe"/><rect x="216.9" y="810.0" width="11.5" height="12.6" fill="#edf8fe"/><rect x="228.1" y="810.0" width="11.5" height="12.6" fill="#eef8fe"/><rect x="239.2" y="810.0" width="11.5" height="12.6" fill="#f0f9fe"/><rect x="250.4" y="810.0" width="11.5" height="12.6" fill="#f2fafe"/><rect x="261.6" y="810.0" width="11.5" height="12.6" fill="#f4fbff"/><rect x="272.7" y="810.0" width="11.5" height="12.6" fill="#f6fbff"/><rect x="283.9" y="810.0" width="11.5" height="12.6" fill="#f8fcff"/><rect x="295.0" y="810.0" width="11.5" height="12.6" fill="#f8fcff"/><rect x="306.2" y="810.0" width="11.5" height="12.6" fill="#f8fcff"/><rect x="317.3" y="810.0" width="11.5" height="12.6" fill="#f8fcff"/><rect x="328.5" y="810.0" width="11.5" height="12.6" fill="#f8fcff"/><rect x="339.6" y="810.0" width="11.5" height="12.6" fill="#f8fcff"/><rect x="350.8" y="810.0" width="11.5" height="12.6" fill="#f9fcff"/><rect x="361.9" y="810.0" width="11.5" height="12.6" fill="#f9fdff"/><rect x="373.1" y="810.0" width="11.5" height="12.6" fill="#f9fdff"/><rect x="384.2" y="810.0" width="11.5" height="12.6" fill="#fafdff"/><rect x="395.4" y="810.0" width="11.5" height="12.6" fill="#fafdff"/><rect x="406.5" y="810.0" width="11.5" height="12.6" fill="#fbfdff"/><rect x="417.7" y="810.0" width="11.5" height="12.6" fill="#fbfdff"/><rect x="428.8" y="810.0" width="11.5" height="12.6" fill="#fcfeff"/><rect x="440.0" y="810.0" width="11.5" height="12.6" fill="#fcfeff"/><rect x="451.1" y="810.0" width="11.5" height="12.6" fill="#fcfeff"/><rect x="462.3" y="810.0" width="11.5" height="12.6" fill="#fdfeff"/><rect x="473.4" y="810.0" width="11.5" height="12.6" fill="#fdfeff"/><rect x="100.5" y="822.3" width="5.2" height="12.6" fill="#f4fbff"/><rect x="105.4" y="822.3" width="11.5" height="12.6" fill="#edf8fe"/><rect x="116.6" y="822.3" width="11.5" height="12.6" fill="#e9f6fe"/><rect x="127.7" y="822.3" width="11.5" height="12.6" fill="#daf0fe"/><rect x="138.9" y="822.3" width="11.5" height="12.6" fill="#d3edfd"/><rect x="150.0" y="822.3" width="11.5" height="12.6" fill="#edf8fe"/><rect x="161.2" y="822.3" width="11.5" height="12.6" fill="#d3edfd"/><rect x="172.3" y="822.3" width="11.5" height="12.6" fill="#daf0fe"/><rect x="183.5" y="822.3" width="11.5" height="12.6" fill="#d3edfd"/><rect x="194.6" y="822.3" width="11.5" height="12.6" fill="#cbeafd"/><rect x="205.8" y="822.3" width="11.5" height="12.6" fill="#daf0fe"/><rect x="216.9" y="822.3" width="11.5" height="12.6" fill="#e9f6fe"/><rect x="228.1" y="822.3" width="11.5" height="12.6" fill="#edf8fe"/><rect x="239.2" y="822.3" width="11.5" height="12.6" fill="#f0f9fe"/><rect x="250.4" y="822.3" width="11.5" height="12.6" fill="#f2fafe"/><rect x="261.6" y="822.3" width="11.5" height="12.6" fill="#f4fbff"/><rect x="272.7" y="822.3" width="11.5" height="12.6" fill="#f6fbff"/><rect x="283.9" y="822.3" width="11.5" height="12.6" fill="#f8fcff"/><rect x="295.0" y="822.3" width="11.5" height="12.6" fill="#f8fcff"/><rect x="306.2" y="822.3" width="11.5" height="12.6" fill="#f8fcff"/><rect x="317.3" y="822.3" width="11.5" height="12.6" fill="#f8fcff"/><rect x="328.5" y="822.3" width="11.5" height="12.6" fill="#f8fcff"/><rect x="339.6" y="822.3" width="11.5" height="12.6" fill="#f8fcff"/><rect x="350.8" y="822.3" width="11.5" height="12.6" fill="#f9fcff"/><rect x="361.9" y="822.3" width="11.5" height="12.6" fill="#f9fdff"/><rect x="373.1" y="822.3" width="11.5" height="12.6" fill="#f9fdff"/><rect x="384.2" y="822.3" width="11.5" height="12.6" fill="#fafdff"/><rect x="395.4" y="822.3" width="11.5" height="12.6" fill="#fafdff"/><rect x="406.5" y="822.3" width="11.5" height="12.6" fill="#fbfdff"/><rect x="417.7" y="822.3" width="11.5" height="12.6" fill="#fbfdff"/><rect x="428.8" y="822.3" width="11.5" height="12.6" fill="#fcfeff"/><rect x="440.0" y="822.3" width="11.5" height="12.6" fill="#fcfeff"/><rect x="451.1" y="822.3" width="11.5" height="12.6" fill="#fcfeff"/><rect x="462.3" y="822.3" width="11.5" height="12.6" fill="#fdfeff"/><rect x="473.4" y="822.3" width="11.5" height="12.6" fill="#fdfeff"/><rect x="100.5" y="834.7" width="5.2" height="12.6" fill="#f4fbff"/><rect x="105.4" y="834.7" width="11.5" height="12.6" fill="#edf8fe"/><rect x="116.6" y="834.7" width="11.5" height="12.6" fill="#e9f6fe"/><rect x="127.7" y="834.7" width="11.5" height="12.6" fill="#e2f3fe"/><rect x="138.9" y="834.7" width="11.5" height="12.6" fill="#cbeafd"/><rect x="150.0" y="834.7" width="11.5" height="12.6" fill="#edf8fe"/><rect x="161.2" y="834.7" width="11.5" height="12.6" fill="#c4e7fd"/><rect x="172.3" y="834.7" width="11.5" height="12.6" fill="#c0e6fc"/><rect x="183.5" y="834.7" width="11.5" height="12.6" fill="#cfecfd"/><rect x="194.6" y="834.7" width="11.5" height="12.6" fill="#d6effd"/><rect x="205.8" y="834.7" width="11.5" height="12.6" fill="#d6effd"/><rect x="216.9" y="834.7" width="11.5" height="12.6" fill="#e5f5fe"/><rect x="228.1" y="834.7" width="11.5" height="12.6" fill="#edf8fe"/><rect x="239.2" y="834.7" width="11.5" height="12.6" fill="#f0f9fe"/><rect x="250.4" y="834.7" width="11.5" height="12.6" fill="#f2fafe"/><rect x="261.6" y="834.7" width="11.5" height="12.6" fill="#f4fbff"/><rect x="272.7" y="834.7" width="11.5" height="12.6" fill="#f6fbff"/><rect x="283.9" y="834.7" width="11.5" height="12.6" fill="#f8fcff"/><rect x="295.0" y="834.7" width="11.5" height="12.6" fill="#f8fcff"/><rect x="306.2" y="834.7" width="11.5" height="12.6" fill="#f8fcff"/><rect x="317.3" y="834.7" width="11.5" height="12.6" fill="#f8fcff"/><rect x="328.5" y="834.7" width="11.5" height="12.6" fill="#f8fcff"/><rect x="339.6" y="834.7" width="11.5" height="12.6" fill="#f8fcff"/><rect x="350.8" y="834.7" width="11.5" height="12.6" fill="#f9fcff"/><rect x="361.9" y="834.7" width="11.5" height="12.6" fill="#f9fdff"/><rect x="373.1" y="834.7" width="11.5" height="12.6" fill="#f9fdff"/><rect x="384.2" y="834.7" width="11.5" height="12.6" fill="#fafdff"/><rect x="395.4" y="834.7" width="11.5" height="12.6" fill="#fafdff"/><rect x="406.5" y="834.7" width="11.5" height="12.6" fill="#fbfdff"/><rect x="417.7" y="834.7" width="11.5" height="12.6" fill="#fbfdff"/><rect x="428.8" y="834.7" width="11.5" height="12.6" fill="#fcfeff"/><rect x="440.0" y="834.7" width="11.5" height="12.6" fill="#fcfeff"/><rect x="451.1" y="834.7" width="11.5" height="12.6" fill="#fcfeff"/><rect x="462.3" y="834.7" width="11.5" height="12.6" fill="#fdfeff"/><rect x="473.4" y="834.7" width="11.5" height="12.6" fill="#fdfeff"/><rect x="100.5" y="847.0" width="5.2" height="12.6" fill="#f4fbff"/><rect x="105.4" y="847.0" width="11.5" height="12.6" fill="#edf8fe"/><rect x="116.6" y="847.0" width="11.5" height="12.6" fill="#edf8fe"/><rect x="127.7" y="847.0" width="11.5" height="12.6" fill="#e9f6fe"/><rect x="138.9" y="847.0" width="11.5" height="12.6" fill="#daf0fe"/><rect x="150.0" y="847.0" width="11.5" height="12.6" fill="#edf8fe"/><rect x="161.2" y="847.0" width="11.5" height="12.6" fill="#e2f3fe"/><rect x="172.3" y="847.0" width="11.5" height="12.6" fill="#cfecfd"/><rect x="183.5" y="847.0" width="11.5" height="12.6" fill="#cbeafd"/><rect x="194.6" y="847.0" width="11.5" height="12.6" fill="#cbeafd"/><rect x="205.8" y="847.0" width="11.5" height="12.6" fill="#def2fe"/><rect x="216.9" y="847.0" width="11.5" height="12.6" fill="#e5f5fe"/><rect x="228.1" y="847.0" width="11.5" height="12.6" fill="#edf8fe"/><rect x="239.2" y="847.0" width="11.5" height="12.6" fill="#f0f9fe"/><rect x="250.4" y="847.0" width="11.5" height="12.6" fill="#f2fafe"/><rect x="261.6" y="847.0" width="11.5" height="12.6" fill="#f4fbff"/><rect x="272.7" y="847.0" width="11.5" height="12.6" fill="#f6fbff"/><rect x="283.9" y="847.0" width="11.5" height="12.6" fill="#f8fcff"/><rect x="295.0" y="847.0" width="11.5" height="12.6" fill="#f8fcff"/><rect x="306.2" y="847.0" width="11.5" height="12.6" fill="#f8fcff"/><rect x="317.3" y="847.0" width="11.5" height="12.6" fill="#f8fcff"/><rect x="328.5" y="847.0" width="11.5" height="12.6" fill="#f8fcff"/><rect x="339.6" y="847.0" width="11.5" height="12.6" fill="#f8fcff"/><rect x="350.8" y="847.0" width="11.5" height="12.6" fill="#f9fcff"/><rect x="361.9" y="847.0" width="11.5" height="12.6" fill="#f9fdff"/><rect x="373.1" y="847.0" width="11.5" height="12.6" fill="#f9fdff"/><rect x="384.2" y="847.0" width="11.5" height="12.6" fill="#fafdff"/><rect x="395.4" y="847.0" width="11.5" height="12.6" fill="#fafdff"/><rect x="406.5" y="847.0" width="11.5" height="12.6" fill="#fbfdff"/><rect x="417.7" y="847.0" width="11.5" height="12.6" fill="#fbfdff"/><rect x="428.8" y="847.0" width="11.5" height="12.6" fill="#fcfeff"/><rect x="440.0" y="847.0" width="11.5" height="12.6" fill="#fcfeff"/><rect x="451.1" y="847.0" width="11.5" height="12.6" fill="#fcfeff"/><rect x="462.3" y="847.0" width="11.5" height="12.6" fill="#fdfeff"/><rect x="473.4" y="847.0" width="11.5" height="12.6" fill="#fdfeff"/><rect x="100.5" y="859.3" width="5.2" height="12.6" fill="#f4fbff"/><rect x="105.4" y="859.3" width="11.5" height="12.6" fill="#f0f9fe"/><rect x="116.6" y="859.3" width="11.5" height="12.6" fill="#edf8fe"/><rect x="127.7" y="859.3" width="11.5" height="12.6" fill="#edf8fe"/><rect x="138.9" y="859.3" width="11.5" height="12.6" fill="#e2f3fe"/><rect x="150.0" y="859.3" width="11.5" height="12.6" fill="#f0f9fe"/><rect x="161.2" y="859.3" width="11.5" height="12.6" fill="#edf8fe"/><rect x="172.3" y="859.3" width="11.5" height="12.6" fill="#d3edfd"/><rect x="183.5" y="859.3" width="11.5" height="12.6" fill="#cbeafd"/><rect x="194.6" y="859.3" width="11.5" height="12.6" fill="#cfecfd"/><rect x="205.8" y="859.3" width="11.5" height="12.6" fill="#e5f5fe"/><rect x="216.9" y="859.3" width="11.5" height="12.6" fill="#ebf7fe"/><rect x="228.1" y="859.3" width="11.5" height="12.6" fill="#eef8fe"/><rect x="239.2" y="859.3" width="11.5" height="12.6" fill="#f2fafe"/><rect x="250.4" y="859.3" width="11.5" height="12.6" fill="#f4fbff"/><rect x="261.6" y="859.3" width="11.5" height="12.6" fill="#f6fbff"/><rect x="272.7" y="859.3" width="11.5" height="12.6" fill="#f8fcff"/><rect x="283.9" y="859.3" width="11.5" height="12.6" fill="#f8fcff"/><rect x="295.0" y="859.3" width="11.5" height="12.6" fill="#f8fcff"/><rect x="306.2" y="859.3" width="11.5" height="12.6" fill="#f9fdff"/><rect x="317.3" y="859.3" width="11.5" height="12.6" fill="#f9fdff"/><rect x="328.5" y="859.3" width="11.5" height="12.6" fill="#f8fcff"/><rect x="339.6" y="859.3" width="11.5" height="12.6" fill="#f8fcff"/><rect x="350.8" y="859.3" width="11.5" height="12.6" fill="#f9fcff"/><rect x="361.9" y="859.3" width="11.5" height="12.6" fill="#f9fdff"/><rect x="373.1" y="859.3" width="11.5" height="12.6" fill="#f9fdff"/><rect x="384.2" y="859.3" width="11.5" height="12.6" fill="#fafdff"/><rect x="395.4" y="859.3" width="11.5" height="12.6" fill="#fafdff"/><rect x="406.5" y="859.3" width="11.5" height="12.6" fill="#fbfdff"/><rect x="417.7" y="859.3" width="11.5" height="12.6" fill="#fbfdff"/><rect x="428.8" y="859.3" width="11.5" height="12.6" fill="#fcfeff"/><rect x="440.0" y="859.3" width="11.5" height="12.6" fill="#fcfeff"/><rect x="451.1" y="859.3" width="11.5" height="12.6" fill="#fcfeff"/><rect x="462.3" y="859.3" width="11.5" height="12.6" fill="#fdfeff"/><rect x="473.4" y="859.3" width="11.5" height="12.6" fill="#fdfeff"/><rect x="100.5" y="871.7" width="5.2" height="12.6" fill="#f8fcff"/><rect x="105.4" y="871.7" width="11.5" height="12.6" fill="#f4fbff"/><rect x="116.6" y="871.7" width="11.5" height="12.6" fill="#f0f9fe"/><rect x="127.7" y="871.7" width="11.5" height="12.6" fill="#f0f9fe"/><rect x="138.9" y="871.7" width="11.5" height="12.6" fill="#e9f6fe"/><rect x="150.0" y="871.7" width="11.5" height="12.6" fill="#f0f9fe"/><rect x="161.2" y="871.7" width="11.5" height="12.6" fill="#edf8fe"/><rect x="172.3" y="871.7" width="11.5" height="12.6" fill="#daf0fe"/><rect x="183.5" y="871.7" width="11.5" height="12.6" fill="#cbeafd"/><rect x="194.6" y="871.7" width="11.5" height="12.6" fill="#e2f3fe"/><rect x="205.8" y="871.7" width="11.5" height="12.6" fill="#ebf7fe"/><rect x="216.9" y="871.7" width="11.5" height="12.6" fill="#edf8fe"/><rect x="228.1" y="871.7" width="11.5" height="12.6" fill="#f0f9fe"/><rect x="239.2" y="871.7" width="11.5" height="12.6" fill="#f2fafe"/><rect x="250.4" y="871.7" width="11.5" height="12.6" fill="#f4fbff"/><rect x="261.6" y="871.7" width="11.5" height="12.6" fill="#f6fbff"/><rect x="272.7" y="871.7" width="11.5" height="12.6" fill="#f8fcff"/><rect x="283.9" y="871.7" width="11.5" height="12.6" fill="#f8fcff"/><rect x="295.0" y="871.7" width="11.5" height="12.6" fill="#f9fdff"/><rect x="306.2" y="871.7" width="11.5" height="12.6" fill="#f9fdff"/><rect x="317.3" y="871.7" width="11.5" height="12.6" fill="#f9fdff"/><rect x="328.5" y="871.7" width="11.5" height="12.6" fill="#f8fcff"/><rect x="339.6" y="871.7" width="11.5" height="12.6" fill="#f8fcff"/><rect x="350.8" y="871.7" width="11.5" height="12.6" fill="#f9fcff"/><rect x="361.9" y="871.7" width="11.5" height="12.6" fill="#f9fdff"/><rect x="373.1" y="871.7" width="11.5" height="12.6" fill="#f9fdff"/><rect x="384.2" y="871.7" width="11.5" height="12.6" fill="#fafdff"/><rect x="395.4" y="871.7" width="11.5" height="12.6" fill="#fafdff"/><rect x="406.5" y="871.7" width="11.5" height="12.6" fill="#fbfdff"/><rect x="417.7" y="871.7" width="11.5" height="12.6" fill="#fbfdff"/><rect x="428.8" y="871.7" width="11.5" height="12.6" fill="#fcfeff"/><rect x="440.0" y="871.7" width="11.5" height="12.6" fill="#fcfeff"/><rect x="451.1" y="871.7" width="11.5" height="12.6" fill="#fcfeff"/><rect x="462.3" y="871.7" width="11.5" height="12.6" fill="#fdfeff"/><rect x="473.4" y="871.7" width="11.5" height="12.6" fill="#fdfeff"/><rect x="100.5" y="884.0" width="5.2" height="12.6" fill="#f8fcff"/><rect x="105.4" y="884.0" width="11.5" height="12.6" fill="#f4fbff"/><rect x="116.6" y="884.0" width="11.5" height="12.6" fill="#f4fbff"/><rect x="127.7" y="884.0" width="11.5" height="12.6" fill="#f4fbff"/><rect x="138.9" y="884.0" width="11.5" height="12.6" fill="#f4fbff"/><rect x="150.0" y="884.0" width="11.5" height="12.6" fill="#f4fbff"/><rect x="161.2" y="884.0" width="11.5" height="12.6" fill="#f4fbff"/><rect x="172.3" y="884.0" width="11.5" height="12.6" fill="#e2f3fe"/><rect x="183.5" y="884.0" width="11.5" height="12.6" fill="#def2fe"/><rect x="194.6" y="884.0" width="11.5" height="12.6" fill="#e7f5fe"/><rect x="205.8" y="884.0" width="11.5" height="12.6" fill="#ebf7fe"/><rect x="216.9" y="884.0" width="11.5" height="12.6" fill="#eef8fe"/><rect x="228.1" y="884.0" width="11.5" height="12.6" fill="#f0f9fe"/><rect x="239.2" y="884.0" width="11.5" height="12.6" fill="#f4fbff"/><rect x="250.4" y="884.0" width="11.5" height="12.6" fill="#f6fbff"/><rect x="261.6" y="884.0" width="11.5" height="12.6" fill="#f8fcff"/><rect x="272.7" y="884.0" width="11.5" height="12.6" fill="#f8fcff"/><rect x="283.9" y="884.0" width="11.5" height="12.6" fill="#f9fdff"/><rect x="295.0" y="884.0" width="11.5" height="12.6" fill="#f9fdff"/><rect x="306.2" y="884.0" width="11.5" height="12.6" fill="#f9fdff"/><rect x="317.3" y="884.0" width="11.5" height="12.6" fill="#fbfeff"/><rect x="328.5" y="884.0" width="11.5" height="12.6" fill="#f8fcff"/><rect x="339.6" y="884.0" width="11.5" height="12.6" fill="#f8fcff"/><rect x="350.8" y="884.0" width="11.5" height="12.6" fill="#f9fcff"/><rect x="361.9" y="884.0" width="11.5" height="12.6" fill="#f9fdff"/><rect x="373.1" y="884.0" width="11.5" height="12.6" fill="#f9fdff"/><rect x="384.2" y="884.0" width="11.5" height="12.6" fill="#fafdff"/><rect x="395.4" y="884.0" width="11.5" height="12.6" fill="#fafdff"/><rect x="406.5" y="884.0" width="11.5" height="12.6" fill="#fbfdff"/><rect x="417.7" y="884.0" width="11.5" height="12.6" fill="#fbfdff"/><rect x="428.8" y="884.0" width="11.5" height="12.6" fill="#fcfeff"/><rect x="440.0" y="884.0" width="11.5" height="12.6" fill="#fcfeff"/><rect x="451.1" y="884.0" width="11.5" height="12.6" fill="#fcfeff"/><rect x="462.3" y="884.0" width="11.5" height="12.6" fill="#fdfeff"/><rect x="473.4" y="884.0" width="11.5" height="12.6" fill="#fdfeff"/><rect x="100.5" y="896.3" width="5.2" height="12.6" fill="#f4fbff"/><rect x="105.4" y="896.3" width="11.5" height="12.6" fill="#f3faff"/><rect x="116.6" y="896.3" width="11.5" height="12.6" fill="#f2fafe"/><rect x="127.7" y="896.3" width="11.5" height="12.6" fill="#f1f9fe"/><rect x="138.9" y="896.3" width="11.5" height="12.6" fill="#f0f9fe"/><rect x="150.0" y="896.3" width="11.5" height="12.6" fill="#eef8fe"/><rect x="161.2" y="896.3" width="11.5" height="12.6" fill="#edf8fe"/><rect x="172.3" y="896.3" width="11.5" height="12.6" fill="#e5f5fe"/><rect x="183.5" y="896.3" width="11.5" height="12.6" fill="#daf0fe"/><rect x="194.6" y="896.3" width="11.5" height="12.6" fill="#e5f5fe"/><rect x="205.8" y="896.3" width="11.5" height="12.6" fill="#e9f6fe"/><rect x="216.9" y="896.3" width="11.5" height="12.6" fill="#eef8fe"/><rect x="228.1" y="896.3" width="11.5" height="12.6" fill="#f2fafe"/><rect x="239.2" y="896.3" width="11.5" height="12.6" fill="#f4fbff"/><rect x="250.4" y="896.3" width="11.5" height="12.6" fill="#f5fbff"/><rect x="261.6" y="896.3" width="11.5" height="12.6" fill="#f5fbff"/><rect x="272.7" y="896.3" width="11.5" height="12.6" fill="#f6fbff"/><rect x="283.9" y="896.3" width="11.5" height="12.6" fill="#f6fbff"/><rect x="295.0" y="896.3" width="11.5" height="12.6" fill="#f6fcff"/><rect x="306.2" y="896.3" width="11.5" height="12.6" fill="#f7fcff"/><rect x="317.3" y="896.3" width="11.5" height="12.6" fill="#f7fcff"/><rect x="328.5" y="896.3" width="11.5" height="12.6" fill="#f7fcff"/><rect x="339.6" y="896.3" width="11.5" height="12.6" fill="#f7fcff"/><rect x="350.8" y="896.3" width="11.5" height="12.6" fill="#f8fcff"/><rect x="361.9" y="896.3" width="11.5" height="12.6" fill="#f8fcff"/><rect x="373.1" y="896.3" width="11.5" height="12.6" fill="#f8fcff"/><rect x="384.2" y="896.3" width="11.5" height="12.6" fill="#f9fcff"/><rect x="395.4" y="896.3" width="11.5" height="12.6" fill="#f9fdff"/><rect x="406.5" y="896.3" width="11.5" height="12.6" fill="#f9fdff"/><rect x="417.7" y="896.3" width="11.5" height="12.6" fill="#fafdff"/><rect x="100.5" y="908.7" width="5.2" height="12.6" fill="#f6fbff"/><rect x="105.4" y="908.7" width="11.5" height="12.6" fill="#f5fbff"/><rect x="116.6" y="908.7" width="11.5" height="12.6" fill="#f4faff"/><rect x="127.7" y="908.7" width="11.5" height="12.6" fill="#f2fafe"/><rect x="138.9" y="908.7" width="11.5" height="12.6" fill="#f1fafe"/><rect x="150.0" y="908.7" width="11.5" height="12.6" fill="#f0f9fe"/><rect x="161.2" y="908.7" width="11.5" height="12.6" fill="#eff9fe"/><rect x="172.3" y="908.7" width="11.5" height="12.6" fill="#e9f6fe"/><rect x="183.5" y="908.7" width="11.5" height="12.6" fill="#e5f5fe"/><rect x="194.6" y="908.7" width="11.5" height="12.6" fill="#e9f6fe"/><rect x="205.8" y="908.7" width="11.5" height="12.6" fill="#edf8fe"/><rect x="216.9" y="908.7" width="11.5" height="12.6" fill="#f0f9fe"/><rect x="228.1" y="908.7" width="11.5" height="12.6" fill="#f4fbff"/><rect x="239.2" y="908.7" width="11.5" height="12.6" fill="#f6fbff"/><rect x="250.4" y="908.7" width="11.5" height="12.6" fill="#f6fbff"/><rect x="261.6" y="908.7" width="11.5" height="12.6" fill="#f6fbff"/><rect x="272.7" y="908.7" width="11.5" height="12.6" fill="#f7fcff"/><rect x="283.9" y="908.7" width="11.5" height="12.6" fill="#f7fcff"/><rect x="295.0" y="908.7" width="11.5" height="12.6" fill="#f7fcff"/><rect x="306.2" y="908.7" width="11.5" height="12.6" fill="#f7fcff"/><rect x="317.3" y="908.7" width="11.5" height="12.6" fill="#f8fcff"/><rect x="328.5" y="908.7" width="11.5" height="12.6" fill="#f8fcff"/><rect x="339.6" y="908.7" width="11.5" height="12.6" fill="#f8fcff"/><rect x="350.8" y="908.7" width="11.5" height="12.6" fill="#f9fcff"/><rect x="361.9" y="908.7" width="11.5" height="12.6" fill="#f9fdff"/><rect x="373.1" y="908.7" width="11.5" height="12.6" fill="#f9fdff"/><rect x="384.2" y="908.7" width="11.5" height="12.6" fill="#f9fdff"/><rect x="395.4" y="908.7" width="11.5" height="12.6" fill="#fafdff"/><rect x="406.5" y="908.7" width="11.5" height="12.6" fill="#fafdff"/><rect x="417.7" y="908.7" width="11.5" height="12.6" fill="#fafdff"/><rect x="100.5" y="921.0" width="5.2" height="12.6" fill="#f8fcff"/><rect x="105.4" y="921.0" width="11.5" height="12.6" fill="#f7fcff"/><rect x="116.6" y="921.0" width="11.5" height="12.6" fill="#f5fbff"/><rect x="127.7" y="921.0" width="11.5" height="12.6" fill="#f4fbff"/><rect x="138.9" y="921.0" width="11.5" height="12.6" fill="#f3faff"/><rect x="150.0" y="921.0" width="11.5" height="12.6" fill="#f2fafe"/><rect x="161.2" y="921.0" width="11.5" height="12.6" fill="#f1f9fe"/><rect x="172.3" y="921.0" width="11.5" height="12.6" fill="#eef8fe"/><rect x="183.5" y="921.0" width="11.5" height="12.6" fill="#edf8fe"/><rect x="194.6" y="921.0" width="11.5" height="12.6" fill="#f0f9fe"/><rect x="205.8" y="921.0" width="11.5" height="12.6" fill="#f0f9fe"/><rect x="216.9" y="921.0" width="11.5" height="12.6" fill="#f4fbff"/><rect x="228.1" y="921.0" width="11.5" height="12.6" fill="#f6fbff"/><rect x="239.2" y="921.0" width="11.5" height="12.6" fill="#f8fcff"/><rect x="250.4" y="921.0" width="11.5" height="12.6" fill="#f7fcff"/><rect x="261.6" y="921.0" width="11.5" height="12.6" fill="#f7fcff"/><rect x="272.7" y="921.0" width="11.5" height="12.6" fill="#f7fcff"/><rect x="283.9" y="921.0" width="11.5" height="12.6" fill="#f8fcff"/><rect x="295.0" y="921.0" width="11.5" height="12.6" fill="#f8fcff"/><rect x="306.2" y="921.0" width="11.5" height="12.6" fill="#f8fcff"/><rect x="317.3" y="921.0" width="11.5" height="12.6" fill="#f9fcff"/><rect x="328.5" y="921.0" width="11.5" height="12.6" fill="#f9fdff"/><rect x="339.6" y="921.0" width="11.5" height="12.6" fill="#f9fdff"/><rect x="350.8" y="921.0" width="11.5" height="12.6" fill="#f9fdff"/><rect x="361.9" y="921.0" width="11.5" height="12.6" fill="#fafdff"/><rect x="373.1" y="921.0" width="11.5" height="12.6" fill="#fafdff"/><rect x="384.2" y="921.0" width="11.5" height="12.6" fill="#fafdff"/><rect x="395.4" y="921.0" width="11.5" height="12.6" fill="#fbfdff"/><rect x="406.5" y="921.0" width="11.5" height="12.6" fill="#fbfdff"/><rect x="417.7" y="921.0" width="11.5" height="12.6" fill="#fbfdff"/><rect x="100.5" y="933.3" width="5.2" height="12.6" fill="#f9fdff"/><rect x="105.4" y="933.3" width="11.5" height="12.6" fill="#f9fdff"/><rect x="116.6" y="933.3" width="11.5" height="12.6" fill="#f9fcff"/><rect x="127.7" y="933.3" width="11.5" height="12.6" fill="#f8fcff"/><rect x="138.9" y="933.3" width="11.5" height="12.6" fill="#f8fcff"/><rect x="150.0" y="933.3" width="11.5" height="12.6" fill="#f8fcff"/><rect x="161.2" y="933.3" width="11.5" height="12.6" fill="#f8fcff"/><rect x="172.3" y="933.3" width="11.5" height="12.6" fill="#f6fbff"/><rect x="183.5" y="933.3" width="11.5" height="12.6" fill="#f8fcff"/><rect x="194.6" y="933.3" width="11.5" height="12.6" fill="#f9fdff"/><rect x="205.8" y="933.3" width="11.5" height="12.6" fill="#f9fdff"/><rect x="216.9" y="933.3" width="11.5" height="12.6" fill="#f9fdff"/><rect x="228.1" y="933.3" width="11.5" height="12.6" fill="#fbfeff"/><rect x="239.2" y="933.3" width="11.5" height="12.6" fill="#fbfeff"/><rect x="250.4" y="933.3" width="11.5" height="12.6" fill="#f8fcff"/><rect x="261.6" y="933.3" width="11.5" height="12.6" fill="#f8fcff"/><rect x="272.7" y="933.3" width="11.5" height="12.6" fill="#f8fcff"/><rect x="283.9" y="933.3" width="11.5" height="12.6" fill="#f8fcff"/><rect x="295.0" y="933.3" width="11.5" height="12.6" fill="#f9fcff"/><rect x="306.2" y="933.3" width="11.5" height="12.6" fill="#f9fdff"/><rect x="317.3" y="933.3" width="11.5" height="12.6" fill="#f9fdff"/><rect x="328.5" y="933.3" width="11.5" height="12.6" fill="#fafdff"/><rect x="339.6" y="933.3" width="11.5" height="12.6" fill="#fafdff"/><rect x="350.8" y="933.3" width="11.5" height="12.6" fill="#fafdff"/><rect x="361.9" y="933.3" width="11.5" height="12.6" fill="#fbfdff"/><rect x="373.1" y="933.3" width="11.5" height="12.6" fill="#fbfdff"/><rect x="384.2" y="933.3" width="11.5" height="12.6" fill="#fbfdff"/><rect x="395.4" y="933.3" width="11.5" height="12.6" fill="#fbfeff"/><rect x="406.5" y="933.3" width="11.5" height="12.6" fill="#fcfeff"/><rect x="417.7" y="933.3" width="11.5" height="12.6" fill="#fcfeff"/><rect x="228.1" y="945.7" width="11.5" height="12.6" fill="#fbfdff"/><rect x="239.2" y="945.7" width="11.5" height="12.6" fill="#fbfdff"/><rect x="250.4" y="945.7" width="11.5" height="12.6" fill="#fbfdff"/><rect x="261.6" y="945.7" width="11.5" height="12.6" fill="#fbfdff"/><rect x="272.7" y="945.7" width="11.5" height="12.6" fill="#fbfdff"/><rect x="283.9" y="945.7" width="11.5" height="12.6" fill="#fbfdff"/><rect x="295.0" y="945.7" width="11.5" height="12.6" fill="#fbfdff"/><rect x="306.2" y="945.7" width="11.5" height="12.6" fill="#fbfdff"/><rect x="317.3" y="945.7" width="11.5" height="12.6" fill="#fbfdff"/><rect x="328.5" y="945.7" width="11.5" height="12.6" fill="#fbfdff"/><rect x="339.6" y="945.7" width="11.5" height="12.6" fill="#fbfdff"/><rect x="350.8" y="945.7" width="11.5" height="12.6" fill="#fbfdff"/><rect x="361.9" y="945.7" width="11.5" height="12.6" fill="#fbfeff"/><rect x="373.1" y="945.7" width="11.5" height="12.6" fill="#fcfeff"/><rect x="384.2" y="945.7" width="11.5" height="12.6" fill="#fcfeff"/><rect x="395.4" y="945.7" width="11.5" height="12.6" fill="#fcfeff"/><rect x="406.5" y="945.7" width="11.5" height="12.6" fill="#fcfeff"/><rect x="417.7" y="945.7" width="11.5" height="12.6" fill="#fdfeff"/><rect x="228.1" y="958.0" width="11.5" height="12.6" fill="#fbfdff"/><rect x="239.2" y="958.0" width="11.5" height="12.6" fill="#fbfdff"/><rect x="250.4" y="958.0" width="11.5" height="12.6" fill="#fbfdff"/><rect x="261.6" y="958.0" width="11.5" height="12.6" fill="#fbfdff"/><rect x="272.7" y="958.0" width="11.5" height="12.6" fill="#fbfdff"/><rect x="283.9" y="958.0" width="11.5" height="12.6" fill="#fbfdff"/><rect x="295.0" y="958.0" width="11.5" height="12.6" fill="#fbfdff"/><rect x="306.2" y="958.0" width="11.5" height="12.6" fill="#fbfdff"/><rect x="317.3" y="958.0" width="11.5" height="12.6" fill="#fbfdff"/><rect x="328.5" y="958.0" width="11.5" height="12.6" fill="#fbfdff"/><rect x="339.6" y="958.0" width="11.5" height="12.6" fill="#fcfeff"/><rect x="350.8" y="958.0" width="11.5" height="12.6" fill="#fcfeff"/><rect x="361.9" y="958.0" width="11.5" height="12.6" fill="#fcfeff"/><rect x="373.1" y="958.0" width="11.5" height="12.6" fill="#fcfeff"/><rect x="384.2" y="958.0" width="11.5" height="12.6" fill="#fdfeff"/><rect x="395.4" y="958.0" width="11.5" height="12.6" fill="#fdfeff"/><rect x="406.5" y="958.0" width="11.5" height="12.6" fill="#fdfeff"/><rect x="228.1" y="970.3" width="11.5" height="12.6" fill="#fbfdff"/><rect x="239.2" y="970.3" width="11.5" height="12.6" fill="#fbfdff"/><rect x="250.4" y="970.3" width="11.5" height="12.6" fill="#fbfdff"/><rect x="261.6" y="970.3" width="11.5" height="12.6" fill="#fbfdff"/><rect x="272.7" y="970.3" width="11.5" height="12.6" fill="#fbfdff"/><rect x="283.9" y="970.3" width="11.5" height="12.6" fill="#fbfdff"/><rect x="295.0" y="970.3" width="11.5" height="12.6" fill="#fbfdff"/><rect x="306.2" y="970.3" width="11.5" height="12.6" fill="#fbfeff"/><rect x="317.3" y="970.3" width="11.5" height="12.6" fill="#fcfeff"/><rect x="328.5" y="970.3" width="11.5" height="12.6" fill="#fcfeff"/><rect x="339.6" y="970.3" width="11.5" height="12.6" fill="#fcfeff"/><rect x="350.8" y="970.3" width="11.5" height="12.6" fill="#fdfeff"/><rect x="361.9" y="970.3" width="11.5" height="12.6" fill="#fdfeff"/><rect x="373.1" y="970.3" width="11.5" height="12.6" fill="#fdfeff"/><rect x="228.1" y="982.6" width="11.5" height="12.6" fill="#fbfdff"/><rect x="239.2" y="982.6" width="11.5" height="12.6" fill="#fbfdff"/><rect x="250.4" y="982.6" width="11.5" height="12.6" fill="#fbfdff"/><rect x="261.6" y="982.6" width="11.5" height="12.6" fill="#fbfdff"/><rect x="272.7" y="982.6" width="11.5" height="12.6" fill="#fbfeff"/><rect x="283.9" y="982.6" width="11.5" height="12.6" fill="#fcfeff"/><rect x="295.0" y="982.6" width="11.5" height="12.6" fill="#fcfeff"/><rect x="306.2" y="982.6" width="11.5" height="12.6" fill="#fcfeff"/><rect x="317.3" y="982.6" width="11.5" height="12.6" fill="#fdfeff"/><rect x="328.5" y="982.6" width="11.5" height="12.6" fill="#fdfeff"/><rect x="339.6" y="982.6" width="11.5" height="12.6" fill="#fdfeff"/><rect x="350.8" y="982.6" width="11.5" height="12.6" fill="#fdfeff"/><rect x="228.1" y="995.0" width="11.5" height="12.6" fill="#fbfdff"/><rect x="239.2" y="995.0" width="11.5" height="12.6" fill="#fbfeff"/><rect x="250.4" y="995.0" width="11.5" height="12.6" fill="#fcfeff"/><rect x="261.6" y="995.0" width="11.5" height="12.6" fill="#fcfeff"/><rect x="272.7" y="995.0" width="11.5" height="12.6" fill="#fcfeff"/><rect x="283.9" y="995.0" width="11.5" height="12.6" fill="#fcfeff"/><rect x="295.0" y="995.0" width="11.5" height="12.6" fill="#fdfeff"/><rect x="306.2" y="995.0" width="11.5" height="12.6" fill="#fdfeff"/><rect x="317.3" y="995.0" width="11.5" height="12.6" fill="#fdfeff"/><rect x="228.1" y="1007.3" width="11.5" height="12.6" fill="#fcfeff"/><rect x="239.2" y="1007.3" width="11.5" height="12.6" fill="#fcfeff"/><rect x="250.4" y="1007.3" width="11.5" height="12.6" fill="#fcfeff"/><rect x="261.6" y="1007.3" width="11.5" height="12.6" fill="#fdfeff"/><rect x="272.7" y="1007.3" width="11.5" height="12.6" fill="#fdfeff"/><rect x="283.9" y="1007.3" width="11.5" height="12.6" fill="#fdfeff"/><rect x="228.1" y="1019.6" width="11.5" height="12.6" fill="#fdfeff"/><rect x="239.2" y="1019.6" width="11.5" height="12.6" fill="#fdfeff"/><rect x="250.4" y="1019.6" width="11.5" height="12.6" fill="#fdfeff"/><rect x="228.1" y="1032.0" width="11.5" height="12.6" fill="#fdfeff"/></g>
<clipPath id="axclip"><rect x="100.5" y="600.4" width="505.9" height="443.9"/></clipPath><g clip-path="url(#axclip)" fill="none" stroke-linejoin="miter" stroke-linecap="butt"><path d="M100.1,969.6C101.2,963 104.9,941.6 107,930C109.1,918.4 110.8,910 112.5,900C114.2,890 116.3,877.5 117.5,870C118.7,862.5 118.8,860 119.7,855C120.6,850 120.6,849.2 123,840C125.4,830.8 130.5,811.7 134,800C137.5,788.3 140.8,778.9 144,770C147.2,761.1 150.3,755.1 153.5,746.8C156.7,738.5 160.8,726.3 163,720C165.2,713.7 165.1,713.9 166.5,708.9C167.9,703.9 169.7,696.3 171.5,690C173.3,683.7 175.4,677.7 177.5,671C179.6,664.3 182.1,656.3 184,650C185.9,643.7 187.7,637.8 189,633C190.3,628.2 191,624.8 192,621C193,617.2 193.9,613.4 195,610C196.1,606.6 197.8,602.3 198.4,600.8 M198.4,600.8C199.8,604.2 204.2,614.8 206.8,621.3C209.4,627.8 211.5,633.5 214,640C216.5,646.5 219.3,653.3 222,660C224.7,666.7 227.4,674.2 230.2,680C233,685.8 235.8,689.2 239,694.6C242.2,700 245.8,706.8 249.2,712.1C252.6,717.5 256,722.1 259.4,726.7C262.8,731.3 266,735.8 269.6,739.9C273.2,744 276.9,747.4 281.3,751.5C285.7,755.6 290.3,760.3 295.9,764.7C301.5,769.1 309.2,774.2 314.9,777.8C320.6,781.4 325,783.8 330,786.5C335,789.2 336.8,790.2 345,794C353.2,797.8 367.1,805 379.4,809C391.7,813 408.7,815.7 418.8,818C428.9,820.3 432.3,821.3 440,822.7C447.7,824.1 456.5,825.1 464.8,826.4C473.1,827.6 481.3,829 489.6,830.2C497.9,831.4 506.2,832.5 514.5,833.4C522.8,834.3 531,835.2 539.3,835.9C547.6,836.6 555.8,837.1 564.1,837.6C572.4,838.1 581.9,838.5 588.9,838.8C595.9,839.1 603.5,839.5 606.4,839.6" stroke="#f2c20a" stroke-opacity="0.55" stroke-width="3"/><path d="M100.1,969.6C101.5,963 106,941.6 108.5,930C111,918.4 112.8,910 115,900C117.2,890 119.8,877.5 121.5,870C123.2,862.5 123.8,860 125,855C126.2,850 126.4,849.2 128.9,840C131.4,830.8 136.8,811.7 140,800C143.2,788.3 145.4,778.9 148,770C150.6,761.1 152.7,755.1 155.7,746.8C158.7,738.5 163.5,726.3 166,720C168.5,713.7 168.5,713.9 170.5,708.9C172.5,703.9 175.3,696.3 178,690C180.7,683.7 183.3,677.7 186.5,671C189.7,664.3 193.7,656.3 197,650C200.3,643.7 203.8,637.8 206.5,633C209.2,628.2 211.3,624.8 213.5,621C215.7,617.2 217.6,613.4 219.5,610C221.4,606.6 224.2,602.3 225.2,600.8 M225.2,602.4C226.9,605.1 232,613.5 235.7,618.6C239.4,623.7 244.2,628.9 247.3,633C250.5,637.1 252.2,639.8 254.6,643.2C257,646.6 259.5,650.2 261.9,653.4C264.3,656.6 266.8,659.5 269.2,662.2C271.6,664.9 274.1,667.1 276.5,669.5C278.9,671.9 281.4,674.2 283.8,676.3C286.2,678.4 288.7,680 291.1,682C293.5,684 295.7,685.9 298.4,688C301.1,690.1 303.9,692.2 307.2,694.5C310.5,696.8 314.2,699.1 318,701.5C321.8,703.9 324.5,705.5 330,708.6C335.5,711.7 342.8,716.2 351,720C359.2,723.8 368.1,727.1 379.4,731.5C390.7,735.9 408.7,743.1 418.8,746.5C428.9,749.9 432.3,750.3 440,752C447.7,753.7 456.5,755.2 464.8,756.9C473.1,758.5 481.3,760.4 489.6,761.9C497.9,763.4 506.2,764.4 514.5,765.6C522.8,766.9 531,768.3 539.3,769.4C547.6,770.5 555.8,771.4 564.1,772.3C572.4,773.2 581.9,774.1 588.9,774.8C595.9,775.5 603.5,776 606.4,776.3" stroke="#f2c20a" stroke-opacity="0.55" stroke-width="3"/><path d="M100.1,969.6C101.7,963 106.7,941.6 109.5,930C112.3,918.4 114.5,910 117,900C119.5,890 122.6,877.5 124.5,870C126.4,862.5 127.1,860 128.5,855C129.9,850 130.4,849.2 133,840C135.6,830.8 140.7,811.7 144,800C147.3,788.3 150.3,778.9 153,770C155.7,761.1 157.3,755.1 160,746.8C162.7,738.5 166.8,726.3 169,720C171.2,713.7 171,713.9 173,708.9C175,703.9 178.1,696.3 181,690C183.9,683.7 186.8,677.7 190.5,671C194.2,664.3 199.2,656.3 203.5,650C207.8,643.7 212.3,637.8 216.4,633C220.5,628.2 224.4,624.8 228,621C231.6,617.2 234.1,613.4 238,610C241.9,606.6 249.2,602.3 251.5,600.8 M251.5,601.6C252.2,602.2 254.3,604.2 256,605.5C257.7,606.8 258.5,607.5 261.9,609.6C265.3,611.8 271.6,615.2 276.5,618.4C281.4,621.6 286.2,625.6 291.1,628.6C296,631.6 300.8,634.1 305.7,636.6C310.6,639.1 314.6,641.1 320.3,643.9C326,646.7 335.5,651.4 340,653.4C344.5,655.4 343.3,654.5 347.5,656.1C351.7,657.7 359.1,660.9 365,663.1C370.9,665.3 376.8,667.2 382.6,669.2C388.5,671.2 394.3,673.2 400.1,675.3C405.9,677.3 411,679.5 417.6,681.5C424.2,683.5 432.1,685.2 440,687.4C447.9,689.6 456.5,692.4 464.8,694.9C473.1,697.4 481.3,700 489.6,702.3C497.9,704.6 506.2,706.6 514.5,708.5C522.8,710.4 531,712 539.3,713.5C547.6,715 555.8,716.1 564.1,717.2C572.4,718.3 581.9,719.3 588.9,720.2C595.9,721.1 603.5,722 606.4,722.4" stroke="#f2c20a" stroke-opacity="0.55" stroke-width="3"/><path d="M100.1,969.6C101.9,963 107.8,941.6 111,930C114.2,918.4 116.2,910 119,900C121.8,890 125.3,877.5 127.5,870C129.7,862.5 130.5,860 132,855C133.5,850 133.8,849.2 136.5,840C139.2,830.8 144.5,811.7 148,800C151.5,788.3 154.8,778.9 157.5,770C160.2,761.1 162,755.1 164.5,746.8C167,738.5 170.5,726.3 172.5,720C174.5,713.7 174.5,713.9 176.5,708.9C178.5,703.9 181.6,696.3 184.5,690C187.4,683.7 190.1,677.7 194,671C197.9,664.3 203.3,656.3 208,650C212.7,643.7 217.3,637.8 222,633C226.7,628.2 231.7,624.8 236,621C240.3,617.2 243.7,613.4 248,610C252.3,606.6 259.7,602.3 262,600.8 M262,600.6C263.7,601.9 268.5,605.6 272.1,608.1C275.7,610.6 279.4,612.7 283.8,615.4C288.2,618.1 293.5,621.3 298.4,624.2C303.3,627.1 308.1,630.1 313,633C317.9,635.9 323.1,639.2 327.6,641.7C332.1,644.2 336.7,646.5 340,648.3C343.3,650.1 343.3,650.6 347.5,652.6C351.7,654.6 359.1,657.9 365,660.4C370.9,662.9 376.8,665.2 382.6,667.4C388.5,669.6 394.3,671.7 400.1,673.6C405.9,675.5 411,677.1 417.6,678.8C424.2,680.5 432.1,682.1 440,683.7C447.9,685.4 456.5,687 464.8,688.7C473.1,690.4 481.3,692.2 489.6,693.7C497.9,695.2 506.2,696.5 514.5,697.9C522.8,699.2 531,700.6 539.3,701.8C547.6,702.9 555.8,703.9 564.1,704.8C572.4,705.7 581.9,706.7 588.9,707.3C595.9,707.9 603.5,708.4 606.4,708.6" stroke="#f2c20a" stroke-opacity="0.55" stroke-width="3"/><path d="M100.1,969.6C103.1,965.9 111.5,956.2 118.4,947.5C125.3,938.8 134.8,926.2 141.7,917.1C148.6,908 153.9,901.5 160,893C166.1,884.5 171.9,875.1 178,866C184.1,856.9 190.2,847.3 196.3,838.5C202.4,829.7 208.6,821.3 214.7,813.1C220.8,804.9 227.4,796.9 233.1,789.4C238.8,781.9 244,775 248.8,768.4C253.6,761.8 257.6,756.6 262,750C266.4,743.4 270.7,736.4 275.1,729C279.5,721.6 283.8,713.3 288.2,705.4C292.6,697.5 297,690 301.4,681.7C305.8,673.4 310.1,664.6 314.5,655.4C318.9,646.2 323.4,635.6 327.6,626.5C331.8,617.4 337.6,605.2 339.6,600.9 M339.6,600.9C340.3,602.2 341.8,604.9 344,608.8C346.2,612.7 349.6,619.2 352.8,624.5C356,629.8 359.8,635.3 363.3,640.3C366.8,645.3 370,649.6 373.8,654.3C377.6,659 381.7,663.9 386.1,668.3C390.5,672.7 394.9,676.2 400.1,680.6C405.4,685 411.8,690.2 417.6,694.6C423.4,699 429.7,703.1 435.1,706.9C440.5,710.7 445.1,714.2 450,717.4C454.9,720.6 458.2,722 464.8,725.9C471.4,729.8 481.3,736 489.6,740.8C497.9,745.6 506.2,749.5 514.5,754.5C522.8,759.5 531,765.2 539.3,770.6C547.6,776 555.8,780.7 564.1,786.7C572.4,792.7 581.9,800.6 588.9,806.6C595.9,812.6 603.5,820.3 606.4,823" stroke="#5a5a5a" stroke-opacity="0.5" stroke-width="3"/></g>
<rect x="100.5" y="600.4" width="505.9" height="443.9" fill="none" stroke="#262626" stroke-width="1.1"/><line x1="184.8" y1="1044.3" x2="184.8" y2="1039.3" stroke="#262626" stroke-width="1.1"/><line x1="184.8" y1="600.4" x2="184.8" y2="605.4" stroke="#262626" stroke-width="1.1"/><line x1="269.1" y1="1044.3" x2="269.1" y2="1039.3" stroke="#262626" stroke-width="1.1"/><line x1="269.1" y1="600.4" x2="269.1" y2="605.4" stroke="#262626" stroke-width="1.1"/><line x1="353.4" y1="1044.3" x2="353.4" y2="1039.3" stroke="#262626" stroke-width="1.1"/><line x1="353.4" y1="600.4" x2="353.4" y2="605.4" stroke="#262626" stroke-width="1.1"/><line x1="437.8" y1="1044.3" x2="437.8" y2="1039.3" stroke="#262626" stroke-width="1.1"/><line x1="437.8" y1="600.4" x2="437.8" y2="605.4" stroke="#262626" stroke-width="1.1"/><line x1="522.1" y1="1044.3" x2="522.1" y2="1039.3" stroke="#262626" stroke-width="1.1"/><line x1="522.1" y1="600.4" x2="522.1" y2="605.4" stroke="#262626" stroke-width="1.1"/><line x1="100.5" y1="896.3" x2="105.5" y2="896.3" stroke="#262626" stroke-width="1.1"/><line x1="606.4" y1="896.3" x2="601.4" y2="896.3" stroke="#262626" stroke-width="1.1"/><line x1="100.5" y1="748.4" x2="105.5" y2="748.4" stroke="#262626" stroke-width="1.1"/><line x1="606.4" y1="748.4" x2="601.4" y2="748.4" stroke="#262626" stroke-width="1.1"/><text x="100.5" y="1083.4" font-size="30" text-anchor="middle" font-family='"Liberation Sans", sans-serif' fill="#262626">1</text><text x="184.8" y="1083.4" font-size="30" text-anchor="middle" font-family='"Liberation Sans", sans-serif' fill="#262626">2</text><text x="269.1" y="1083.4" font-size="30" text-anchor="middle" font-family='"Liberation Sans", sans-serif' fill="#262626">3</text><text x="353.4" y="1083.4" font-size="30" text-anchor="middle" font-family='"Liberation Sans", sans-serif' fill="#262626">4</text><text x="437.8" y="1083.4" font-size="30" text-anchor="middle" font-family='"Liberation Sans", sans-serif' fill="#262626">5</text><text x="522.1" y="1083.4" font-size="30" text-anchor="middle" font-family='"Liberation Sans", sans-serif' fill="#262626">6</text><text x="91.6" y="1055.0" font-size="30" text-anchor="end" font-family='"Liberation Sans", sans-serif' fill="#262626">90</text><text x="91.6" y="907.0" font-size="30" text-anchor="end" font-family='"Liberation Sans", sans-serif' fill="#262626">120</text><text x="91.6" y="759.1" font-size="30" text-anchor="end" font-family='"Liberation Sans", sans-serif' fill="#262626">150</text><text x="91.6" y="611.1" font-size="30" text-anchor="end" font-family='"Liberation Sans", sans-serif' fill="#262626">180</text><text x="116.5" y="1021.5" font-size="50" font-weight="bold" font-family='"Liberation Sans", sans-serif' fill="#000">b</text>
<rect x="254.9" y="861.3" width="331.30000000000007" height="131.5" fill="#fff"/><line x1="276.5" y1="861.3" x2="276.5" y2="992.8" stroke="#e3e3e3" stroke-width="1"/><line x1="312.5" y1="861.3" x2="312.5" y2="992.8" stroke="#e3e3e3" stroke-width="1"/><line x1="348.5" y1="861.3" x2="348.5" y2="992.8" stroke="#e3e3e3" stroke-width="1"/><line x1="384.5" y1="861.3" x2="384.5" y2="992.8" stroke="#e3e3e3" stroke-width="1"/><line x1="420.6" y1="861.3" x2="420.6" y2="992.8" stroke="#e3e3e3" stroke-width="1"/><line x1="456.6" y1="861.3" x2="456.6" y2="992.8" stroke="#e3e3e3" stroke-width="1"/><line x1="492.6" y1="861.3" x2="492.6" y2="992.8" stroke="#e3e3e3" stroke-width="1"/><line x1="528.6" y1="861.3" x2="528.6" y2="992.8" stroke="#e3e3e3" stroke-width="1"/><line x1="564.6" y1="861.3" x2="564.6" y2="992.8" stroke="#e3e3e3" stroke-width="1"/><rect x="262.1" y="890.3" width="28.8" height="102.5" fill="#fdd43f" stroke="#262626" stroke-width="0.8"/><rect x="298.1" y="951.6" width="28.8" height="41.2" fill="#404040" stroke="#262626" stroke-width="0.8"/><rect x="334.1" y="891.4" width="28.8" height="101.4" fill="#fdd43f" stroke="#262626" stroke-width="0.8"/><rect x="370.1" y="985.4" width="28.8" height="7.4" fill="#404040" stroke="#262626" stroke-width="0.8"/><rect x="406.1" y="990.1" width="28.8" height="2.7" fill="#404040" stroke="#262626" stroke-width="0.8"/><rect x="442.2" y="873.1" width="28.8" height="119.7" fill="#fdd43f" stroke="#262626" stroke-width="0.8"/><rect x="478.2" y="976.8" width="28.8" height="16.0" fill="#404040" stroke="#262626" stroke-width="0.8"/><rect x="514.2" y="976.4" width="28.8" height="16.4" fill="#404040" stroke="#262626" stroke-width="0.8"/><line x1="276.5" y1="861.3" x2="276.5" y2="992.8" stroke="#000" stroke-opacity="0.06" stroke-width="1"/><line x1="312.5" y1="861.3" x2="312.5" y2="992.8" stroke="#000" stroke-opacity="0.06" stroke-width="1"/><line x1="348.5" y1="861.3" x2="348.5" y2="992.8" stroke="#000" stroke-opacity="0.06" stroke-width="1"/><line x1="384.5" y1="861.3" x2="384.5" y2="992.8" stroke="#000" stroke-opacity="0.06" stroke-width="1"/><line x1="420.6" y1="861.3" x2="420.6" y2="992.8" stroke="#000" stroke-opacity="0.06" stroke-width="1"/><line x1="456.6" y1="861.3" x2="456.6" y2="992.8" stroke="#000" stroke-opacity="0.06" stroke-width="1"/><line x1="492.6" y1="861.3" x2="492.6" y2="992.8" stroke="#000" stroke-opacity="0.06" stroke-width="1"/><line x1="528.6" y1="861.3" x2="528.6" y2="992.8" stroke="#000" stroke-opacity="0.06" stroke-width="1"/><line x1="564.6" y1="861.3" x2="564.6" y2="992.8" stroke="#000" stroke-opacity="0.06" stroke-width="1"/><rect x="254.9" y="861.3" width="331.30000000000007" height="131.5" fill="none" stroke="#262626" stroke-width="1.1"/><line x1="254.9" y1="951.9" x2="258.4" y2="951.9" stroke="#262626" stroke-width="1"/><line x1="586.2" y1="951.9" x2="582.7" y2="951.9" stroke="#262626" stroke-width="1"/><line x1="254.9" y1="911.0" x2="258.4" y2="911.0" stroke="#262626" stroke-width="1"/><line x1="586.2" y1="911.0" x2="582.7" y2="911.0" stroke="#262626" stroke-width="1"/><line x1="254.9" y1="870.1" x2="258.4" y2="870.1" stroke="#262626" stroke-width="1"/><line x1="586.2" y1="870.1" x2="582.7" y2="870.1" stroke="#262626" stroke-width="1"/><line x1="276.5" y1="861.3" x2="276.5" y2="864.8" stroke="#262626" stroke-width="1"/><line x1="276.5" y1="992.8" x2="276.5" y2="989.3" stroke="#262626" stroke-width="1"/><line x1="312.5" y1="861.3" x2="312.5" y2="864.8" stroke="#262626" stroke-width="1"/><line x1="312.5" y1="992.8" x2="312.5" y2="989.3" stroke="#262626" stroke-width="1"/><line x1="348.5" y1="861.3" x2="348.5" y2="864.8" stroke="#262626" stroke-width="1"/><line x1="348.5" y1="992.8" x2="348.5" y2="989.3" stroke="#262626" stroke-width="1"/><line x1="384.5" y1="861.3" x2="384.5" y2="864.8" stroke="#262626" stroke-width="1"/><line x1="384.5" y1="992.8" x2="384.5" y2="989.3" stroke="#262626" stroke-width="1"/><line x1="420.6" y1="861.3" x2="420.6" y2="864.8" stroke="#262626" stroke-width="1"/><line x1="420.6" y1="992.8" x2="420.6" y2="989.3" stroke="#262626" stroke-width="1"/><line x1="456.6" y1="861.3" x2="456.6" y2="864.8" stroke="#262626" stroke-width="1"/><line x1="456.6" y1="992.8" x2="456.6" y2="989.3" stroke="#262626" stroke-width="1"/><line x1="492.6" y1="861.3" x2="492.6" y2="864.8" stroke="#262626" stroke-width="1"/><line x1="492.6" y1="992.8" x2="492.6" y2="989.3" stroke="#262626" stroke-width="1"/><line x1="528.6" y1="861.3" x2="528.6" y2="864.8" stroke="#262626" stroke-width="1"/><line x1="528.6" y1="992.8" x2="528.6" y2="989.3" stroke="#262626" stroke-width="1"/><line x1="564.6" y1="861.3" x2="564.6" y2="864.8" stroke="#262626" stroke-width="1"/><line x1="564.6" y1="992.8" x2="564.6" y2="989.3" stroke="#262626" stroke-width="1"/><text x="249.5" y="999.8" font-size="20" text-anchor="end" font-family='"Liberation Sans", sans-serif' fill="#262626">0</text><text x="249.5" y="958.9" font-size="20" text-anchor="end" font-family='"Liberation Sans", sans-serif' fill="#262626">0.1</text><text x="249.5" y="918.0" font-size="20" text-anchor="end" font-family='"Liberation Sans", sans-serif' fill="#262626">0.2</text><text x="249.5" y="877.1" font-size="20" text-anchor="end" font-family='"Liberation Sans", sans-serif' fill="#262626">0.3</text><text x="276.5" y="843.5" font-size="19.5" text-anchor="middle" font-family='"Liberation Sans", sans-serif' fill="#262626"><tspan font-size="15" dy="-8.8">3</tspan><tspan dy="8.8">B</tspan><tspan font-size="15" dy="9.5">1</tspan></text><text x="348.5" y="843.5" font-size="19.5" text-anchor="middle" font-family='"Liberation Sans", sans-serif' fill="#262626"><tspan font-size="15" dy="-8.8">1</tspan><tspan dy="8.8">B</tspan><tspan font-size="15" dy="9.5">1</tspan></text><text x="420.6" y="843.5" font-size="19.5" text-anchor="middle" font-family='"Liberation Sans", sans-serif' fill="#262626"><tspan font-size="15" dy="-8.8">1</tspan><tspan dy="8.8">A</tspan><tspan font-size="15" dy="9.5">2</tspan></text><text x="492.6" y="843.5" font-size="19.5" text-anchor="middle" font-family='"Liberation Sans", sans-serif' fill="#262626"><tspan font-size="15" dy="-8.8">3</tspan><tspan dy="8.8">B</tspan><tspan font-size="15" dy="9.5">2</tspan></text><text x="564.6" y="843.5" font-size="19.5" text-anchor="middle" font-family='"Liberation Sans", sans-serif' fill="#262626">3<tspan font-size="15" dy="-8.8">1</tspan><tspan dy="8.8">A</tspan><tspan font-size="15" dy="9.5">1</tspan></text><text x="312.5" y="1025.9" font-size="19.5" text-anchor="middle" font-family='"Liberation Sans", sans-serif' fill="#262626">1<tspan font-size="15" dy="-8.8">1</tspan><tspan dy="8.8">A</tspan><tspan font-size="15" dy="9.5">1</tspan></text><text x="384.5" y="1025.9" font-size="19.5" text-anchor="middle" font-family='"Liberation Sans", sans-serif' fill="#262626"><tspan font-size="15" dy="-8.8">3</tspan><tspan dy="8.8">A</tspan><tspan font-size="15" dy="9.5">2</tspan></text><text x="456.6" y="1025.9" font-size="19.5" text-anchor="middle" font-family='"Liberation Sans", sans-serif' fill="#262626">2<tspan font-size="15" dy="-8.8">1</tspan><tspan dy="8.8">A</tspan><tspan font-size="15" dy="9.5">1</tspan></text><text x="528.6" y="1025.9" font-size="19.5" text-anchor="middle" font-family='"Liberation Sans", sans-serif' fill="#262626"><tspan font-size="15" dy="-8.8">1</tspan><tspan dy="8.8">B</tspan><tspan font-size="15" dy="9.5">2</tspan></text>
<linearGradient id="cbg" x1="0" y1="0" x2="0" y2="1"><stop offset="0.00" stop-color="#10588a"/><stop offset="0.02" stop-color="#105c90"/><stop offset="0.04" stop-color="#0f6097"/><stop offset="0.06" stop-color="#0f649d"/><stop offset="0.08" stop-color="#0e68a4"/><stop offset="0.10" stop-color="#0e6daa"/><stop offset="0.12" stop-color="#0d71b1"/><stop offset="0.14" stop-color="#0d75b7"/><stop offset="0.16" stop-color="#0c79be"/><stop offset="0.18" stop-color="#0c7dc4"/><stop offset="0.20" stop-color="#0b81cb"/><stop offset="0.22" stop-color="#0b85d1"/><stop offset="0.24" stop-color="#0a89d8"/><stop offset="0.26" stop-color="#0a8ede"/><stop offset="0.28" stop-color="#0992e5"/><stop offset="0.30" stop-color="#0996eb"/><stop offset="0.32" stop-color="#089af2"/><stop offset="0.34" stop-color="#0c9df5"/><stop offset="0.36" stop-color="#13a0f5"/><stop offset="0.38" stop-color="#1aa3f6"/><stop offset="0.40" stop-color="#22a6f6"/><stop offset="0.42" stop-color="#29a9f6"/><stop offset="0.44" stop-color="#31acf7"/><stop offset="0.46" stop-color="#38aff7"/><stop offset="0.48" stop-color="#3fb2f7"/><stop offset="0.50" stop-color="#47b5f8"/><stop offset="0.52" stop-color="#4eb8f8"/><stop offset="0.54" stop-color="#55bbf8"/><stop offset="0.56" stop-color="#5dbef8"/><stop offset="0.58" stop-color="#64c1f9"/><stop offset="0.60" stop-color="#6cc4f9"/><stop offset="0.62" stop-color="#73c7f9"/><stop offset="0.64" stop-color="#7acafa"/><stop offset="0.66" stop-color="#82cdfa"/><stop offset="0.68" stop-color="#89d0fa"/><stop offset="0.70" stop-color="#90d3fb"/><stop offset="0.72" stop-color="#98d6fb"/><stop offset="0.74" stop-color="#9fd9fb"/><stop offset="0.76" stop-color="#a7dcfb"/><stop offset="0.78" stop-color="#aedefc"/><stop offset="0.80" stop-color="#b5e1fc"/><stop offset="0.82" stop-color="#bde4fc"/><stop offset="0.84" stop-color="#c4e7fd"/><stop offset="0.86" stop-color="#cbeafd"/><stop offset="0.88" stop-color="#d3edfd"/><stop offset="0.90" stop-color="#daf0fe"/><stop offset="0.92" stop-color="#e2f3fe"/><stop offset="0.94" stop-color="#e9f6fe"/><stop offset="0.96" stop-color="#f0f9fe"/><stop offset="0.98" stop-color="#f8fcff"/><stop offset="1.00" stop-color="#ffffff"/></linearGradient><rect x="618.2" y="600.3" width="21.799999999999955" height="444.0" fill="url(#cbg)" stroke="#262626" stroke-width="1.1"/><text x="647.3" y="1055.0" font-size="30" font-family='"Liberation Sans", sans-serif' fill="#262626">0</text><line x1="640.0" y1="955.5" x2="636.0" y2="955.5" stroke="#262626" stroke-width="1.1"/><text x="647.3" y="966.2" font-size="30" font-family='"Liberation Sans", sans-serif' fill="#262626">0.2</text><line x1="640.0" y1="866.7" x2="636.0" y2="866.7" stroke="#262626" stroke-width="1.1"/><text x="647.3" y="877.4" font-size="30" font-family='"Liberation Sans", sans-serif' fill="#262626">0.4</text><line x1="640.0" y1="777.9" x2="636.0" y2="777.9" stroke="#262626" stroke-width="1.1"/><text x="647.3" y="788.6" font-size="30" font-family='"Liberation Sans", sans-serif' fill="#262626">0.6</text><line x1="640.0" y1="689.1" x2="636.0" y2="689.1" stroke="#262626" stroke-width="1.1"/><text x="647.3" y="699.8" font-size="30" font-family='"Liberation Sans", sans-serif' fill="#262626">0.8</text><text x="647.3" y="611.0" font-size="30" font-family='"Liberation Sans", sans-serif' fill="#262626">1</text>
<g transform="rotate(-90)"><text transform="translate(-901.54,25.60) scale(1.021,1.004)" font-family='"Liberation Serif", serif' font-size="33" font-style="italic" fill="#262626">θ</text><text transform="translate(-885.38,30.80) scale(0.983,0.971)" font-family='"Liberation Serif", serif' font-size="25" font-style="normal" fill="#262626">DOD</text><text transform="translate(-816.98,25.78) scale(0.980,1.031)" font-family='"Liberation Serif", serif' font-size="36" font-style="normal" fill="#262626">(</text><text transform="translate(-804.24,24.22) scale(1.038,1.096)" font-family='"Liberation Serif", serif' font-size="30" font-style="normal" fill="#262626">deg</text><text transform="translate(-756.78,25.78) scale(0.980,1.031)" font-family='"Liberation Serif", serif' font-size="36" font-style="normal" fill="#262626">)</text></g>
<text transform="translate(296.55,1121.10) scale(1.054,1.006)" font-family='"Liberation Serif", serif' font-size="35" font-style="italic" fill="#262626">r</text>
<text transform="translate(311.30,1126.40) scale(1.103,0.987)" font-family='"Liberation Serif", serif' font-size="23" font-style="normal" fill="#262626">OD</text>
<text transform="translate(361.21,1123.24) scale(0.944,1.032)" font-family='"Liberation Serif", serif' font-size="37" font-style="normal" fill="#262626">(</text>
<text transform="translate(374.50,1121.10) scale(0.872,1.017)" font-family='"Liberation Serif", serif' font-size="35" font-style="normal" fill="#262626">Å</text>
<text transform="translate(398.24,1123.24) scale(0.860,1.032)" font-family='"Liberation Serif", serif' font-size="37" font-style="normal" fill="#262626">)</text>
</svg>
</body></html>
